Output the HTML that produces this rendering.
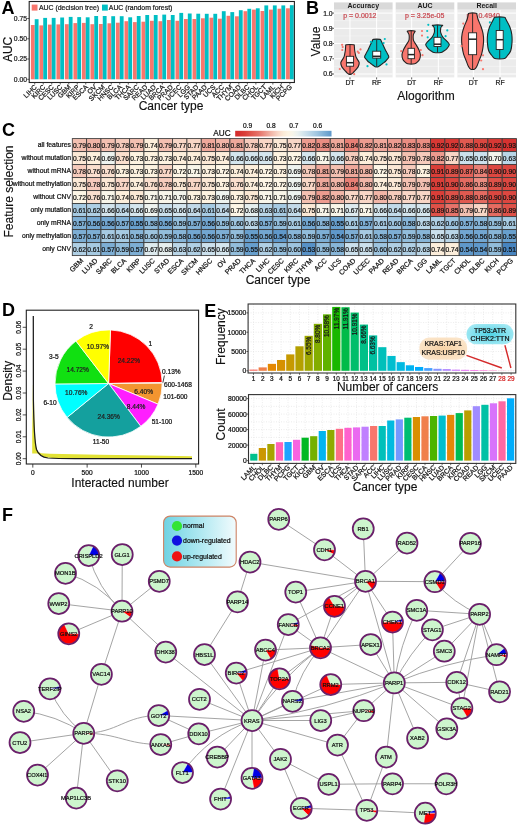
<!DOCTYPE html>
<html><head><meta charset="utf-8"><style>
html,body{margin:0;padding:0;background:#fff;}
svg{display:block;font-family:"Liberation Sans", sans-serif;will-change:transform;}
</style></head><body>
<svg width="520" height="827" viewBox="0 0 520 827">
<rect width="520" height="827" fill="#fff"/>
<rect x="30.90" y="25.00" width="3.83" height="54.30" fill="#F8766D"/>
<rect x="34.73" y="19.20" width="3.83" height="60.10" fill="#00BFC4"/>
<rect x="39.41" y="25.40" width="3.83" height="53.90" fill="#F8766D"/>
<rect x="43.23" y="17.90" width="3.83" height="61.40" fill="#00BFC4"/>
<rect x="47.91" y="24.60" width="3.83" height="54.70" fill="#F8766D"/>
<rect x="51.74" y="17.90" width="3.83" height="61.40" fill="#00BFC4"/>
<rect x="56.41" y="24.40" width="3.83" height="54.90" fill="#F8766D"/>
<rect x="60.24" y="17.50" width="3.83" height="61.80" fill="#00BFC4"/>
<rect x="64.92" y="24.20" width="3.83" height="55.10" fill="#F8766D"/>
<rect x="68.75" y="16.90" width="3.83" height="62.40" fill="#00BFC4"/>
<rect x="73.43" y="23.10" width="3.83" height="56.20" fill="#F8766D"/>
<rect x="77.26" y="17.10" width="3.83" height="62.20" fill="#00BFC4"/>
<rect x="81.93" y="22.90" width="3.83" height="56.40" fill="#F8766D"/>
<rect x="85.76" y="17.30" width="3.83" height="62.00" fill="#00BFC4"/>
<rect x="90.44" y="24.20" width="3.83" height="55.10" fill="#F8766D"/>
<rect x="94.27" y="16.00" width="3.83" height="63.30" fill="#00BFC4"/>
<rect x="98.94" y="24.00" width="3.83" height="55.30" fill="#F8766D"/>
<rect x="102.77" y="16.00" width="3.83" height="63.30" fill="#00BFC4"/>
<rect x="107.44" y="23.30" width="3.83" height="56.00" fill="#F8766D"/>
<rect x="111.27" y="16.20" width="3.83" height="63.10" fill="#00BFC4"/>
<rect x="115.95" y="22.70" width="3.83" height="56.60" fill="#F8766D"/>
<rect x="119.78" y="16.20" width="3.83" height="63.10" fill="#00BFC4"/>
<rect x="124.46" y="21.20" width="3.83" height="58.10" fill="#F8766D"/>
<rect x="128.29" y="17.30" width="3.83" height="62.00" fill="#00BFC4"/>
<rect x="132.96" y="22.10" width="3.83" height="57.20" fill="#F8766D"/>
<rect x="136.79" y="16.00" width="3.83" height="63.30" fill="#00BFC4"/>
<rect x="141.47" y="21.70" width="3.83" height="57.60" fill="#F8766D"/>
<rect x="145.30" y="15.00" width="3.83" height="64.30" fill="#00BFC4"/>
<rect x="149.97" y="20.80" width="3.83" height="58.50" fill="#F8766D"/>
<rect x="153.80" y="15.00" width="3.83" height="64.30" fill="#00BFC4"/>
<rect x="158.48" y="21.20" width="3.83" height="58.10" fill="#F8766D"/>
<rect x="162.31" y="14.60" width="3.83" height="64.70" fill="#00BFC4"/>
<rect x="166.98" y="20.00" width="3.83" height="59.30" fill="#F8766D"/>
<rect x="170.81" y="15.00" width="3.83" height="64.30" fill="#00BFC4"/>
<rect x="175.49" y="20.80" width="3.83" height="58.50" fill="#F8766D"/>
<rect x="179.32" y="12.90" width="3.83" height="66.40" fill="#00BFC4"/>
<rect x="183.99" y="19.00" width="3.83" height="60.30" fill="#F8766D"/>
<rect x="187.82" y="13.50" width="3.83" height="65.80" fill="#00BFC4"/>
<rect x="192.50" y="19.00" width="3.83" height="60.30" fill="#F8766D"/>
<rect x="196.33" y="13.70" width="3.83" height="65.60" fill="#00BFC4"/>
<rect x="201.00" y="18.30" width="3.83" height="61.00" fill="#F8766D"/>
<rect x="204.83" y="13.80" width="3.83" height="65.50" fill="#00BFC4"/>
<rect x="209.51" y="17.70" width="3.83" height="61.60" fill="#F8766D"/>
<rect x="213.34" y="13.80" width="3.83" height="65.50" fill="#00BFC4"/>
<rect x="218.01" y="18.70" width="3.83" height="60.60" fill="#F8766D"/>
<rect x="221.84" y="11.20" width="3.83" height="68.10" fill="#00BFC4"/>
<rect x="226.52" y="15.80" width="3.83" height="63.50" fill="#F8766D"/>
<rect x="230.35" y="12.10" width="3.83" height="67.20" fill="#00BFC4"/>
<rect x="235.02" y="16.30" width="3.83" height="63.00" fill="#F8766D"/>
<rect x="238.85" y="10.20" width="3.83" height="69.10" fill="#00BFC4"/>
<rect x="243.53" y="11.20" width="3.83" height="68.10" fill="#F8766D"/>
<rect x="247.36" y="8.80" width="3.83" height="70.50" fill="#00BFC4"/>
<rect x="252.03" y="9.60" width="3.83" height="69.70" fill="#F8766D"/>
<rect x="255.86" y="8.30" width="3.83" height="71.00" fill="#00BFC4"/>
<rect x="260.54" y="11.00" width="3.83" height="68.30" fill="#F8766D"/>
<rect x="264.37" y="5.40" width="3.83" height="73.90" fill="#00BFC4"/>
<rect x="269.04" y="9.60" width="3.83" height="69.70" fill="#F8766D"/>
<rect x="272.87" y="5.40" width="3.83" height="73.90" fill="#00BFC4"/>
<rect x="277.55" y="8.70" width="3.83" height="70.60" fill="#F8766D"/>
<rect x="281.38" y="5.40" width="3.83" height="73.90" fill="#00BFC4"/>
<rect x="286.05" y="8.30" width="3.83" height="71.00" fill="#F8766D"/>
<rect x="289.88" y="5.20" width="3.83" height="74.10" fill="#00BFC4"/>
<rect x="29.20" y="1.50" width="265.20" height="81.00" fill="none" stroke="#222" stroke-width="1.1"/>
<line x1="27.20" y1="79.30" x2="29.20" y2="79.30" stroke="#333" stroke-width="0.8"/>
<text x="27.10" y="81.70" font-size="6.8" text-anchor="end" fill="#1a1a1a" stroke="#1a1a1a" stroke-width="0.22">0.00</text>
<line x1="27.20" y1="59.03" x2="29.20" y2="59.03" stroke="#333" stroke-width="0.8"/>
<text x="27.10" y="61.43" font-size="6.8" text-anchor="end" fill="#1a1a1a" stroke="#1a1a1a" stroke-width="0.22">0.25</text>
<line x1="27.20" y1="38.77" x2="29.20" y2="38.77" stroke="#333" stroke-width="0.8"/>
<text x="27.10" y="41.16" font-size="6.8" text-anchor="end" fill="#1a1a1a" stroke="#1a1a1a" stroke-width="0.22">0.50</text>
<line x1="27.20" y1="18.50" x2="29.20" y2="18.50" stroke="#333" stroke-width="0.8"/>
<text x="27.10" y="20.90" font-size="6.8" text-anchor="end" fill="#1a1a1a" stroke="#1a1a1a" stroke-width="0.22">0.75</text>
<line x1="34.73" y1="82.50" x2="34.73" y2="84.50" stroke="#333" stroke-width="0.8"/>
<text x="37.33" y="87.50" font-size="6.8" text-anchor="end" fill="#1a1a1a" transform="rotate(-45 37.33 87.50)" stroke="#1a1a1a" stroke-width="0.22">LIHC</text>
<line x1="43.23" y1="82.50" x2="43.23" y2="84.50" stroke="#333" stroke-width="0.8"/>
<text x="45.84" y="87.50" font-size="6.8" text-anchor="end" fill="#1a1a1a" transform="rotate(-45 45.84 87.50)" stroke="#1a1a1a" stroke-width="0.22">KIRC</text>
<line x1="51.74" y1="82.50" x2="51.74" y2="84.50" stroke="#333" stroke-width="0.8"/>
<text x="54.34" y="87.50" font-size="6.8" text-anchor="end" fill="#1a1a1a" transform="rotate(-45 54.34 87.50)" stroke="#1a1a1a" stroke-width="0.22">CESC</text>
<line x1="60.24" y1="82.50" x2="60.24" y2="84.50" stroke="#333" stroke-width="0.8"/>
<text x="62.84" y="87.50" font-size="6.8" text-anchor="end" fill="#1a1a1a" transform="rotate(-45 62.84 87.50)" stroke="#1a1a1a" stroke-width="0.22">LUSC</text>
<line x1="68.75" y1="82.50" x2="68.75" y2="84.50" stroke="#333" stroke-width="0.8"/>
<text x="71.35" y="87.50" font-size="6.8" text-anchor="end" fill="#1a1a1a" transform="rotate(-45 71.35 87.50)" stroke="#1a1a1a" stroke-width="0.22">GBM</text>
<line x1="77.26" y1="82.50" x2="77.26" y2="84.50" stroke="#333" stroke-width="0.8"/>
<text x="79.86" y="87.50" font-size="6.8" text-anchor="end" fill="#1a1a1a" transform="rotate(-45 79.86 87.50)" stroke="#1a1a1a" stroke-width="0.22">KIRP</text>
<line x1="85.76" y1="82.50" x2="85.76" y2="84.50" stroke="#333" stroke-width="0.8"/>
<text x="88.36" y="87.50" font-size="6.8" text-anchor="end" fill="#1a1a1a" transform="rotate(-45 88.36 87.50)" stroke="#1a1a1a" stroke-width="0.22">ESCA</text>
<line x1="94.27" y1="82.50" x2="94.27" y2="84.50" stroke="#333" stroke-width="0.8"/>
<text x="96.86" y="87.50" font-size="6.8" text-anchor="end" fill="#1a1a1a" transform="rotate(-45 96.86 87.50)" stroke="#1a1a1a" stroke-width="0.22">OV</text>
<line x1="102.77" y1="82.50" x2="102.77" y2="84.50" stroke="#333" stroke-width="0.8"/>
<text x="105.37" y="87.50" font-size="6.8" text-anchor="end" fill="#1a1a1a" transform="rotate(-45 105.37 87.50)" stroke="#1a1a1a" stroke-width="0.22">SKCM</text>
<line x1="111.27" y1="82.50" x2="111.27" y2="84.50" stroke="#333" stroke-width="0.8"/>
<text x="113.87" y="87.50" font-size="6.8" text-anchor="end" fill="#1a1a1a" transform="rotate(-45 113.87 87.50)" stroke="#1a1a1a" stroke-width="0.22">HNSC</text>
<line x1="119.78" y1="82.50" x2="119.78" y2="84.50" stroke="#333" stroke-width="0.8"/>
<text x="122.38" y="87.50" font-size="6.8" text-anchor="end" fill="#1a1a1a" transform="rotate(-45 122.38 87.50)" stroke="#1a1a1a" stroke-width="0.22">BLCA</text>
<line x1="128.29" y1="82.50" x2="128.29" y2="84.50" stroke="#333" stroke-width="0.8"/>
<text x="130.89" y="87.50" font-size="6.8" text-anchor="end" fill="#1a1a1a" transform="rotate(-45 130.89 87.50)" stroke="#1a1a1a" stroke-width="0.22">THCA</text>
<line x1="136.79" y1="82.50" x2="136.79" y2="84.50" stroke="#333" stroke-width="0.8"/>
<text x="139.39" y="87.50" font-size="6.8" text-anchor="end" fill="#1a1a1a" transform="rotate(-45 139.39 87.50)" stroke="#1a1a1a" stroke-width="0.22">SARC</text>
<line x1="145.30" y1="82.50" x2="145.30" y2="84.50" stroke="#333" stroke-width="0.8"/>
<text x="147.90" y="87.50" font-size="6.8" text-anchor="end" fill="#1a1a1a" transform="rotate(-45 147.90 87.50)" stroke="#1a1a1a" stroke-width="0.22">READ</text>
<line x1="153.80" y1="82.50" x2="153.80" y2="84.50" stroke="#333" stroke-width="0.8"/>
<text x="156.40" y="87.50" font-size="6.8" text-anchor="end" fill="#1a1a1a" transform="rotate(-45 156.40 87.50)" stroke="#1a1a1a" stroke-width="0.22">LUAD</text>
<line x1="162.31" y1="82.50" x2="162.31" y2="84.50" stroke="#333" stroke-width="0.8"/>
<text x="164.91" y="87.50" font-size="6.8" text-anchor="end" fill="#1a1a1a" transform="rotate(-45 164.91 87.50)" stroke="#1a1a1a" stroke-width="0.22">BRCA</text>
<line x1="170.81" y1="82.50" x2="170.81" y2="84.50" stroke="#333" stroke-width="0.8"/>
<text x="173.41" y="87.50" font-size="6.8" text-anchor="end" fill="#1a1a1a" transform="rotate(-45 173.41 87.50)" stroke="#1a1a1a" stroke-width="0.22">PRAD</text>
<line x1="179.32" y1="82.50" x2="179.32" y2="84.50" stroke="#333" stroke-width="0.8"/>
<text x="181.92" y="87.50" font-size="6.8" text-anchor="end" fill="#1a1a1a" transform="rotate(-45 181.92 87.50)" stroke="#1a1a1a" stroke-width="0.22">UCEC</text>
<line x1="187.82" y1="82.50" x2="187.82" y2="84.50" stroke="#333" stroke-width="0.8"/>
<text x="190.42" y="87.50" font-size="6.8" text-anchor="end" fill="#1a1a1a" transform="rotate(-45 190.42 87.50)" stroke="#1a1a1a" stroke-width="0.22">LGG</text>
<line x1="196.33" y1="82.50" x2="196.33" y2="84.50" stroke="#333" stroke-width="0.8"/>
<text x="198.93" y="87.50" font-size="6.8" text-anchor="end" fill="#1a1a1a" transform="rotate(-45 198.93 87.50)" stroke="#1a1a1a" stroke-width="0.22">STAD</text>
<line x1="204.83" y1="82.50" x2="204.83" y2="84.50" stroke="#333" stroke-width="0.8"/>
<text x="207.43" y="87.50" font-size="6.8" text-anchor="end" fill="#1a1a1a" transform="rotate(-45 207.43 87.50)" stroke="#1a1a1a" stroke-width="0.22">PAAD</text>
<line x1="213.34" y1="82.50" x2="213.34" y2="84.50" stroke="#333" stroke-width="0.8"/>
<text x="215.94" y="87.50" font-size="6.8" text-anchor="end" fill="#1a1a1a" transform="rotate(-45 215.94 87.50)" stroke="#1a1a1a" stroke-width="0.22">UCS</text>
<line x1="221.84" y1="82.50" x2="221.84" y2="84.50" stroke="#333" stroke-width="0.8"/>
<text x="224.44" y="87.50" font-size="6.8" text-anchor="end" fill="#1a1a1a" transform="rotate(-45 224.44 87.50)" stroke="#1a1a1a" stroke-width="0.22">ACC</text>
<line x1="230.35" y1="82.50" x2="230.35" y2="84.50" stroke="#333" stroke-width="0.8"/>
<text x="232.95" y="87.50" font-size="6.8" text-anchor="end" fill="#1a1a1a" transform="rotate(-45 232.95 87.50)" stroke="#1a1a1a" stroke-width="0.22">THYM</text>
<line x1="238.85" y1="82.50" x2="238.85" y2="84.50" stroke="#333" stroke-width="0.8"/>
<text x="241.45" y="87.50" font-size="6.8" text-anchor="end" fill="#1a1a1a" transform="rotate(-45 241.45 87.50)" stroke="#1a1a1a" stroke-width="0.22">COAD</text>
<line x1="247.36" y1="82.50" x2="247.36" y2="84.50" stroke="#333" stroke-width="0.8"/>
<text x="249.96" y="87.50" font-size="6.8" text-anchor="end" fill="#1a1a1a" transform="rotate(-45 249.96 87.50)" stroke="#1a1a1a" stroke-width="0.22">DLBC</text>
<line x1="255.86" y1="82.50" x2="255.86" y2="84.50" stroke="#333" stroke-width="0.8"/>
<text x="258.46" y="87.50" font-size="6.8" text-anchor="end" fill="#1a1a1a" transform="rotate(-45 258.46 87.50)" stroke="#1a1a1a" stroke-width="0.22">CHOL</text>
<line x1="264.37" y1="82.50" x2="264.37" y2="84.50" stroke="#333" stroke-width="0.8"/>
<text x="266.97" y="87.50" font-size="6.8" text-anchor="end" fill="#1a1a1a" transform="rotate(-45 266.97 87.50)" stroke="#1a1a1a" stroke-width="0.22">TGCT</text>
<line x1="272.87" y1="82.50" x2="272.87" y2="84.50" stroke="#333" stroke-width="0.8"/>
<text x="275.47" y="87.50" font-size="6.8" text-anchor="end" fill="#1a1a1a" transform="rotate(-45 275.47 87.50)" stroke="#1a1a1a" stroke-width="0.22">LAML</text>
<line x1="281.38" y1="82.50" x2="281.38" y2="84.50" stroke="#333" stroke-width="0.8"/>
<text x="283.98" y="87.50" font-size="6.8" text-anchor="end" fill="#1a1a1a" transform="rotate(-45 283.98 87.50)" stroke="#1a1a1a" stroke-width="0.22">KICH</text>
<line x1="289.88" y1="82.50" x2="289.88" y2="84.50" stroke="#333" stroke-width="0.8"/>
<text x="292.48" y="87.50" font-size="6.8" text-anchor="end" fill="#1a1a1a" transform="rotate(-45 292.48 87.50)" stroke="#1a1a1a" stroke-width="0.22">PCPG</text>
<rect x="31.70" y="4.60" width="5.80" height="6.00" fill="#F8766D"/>
<text x="39.00" y="10.20" font-size="6.9" text-anchor="start" fill="#1a1a1a" stroke="#1a1a1a" stroke-width="0.22">AUC (decision tree)</text>
<rect x="102.00" y="4.60" width="5.80" height="6.00" fill="#00BFC4"/>
<text x="108.80" y="10.20" font-size="6.9" text-anchor="start" fill="#1a1a1a" stroke="#1a1a1a" stroke-width="0.22">AUC (random forest)</text>
<text x="171.00" y="110.20" font-size="12" text-anchor="middle" fill="#111" stroke="#111" stroke-width="0.15">Cancer type</text>
<text x="12.20" y="49.40" font-size="12" text-anchor="middle" fill="#111" transform="rotate(-90 12.20 49.40)" stroke="#111" stroke-width="0.15">AUC</text>
<text x="1.60" y="13.60" font-size="18" text-anchor="start" fill="#000" font-weight="bold">A</text>
<rect x="334.00" y="9.60" width="58.60" height="67.80" fill="#EBEBEB"/>
<line x1="334.00" y1="20.71" x2="392.60" y2="20.71" stroke="#F7F7F7" stroke-width="0.5"/>
<line x1="334.00" y1="35.94" x2="392.60" y2="35.94" stroke="#F7F7F7" stroke-width="0.5"/>
<line x1="334.00" y1="51.16" x2="392.60" y2="51.16" stroke="#F7F7F7" stroke-width="0.5"/>
<line x1="334.00" y1="66.39" x2="392.60" y2="66.39" stroke="#F7F7F7" stroke-width="0.5"/>
<line x1="334.00" y1="13.10" x2="392.60" y2="13.10" stroke="#FFFFFF" stroke-width="1.0"/>
<line x1="334.00" y1="28.32" x2="392.60" y2="28.32" stroke="#FFFFFF" stroke-width="1.0"/>
<line x1="334.00" y1="43.55" x2="392.60" y2="43.55" stroke="#FFFFFF" stroke-width="1.0"/>
<line x1="334.00" y1="58.78" x2="392.60" y2="58.78" stroke="#FFFFFF" stroke-width="1.0"/>
<line x1="334.00" y1="74.00" x2="392.60" y2="74.00" stroke="#FFFFFF" stroke-width="1.0"/>
<line x1="349.98" y1="9.60" x2="349.98" y2="77.40" stroke="#FFFFFF" stroke-width="1.0"/>
<line x1="376.62" y1="9.60" x2="376.62" y2="77.40" stroke="#FFFFFF" stroke-width="1.0"/>
<rect x="334.00" y="2.40" width="58.60" height="7.20" fill="#D9D9D9"/>
<text x="363.30" y="8.30" font-size="7.0" text-anchor="middle" fill="#1a1a1a" font-weight="bold">Accuracy</text>
<text x="343.20" y="17.70" font-size="7.0" text-anchor="start" fill="#C94A52" stroke="#C94A52" stroke-width="0.22">p = 0.0012</text>
<line x1="349.98" y1="77.40" x2="349.98" y2="79.40" stroke="#333" stroke-width="0.8"/>
<line x1="376.62" y1="77.40" x2="376.62" y2="79.40" stroke="#333" stroke-width="0.8"/>
<text x="349.98" y="85.20" font-size="6.8" text-anchor="middle" fill="#1a1a1a" stroke="#1a1a1a" stroke-width="0.22">DT</text>
<text x="376.62" y="85.20" font-size="6.8" text-anchor="middle" fill="#1a1a1a" stroke="#1a1a1a" stroke-width="0.22">RF</text>
<rect x="395.70" y="9.60" width="58.60" height="67.80" fill="#EBEBEB"/>
<line x1="395.70" y1="20.71" x2="454.30" y2="20.71" stroke="#F7F7F7" stroke-width="0.5"/>
<line x1="395.70" y1="35.94" x2="454.30" y2="35.94" stroke="#F7F7F7" stroke-width="0.5"/>
<line x1="395.70" y1="51.16" x2="454.30" y2="51.16" stroke="#F7F7F7" stroke-width="0.5"/>
<line x1="395.70" y1="66.39" x2="454.30" y2="66.39" stroke="#F7F7F7" stroke-width="0.5"/>
<line x1="395.70" y1="13.10" x2="454.30" y2="13.10" stroke="#FFFFFF" stroke-width="1.0"/>
<line x1="395.70" y1="28.32" x2="454.30" y2="28.32" stroke="#FFFFFF" stroke-width="1.0"/>
<line x1="395.70" y1="43.55" x2="454.30" y2="43.55" stroke="#FFFFFF" stroke-width="1.0"/>
<line x1="395.70" y1="58.78" x2="454.30" y2="58.78" stroke="#FFFFFF" stroke-width="1.0"/>
<line x1="395.70" y1="74.00" x2="454.30" y2="74.00" stroke="#FFFFFF" stroke-width="1.0"/>
<line x1="411.68" y1="9.60" x2="411.68" y2="77.40" stroke="#FFFFFF" stroke-width="1.0"/>
<line x1="438.32" y1="9.60" x2="438.32" y2="77.40" stroke="#FFFFFF" stroke-width="1.0"/>
<rect x="395.70" y="2.40" width="58.60" height="7.20" fill="#D9D9D9"/>
<text x="425.00" y="8.30" font-size="7.0" text-anchor="middle" fill="#1a1a1a" font-weight="bold">AUC</text>
<text x="404.90" y="17.70" font-size="7.0" text-anchor="start" fill="#C94A52" stroke="#C94A52" stroke-width="0.22">p = 3.25e-05</text>
<line x1="411.68" y1="77.40" x2="411.68" y2="79.40" stroke="#333" stroke-width="0.8"/>
<line x1="438.32" y1="77.40" x2="438.32" y2="79.40" stroke="#333" stroke-width="0.8"/>
<text x="411.68" y="85.20" font-size="6.8" text-anchor="middle" fill="#1a1a1a" stroke="#1a1a1a" stroke-width="0.22">DT</text>
<text x="438.32" y="85.20" font-size="6.8" text-anchor="middle" fill="#1a1a1a" stroke="#1a1a1a" stroke-width="0.22">RF</text>
<rect x="457.40" y="9.60" width="58.60" height="67.80" fill="#EBEBEB"/>
<line x1="457.40" y1="20.71" x2="516.00" y2="20.71" stroke="#F7F7F7" stroke-width="0.5"/>
<line x1="457.40" y1="35.94" x2="516.00" y2="35.94" stroke="#F7F7F7" stroke-width="0.5"/>
<line x1="457.40" y1="51.16" x2="516.00" y2="51.16" stroke="#F7F7F7" stroke-width="0.5"/>
<line x1="457.40" y1="66.39" x2="516.00" y2="66.39" stroke="#F7F7F7" stroke-width="0.5"/>
<line x1="457.40" y1="13.10" x2="516.00" y2="13.10" stroke="#FFFFFF" stroke-width="1.0"/>
<line x1="457.40" y1="28.32" x2="516.00" y2="28.32" stroke="#FFFFFF" stroke-width="1.0"/>
<line x1="457.40" y1="43.55" x2="516.00" y2="43.55" stroke="#FFFFFF" stroke-width="1.0"/>
<line x1="457.40" y1="58.78" x2="516.00" y2="58.78" stroke="#FFFFFF" stroke-width="1.0"/>
<line x1="457.40" y1="74.00" x2="516.00" y2="74.00" stroke="#FFFFFF" stroke-width="1.0"/>
<line x1="473.38" y1="9.60" x2="473.38" y2="77.40" stroke="#FFFFFF" stroke-width="1.0"/>
<line x1="500.02" y1="9.60" x2="500.02" y2="77.40" stroke="#FFFFFF" stroke-width="1.0"/>
<rect x="457.40" y="2.40" width="58.60" height="7.20" fill="#D9D9D9"/>
<text x="486.70" y="8.30" font-size="7.0" text-anchor="middle" fill="#1a1a1a" font-weight="bold">Recall</text>
<text x="466.60" y="17.70" font-size="7.0" text-anchor="start" fill="#C94A52" stroke="#C94A52" stroke-width="0.22">p = 0.4940</text>
<line x1="473.38" y1="77.40" x2="473.38" y2="79.40" stroke="#333" stroke-width="0.8"/>
<line x1="500.02" y1="77.40" x2="500.02" y2="79.40" stroke="#333" stroke-width="0.8"/>
<text x="473.38" y="85.20" font-size="6.8" text-anchor="middle" fill="#1a1a1a" stroke="#1a1a1a" stroke-width="0.22">DT</text>
<text x="500.02" y="85.20" font-size="6.8" text-anchor="middle" fill="#1a1a1a" stroke="#1a1a1a" stroke-width="0.22">RF</text>
<line x1="332.40" y1="13.10" x2="334.00" y2="13.10" stroke="#333" stroke-width="0.8"/>
<text x="332.60" y="15.50" font-size="6.8" text-anchor="end" fill="#1a1a1a" stroke="#1a1a1a" stroke-width="0.22">1.0</text>
<line x1="332.40" y1="28.32" x2="334.00" y2="28.32" stroke="#333" stroke-width="0.8"/>
<text x="332.60" y="30.72" font-size="6.8" text-anchor="end" fill="#1a1a1a" stroke="#1a1a1a" stroke-width="0.22">0.9</text>
<line x1="332.40" y1="43.55" x2="334.00" y2="43.55" stroke="#333" stroke-width="0.8"/>
<text x="332.60" y="45.95" font-size="6.8" text-anchor="end" fill="#1a1a1a" stroke="#1a1a1a" stroke-width="0.22">0.8</text>
<line x1="332.40" y1="58.78" x2="334.00" y2="58.78" stroke="#333" stroke-width="0.8"/>
<text x="332.60" y="61.18" font-size="6.8" text-anchor="end" fill="#1a1a1a" stroke="#1a1a1a" stroke-width="0.22">0.7</text>
<line x1="332.40" y1="74.00" x2="334.00" y2="74.00" stroke="#333" stroke-width="0.8"/>
<text x="332.60" y="76.40" font-size="6.8" text-anchor="end" fill="#1a1a1a" stroke="#1a1a1a" stroke-width="0.22">0.6</text>
<text x="320.00" y="41.50" font-size="12" text-anchor="middle" fill="#111" transform="rotate(-90 320.00 41.50)" stroke="#111" stroke-width="0.15">Value</text>
<text x="426.00" y="99.80" font-size="12" text-anchor="middle" fill="#111" stroke="#111" stroke-width="0.15">Alogorithm</text>
<text x="305.90" y="13.80" font-size="18" text-anchor="start" fill="#000" font-weight="bold">B</text>
<path d="M353.60,44.80 C354.92,45.00 354.13,45.13 354.30,46.00 C354.47,46.87 354.45,48.75 354.60,50.00 C354.75,51.25 354.97,52.35 355.20,53.50 C355.43,54.65 355.57,55.82 356.00,56.90 C356.43,57.98 357.27,59.03 357.80,60.00 C358.33,60.97 359.10,61.67 359.20,62.70 C359.30,63.73 358.80,65.22 358.40,66.20 C358.00,67.18 357.38,67.83 356.80,68.60 C356.22,69.37 355.53,70.10 354.90,70.80 C354.27,71.50 353.62,72.23 353.00,72.80 C352.38,73.37 351.90,73.97 351.20,74.20 C350.50,74.43 349.50,74.43 348.80,74.20 C348.10,73.97 347.62,73.37 347.00,72.80 C346.38,72.23 345.73,71.50 345.10,70.80 C344.47,70.10 343.78,69.37 343.20,68.60 C342.62,67.83 342.00,67.18 341.60,66.20 C341.20,65.22 340.70,63.73 340.80,62.70 C340.90,61.67 341.67,60.97 342.20,60.00 C342.73,59.03 343.57,57.98 344.00,56.90 C344.43,55.82 344.57,54.65 344.80,53.50 C345.03,52.35 345.25,51.25 345.40,50.00 C345.55,48.75 345.53,46.87 345.70,46.00 C345.87,45.13 345.08,45.00 346.40,44.80 C347.72,44.60 352.28,44.60 353.60,44.80Z" fill="#F8766D" stroke="#222" stroke-width="1.1" stroke-linejoin="round"/>
<line x1="350.00" y1="44.80" x2="350.00" y2="74.20" stroke="#222" stroke-width="0.9"/>
<rect x="346.40" y="56.30" width="7.20" height="9.90" fill="#FFFFFF" stroke="#222" stroke-width="0.9"/>
<line x1="346.40" y1="62.70" x2="353.60" y2="62.70" stroke="#222" stroke-width="1.5"/>
<circle cx="342.1" cy="44.8" r="1.1" fill="#F8766D"/>
<circle cx="342.7" cy="47.1" r="1.1" fill="#F8766D"/>
<circle cx="342.3" cy="50" r="1.1" fill="#F8766D"/>
<circle cx="360.5" cy="49.4" r="1.1" fill="#F8766D"/>
<circle cx="357.7" cy="51.7" r="1.1" fill="#F8766D"/>
<circle cx="358.8" cy="52.9" r="1.1" fill="#F8766D"/>
<circle cx="339.8" cy="69" r="1.1" fill="#F8766D"/>
<circle cx="354.2" cy="74.2" r="1.1" fill="#F8766D"/>
<path d="M380.00,39.40 C381.27,39.60 380.58,39.88 381.00,40.60 C381.42,41.32 382.00,42.63 382.50,43.70 C383.00,44.77 383.52,45.95 384.00,47.00 C384.48,48.05 384.85,48.92 385.40,50.00 C385.95,51.08 386.73,52.35 387.30,53.50 C387.87,54.65 388.82,55.93 388.80,56.90 C388.78,57.87 387.77,58.53 387.20,59.30 C386.63,60.07 386.15,60.80 385.40,61.50 C384.65,62.20 383.48,62.92 382.70,63.50 C381.92,64.08 381.45,64.47 380.70,65.00 C379.95,65.53 379.12,66.42 378.20,66.70 C377.28,66.98 376.12,66.98 375.20,66.70 C374.28,66.42 373.45,65.53 372.70,65.00 C371.95,64.47 371.48,64.08 370.70,63.50 C369.92,62.92 368.75,62.20 368.00,61.50 C367.25,60.80 366.77,60.07 366.20,59.30 C365.63,58.53 364.62,57.87 364.60,56.90 C364.58,55.93 365.53,54.65 366.10,53.50 C366.67,52.35 367.45,51.08 368.00,50.00 C368.55,48.92 368.92,48.05 369.40,47.00 C369.88,45.95 370.40,44.77 370.90,43.70 C371.40,42.63 371.98,41.32 372.40,40.60 C372.82,39.88 372.13,39.60 373.40,39.40 C374.67,39.20 378.73,39.20 380.00,39.40Z" fill="#00BFC4" stroke="#222" stroke-width="1.1" stroke-linejoin="round"/>
<line x1="376.70" y1="39.40" x2="376.70" y2="66.70" stroke="#222" stroke-width="0.9"/>
<rect x="372.70" y="51.20" width="8.00" height="6.90" fill="#FFFFFF" stroke="#222" stroke-width="0.9"/>
<line x1="372.70" y1="56.30" x2="380.70" y2="56.30" stroke="#222" stroke-width="1.5"/>
<circle cx="384.8" cy="39" r="1.1" fill="#00BFC4"/>
<circle cx="370.9" cy="41.9" r="1.1" fill="#00BFC4"/>
<circle cx="383.6" cy="43.1" r="1.1" fill="#00BFC4"/>
<circle cx="367.5" cy="66.2" r="1.1" fill="#00BFC4"/>
<circle cx="386.5" cy="64.4" r="1.1" fill="#00BFC4"/>
<path d="M414.70,31.00 C415.82,31.25 414.63,31.83 414.40,32.50 C414.17,33.17 413.48,33.82 413.30,35.00 C413.12,36.18 413.10,38.38 413.30,39.60 C413.50,40.82 414.03,41.43 414.50,42.30 C414.97,43.17 415.35,43.52 416.10,44.80 C416.85,46.08 418.28,48.37 419.00,50.00 C419.72,51.63 420.30,53.07 420.40,54.60 C420.50,56.13 420.13,57.93 419.60,59.20 C419.07,60.47 418.02,61.43 417.20,62.20 C416.38,62.97 416.28,63.53 414.70,63.80 C413.12,64.07 409.28,64.07 407.70,63.80 C406.12,63.53 406.02,62.97 405.20,62.20 C404.38,61.43 403.33,60.47 402.80,59.20 C402.27,57.93 401.90,56.13 402.00,54.60 C402.10,53.07 402.68,51.63 403.40,50.00 C404.12,48.37 405.55,46.08 406.30,44.80 C407.05,43.52 407.43,43.17 407.90,42.30 C408.37,41.43 408.90,40.82 409.10,39.60 C409.30,38.38 409.28,36.18 409.10,35.00 C408.92,33.82 408.23,33.17 408.00,32.50 C407.77,31.83 406.58,31.25 407.70,31.00 C408.82,30.75 413.58,30.75 414.70,31.00Z" fill="#F8766D" stroke="#222" stroke-width="1.1" stroke-linejoin="round"/>
<line x1="411.20" y1="31.00" x2="411.20" y2="63.80" stroke="#222" stroke-width="0.9"/>
<rect x="408.00" y="48.30" width="6.40" height="10.40" fill="#FFFFFF" stroke="#222" stroke-width="0.9"/>
<line x1="408.00" y1="54.60" x2="414.40" y2="54.60" stroke="#222" stroke-width="1.5"/>
<circle cx="401.2" cy="51.2" r="1.1" fill="#F8766D"/>
<circle cx="422" cy="31" r="1.1" fill="#F8766D"/>
<circle cx="422" cy="35.6" r="1.1" fill="#F8766D"/>
<circle cx="420.8" cy="50" r="1.1" fill="#F8766D"/>
<circle cx="422.5" cy="55.2" r="1.1" fill="#F8766D"/>
<path d="M442.10,25.20 C443.57,25.38 441.93,25.82 441.70,26.30 C441.47,26.78 440.87,27.03 440.70,28.10 C440.53,29.17 440.32,31.17 440.70,32.70 C441.08,34.23 441.95,35.87 443.00,37.30 C444.05,38.73 445.95,40.05 447.00,41.30 C448.05,42.55 449.35,43.55 449.30,44.80 C449.25,46.05 447.70,47.72 446.70,48.80 C445.70,49.88 444.25,50.68 443.30,51.30 C442.35,51.92 442.55,52.30 441.00,52.50 C439.45,52.70 435.55,52.70 434.00,52.50 C432.45,52.30 432.65,51.92 431.70,51.30 C430.75,50.68 429.30,49.88 428.30,48.80 C427.30,47.72 425.75,46.05 425.70,44.80 C425.65,43.55 426.95,42.55 428.00,41.30 C429.05,40.05 430.95,38.73 432.00,37.30 C433.05,35.87 433.92,34.23 434.30,32.70 C434.68,31.17 434.47,29.17 434.30,28.10 C434.13,27.03 433.53,26.78 433.30,26.30 C433.07,25.82 431.43,25.38 432.90,25.20 C434.37,25.02 440.63,25.02 442.10,25.20Z" fill="#00BFC4" stroke="#222" stroke-width="1.1" stroke-linejoin="round"/>
<line x1="437.50" y1="25.20" x2="437.50" y2="52.50" stroke="#222" stroke-width="0.9"/>
<rect x="434.00" y="37.30" width="7.00" height="9.20" fill="#FFFFFF" stroke="#222" stroke-width="0.9"/>
<line x1="434.00" y1="44.20" x2="441.00" y2="44.20" stroke="#222" stroke-width="1.5"/>
<circle cx="428.3" cy="24.8" r="1.1" fill="#00BFC4"/>
<circle cx="427.2" cy="31" r="1.1" fill="#00BFC4"/>
<circle cx="427.7" cy="37.3" r="1.1" fill="#00BFC4"/>
<circle cx="447.3" cy="30.4" r="1.1" fill="#00BFC4"/>
<circle cx="445.6" cy="36.2" r="1.1" fill="#00BFC4"/>
<path d="M476.10,13.20 C477.40,13.42 476.57,13.45 476.90,14.50 C477.23,15.55 477.42,17.50 478.10,19.50 C478.78,21.50 480.18,24.18 481.00,26.50 C481.82,28.82 482.57,31.10 483.00,33.40 C483.43,35.70 483.60,38.00 483.60,40.30 C483.60,42.60 483.33,44.88 483.00,47.20 C482.67,49.52 482.28,51.88 481.60,54.20 C480.92,56.52 479.73,59.00 478.90,61.10 C478.07,63.20 477.35,65.45 476.60,66.80 C475.85,68.15 475.37,68.80 474.40,69.20 C473.43,69.60 471.77,69.60 470.80,69.20 C469.83,68.80 469.35,68.15 468.60,66.80 C467.85,65.45 467.13,63.20 466.30,61.10 C465.47,59.00 464.28,56.52 463.60,54.20 C462.92,51.88 462.53,49.52 462.20,47.20 C461.87,44.88 461.60,42.60 461.60,40.30 C461.60,38.00 461.77,35.70 462.20,33.40 C462.63,31.10 463.38,28.82 464.20,26.50 C465.02,24.18 466.42,21.50 467.10,19.50 C467.78,17.50 467.97,15.55 468.30,14.50 C468.63,13.45 467.80,13.42 469.10,13.20 C470.40,12.98 474.80,12.98 476.10,13.20Z" fill="#F8766D" stroke="#222" stroke-width="1.1" stroke-linejoin="round"/>
<line x1="472.60" y1="13.20" x2="472.60" y2="69.20" stroke="#222" stroke-width="0.9"/>
<rect x="468.60" y="32.80" width="8.00" height="21.90" fill="#FFFFFF" stroke="#222" stroke-width="0.9"/>
<line x1="468.60" y1="39.20" x2="476.60" y2="39.20" stroke="#222" stroke-width="1.5"/>
<circle cx="463.3" cy="23.6" r="1.1" fill="#F8766D"/>
<circle cx="461.6" cy="46.1" r="1.1" fill="#F8766D"/>
<circle cx="483" cy="55.3" r="1.1" fill="#F8766D"/>
<circle cx="481.2" cy="60.5" r="1.1" fill="#F8766D"/>
<circle cx="483" cy="69.2" r="1.1" fill="#F8766D"/>
<path d="M504.30,17.20 C506.03,17.42 505.02,17.73 505.50,18.50 C505.98,19.27 506.43,20.28 507.20,21.80 C507.97,23.32 509.33,25.48 510.10,27.60 C510.87,29.72 511.48,32.00 511.80,34.50 C512.12,37.00 512.18,39.90 512.00,42.60 C511.82,45.30 511.42,48.58 510.70,50.70 C509.98,52.82 508.57,54.08 507.70,55.30 C506.83,56.52 506.25,57.42 505.50,58.00 C504.75,58.58 504.75,58.67 503.20,58.80 C501.65,58.93 497.75,58.93 496.20,58.80 C494.65,58.67 494.65,58.58 493.90,58.00 C493.15,57.42 492.57,56.52 491.70,55.30 C490.83,54.08 489.42,52.82 488.70,50.70 C487.98,48.58 487.58,45.30 487.40,42.60 C487.22,39.90 487.28,37.00 487.60,34.50 C487.92,32.00 488.53,29.72 489.30,27.60 C490.07,25.48 491.43,23.32 492.20,21.80 C492.97,20.28 493.42,19.27 493.90,18.50 C494.38,17.73 493.37,17.42 495.10,17.20 C496.83,16.98 502.57,16.98 504.30,17.20Z" fill="#00BFC4" stroke="#222" stroke-width="1.1" stroke-linejoin="round"/>
<line x1="499.70" y1="17.20" x2="499.70" y2="58.80" stroke="#222" stroke-width="0.9"/>
<rect x="496.20" y="30.50" width="7.00" height="19.00" fill="#FFFFFF" stroke="#222" stroke-width="0.9"/>
<line x1="496.20" y1="39.70" x2="503.20" y2="39.70" stroke="#222" stroke-width="1.5"/>
<circle cx="489.9" cy="22.4" r="1.1" fill="#00BFC4"/>
<rect x="72.30" y="138.60" width="14.33" height="13.00" fill="#F3C0B1" stroke="#3a3a3a" stroke-width="0.85"/>
<text x="79.47" y="147.70" font-size="6.7" text-anchor="middle" fill="#111" stroke="#111" stroke-width="0.22">0.79</text>
<rect x="86.63" y="138.60" width="14.33" height="13.00" fill="#F1B5A7" stroke="#3a3a3a" stroke-width="0.85"/>
<text x="93.80" y="147.70" font-size="6.7" text-anchor="middle" fill="#111" stroke="#111" stroke-width="0.22">0.80</text>
<rect x="100.96" y="138.60" width="14.33" height="13.00" fill="#F3C0B1" stroke="#3a3a3a" stroke-width="0.85"/>
<text x="108.12" y="147.70" font-size="6.7" text-anchor="middle" fill="#111" stroke="#111" stroke-width="0.22">0.79</text>
<rect x="115.29" y="138.60" width="14.33" height="13.00" fill="#F6CBBC" stroke="#3a3a3a" stroke-width="0.85"/>
<text x="122.45" y="147.70" font-size="6.7" text-anchor="middle" fill="#111" stroke="#111" stroke-width="0.22">0.78</text>
<rect x="129.62" y="138.60" width="14.33" height="13.00" fill="#F3C0B1" stroke="#3a3a3a" stroke-width="0.85"/>
<text x="136.78" y="147.70" font-size="6.7" text-anchor="middle" fill="#111" stroke="#111" stroke-width="0.22">0.79</text>
<rect x="143.95" y="138.60" width="14.33" height="13.00" fill="#FCEEDB" stroke="#3a3a3a" stroke-width="0.85"/>
<text x="151.11" y="147.70" font-size="6.7" text-anchor="middle" fill="#111" stroke="#111" stroke-width="0.22">0.74</text>
<rect x="158.28" y="138.60" width="14.33" height="13.00" fill="#F3C0B1" stroke="#3a3a3a" stroke-width="0.85"/>
<text x="165.44" y="147.70" font-size="6.7" text-anchor="middle" fill="#111" stroke="#111" stroke-width="0.22">0.79</text>
<rect x="172.61" y="138.60" width="14.33" height="13.00" fill="#F8D6C6" stroke="#3a3a3a" stroke-width="0.85"/>
<text x="179.78" y="147.70" font-size="6.7" text-anchor="middle" fill="#111" stroke="#111" stroke-width="0.22">0.77</text>
<rect x="186.94" y="138.60" width="14.33" height="13.00" fill="#F8D6C6" stroke="#3a3a3a" stroke-width="0.85"/>
<text x="194.10" y="147.70" font-size="6.7" text-anchor="middle" fill="#111" stroke="#111" stroke-width="0.22">0.77</text>
<rect x="201.27" y="138.60" width="14.33" height="13.00" fill="#EFA89B" stroke="#3a3a3a" stroke-width="0.85"/>
<text x="208.43" y="147.70" font-size="6.7" text-anchor="middle" fill="#111" stroke="#111" stroke-width="0.22">0.81</text>
<rect x="215.60" y="138.60" width="14.33" height="13.00" fill="#F1B5A7" stroke="#3a3a3a" stroke-width="0.85"/>
<text x="222.77" y="147.70" font-size="6.7" text-anchor="middle" fill="#111" stroke="#111" stroke-width="0.22">0.80</text>
<rect x="229.93" y="138.60" width="14.33" height="13.00" fill="#EFA89B" stroke="#3a3a3a" stroke-width="0.85"/>
<text x="237.09" y="147.70" font-size="6.7" text-anchor="middle" fill="#111" stroke="#111" stroke-width="0.22">0.81</text>
<rect x="244.26" y="138.60" width="14.33" height="13.00" fill="#F6CBBC" stroke="#3a3a3a" stroke-width="0.85"/>
<text x="251.42" y="147.70" font-size="6.7" text-anchor="middle" fill="#111" stroke="#111" stroke-width="0.22">0.78</text>
<rect x="258.59" y="138.60" width="14.33" height="13.00" fill="#F8D6C6" stroke="#3a3a3a" stroke-width="0.85"/>
<text x="265.75" y="147.70" font-size="6.7" text-anchor="middle" fill="#111" stroke="#111" stroke-width="0.22">0.77</text>
<rect x="272.92" y="138.60" width="14.33" height="13.00" fill="#FBE8D5" stroke="#3a3a3a" stroke-width="0.85"/>
<text x="280.09" y="147.70" font-size="6.7" text-anchor="middle" fill="#111" stroke="#111" stroke-width="0.22">0.75</text>
<rect x="287.25" y="138.60" width="14.33" height="13.00" fill="#F8D6C6" stroke="#3a3a3a" stroke-width="0.85"/>
<text x="294.42" y="147.70" font-size="6.7" text-anchor="middle" fill="#111" stroke="#111" stroke-width="0.22">0.77</text>
<rect x="301.58" y="138.60" width="14.33" height="13.00" fill="#ED9B8F" stroke="#3a3a3a" stroke-width="0.85"/>
<text x="308.75" y="147.70" font-size="6.7" text-anchor="middle" fill="#111" stroke="#111" stroke-width="0.22">0.82</text>
<rect x="315.91" y="138.60" width="14.33" height="13.00" fill="#EA8D82" stroke="#3a3a3a" stroke-width="0.85"/>
<text x="323.08" y="147.70" font-size="6.7" text-anchor="middle" fill="#111" stroke="#111" stroke-width="0.22">0.83</text>
<rect x="330.24" y="138.60" width="14.33" height="13.00" fill="#EFA89B" stroke="#3a3a3a" stroke-width="0.85"/>
<text x="337.41" y="147.70" font-size="6.7" text-anchor="middle" fill="#111" stroke="#111" stroke-width="0.22">0.81</text>
<rect x="344.57" y="138.60" width="14.33" height="13.00" fill="#E88076" stroke="#3a3a3a" stroke-width="0.85"/>
<text x="351.74" y="147.70" font-size="6.7" text-anchor="middle" fill="#111" stroke="#111" stroke-width="0.22">0.84</text>
<rect x="358.90" y="138.60" width="14.33" height="13.00" fill="#ED9B8F" stroke="#3a3a3a" stroke-width="0.85"/>
<text x="366.07" y="147.70" font-size="6.7" text-anchor="middle" fill="#111" stroke="#111" stroke-width="0.22">0.82</text>
<rect x="373.23" y="138.60" width="14.33" height="13.00" fill="#EFA89B" stroke="#3a3a3a" stroke-width="0.85"/>
<text x="380.40" y="147.70" font-size="6.7" text-anchor="middle" fill="#111" stroke="#111" stroke-width="0.22">0.81</text>
<rect x="387.56" y="138.60" width="14.33" height="13.00" fill="#ED9B8F" stroke="#3a3a3a" stroke-width="0.85"/>
<text x="394.73" y="147.70" font-size="6.7" text-anchor="middle" fill="#111" stroke="#111" stroke-width="0.22">0.82</text>
<rect x="401.89" y="138.60" width="14.33" height="13.00" fill="#EA8D82" stroke="#3a3a3a" stroke-width="0.85"/>
<text x="409.06" y="147.70" font-size="6.7" text-anchor="middle" fill="#111" stroke="#111" stroke-width="0.22">0.83</text>
<rect x="416.22" y="138.60" width="14.33" height="13.00" fill="#EA8D82" stroke="#3a3a3a" stroke-width="0.85"/>
<text x="423.39" y="147.70" font-size="6.7" text-anchor="middle" fill="#111" stroke="#111" stroke-width="0.22">0.83</text>
<rect x="430.55" y="138.60" width="14.33" height="13.00" fill="#D83834" stroke="#3a3a3a" stroke-width="0.85"/>
<text x="437.72" y="147.70" font-size="6.7" text-anchor="middle" fill="#111" stroke="#111" stroke-width="0.22">0.92</text>
<rect x="444.88" y="138.60" width="14.33" height="13.00" fill="#D83834" stroke="#3a3a3a" stroke-width="0.85"/>
<text x="452.05" y="147.70" font-size="6.7" text-anchor="middle" fill="#111" stroke="#111" stroke-width="0.22">0.92</text>
<rect x="459.21" y="138.60" width="14.33" height="13.00" fill="#E05A50" stroke="#3a3a3a" stroke-width="0.85"/>
<text x="466.38" y="147.70" font-size="6.7" text-anchor="middle" fill="#111" stroke="#111" stroke-width="0.22">0.88</text>
<rect x="473.54" y="138.60" width="14.33" height="13.00" fill="#DC4740" stroke="#3a3a3a" stroke-width="0.85"/>
<text x="480.71" y="147.70" font-size="6.7" text-anchor="middle" fill="#111" stroke="#111" stroke-width="0.22">0.90</text>
<rect x="487.87" y="138.60" width="14.33" height="13.00" fill="#D83834" stroke="#3a3a3a" stroke-width="0.85"/>
<text x="495.04" y="147.70" font-size="6.7" text-anchor="middle" fill="#111" stroke="#111" stroke-width="0.22">0.92</text>
<rect x="502.20" y="138.60" width="14.33" height="13.00" fill="#D63230" stroke="#3a3a3a" stroke-width="0.85"/>
<text x="509.37" y="147.70" font-size="6.7" text-anchor="middle" fill="#111" stroke="#111" stroke-width="0.22">0.93</text>
<rect x="72.30" y="151.60" width="14.33" height="13.00" fill="#FBE8D5" stroke="#3a3a3a" stroke-width="0.85"/>
<text x="79.47" y="160.70" font-size="6.7" text-anchor="middle" fill="#111" stroke="#111" stroke-width="0.22">0.75</text>
<rect x="86.63" y="151.60" width="14.33" height="13.00" fill="#FCEEDB" stroke="#3a3a3a" stroke-width="0.85"/>
<text x="93.80" y="160.70" font-size="6.7" text-anchor="middle" fill="#111" stroke="#111" stroke-width="0.22">0.74</text>
<rect x="100.96" y="151.60" width="14.33" height="13.00" fill="#EEF3EF" stroke="#3a3a3a" stroke-width="0.85"/>
<text x="108.12" y="160.70" font-size="6.7" text-anchor="middle" fill="#111" stroke="#111" stroke-width="0.22">0.69</text>
<rect x="115.29" y="151.60" width="14.33" height="13.00" fill="#FADFCE" stroke="#3a3a3a" stroke-width="0.85"/>
<text x="122.45" y="160.70" font-size="6.7" text-anchor="middle" fill="#111" stroke="#111" stroke-width="0.22">0.76</text>
<rect x="129.62" y="151.60" width="14.33" height="13.00" fill="#FDF2E0" stroke="#3a3a3a" stroke-width="0.85"/>
<text x="136.78" y="160.70" font-size="6.7" text-anchor="middle" fill="#111" stroke="#111" stroke-width="0.22">0.73</text>
<rect x="143.95" y="151.60" width="14.33" height="13.00" fill="#FDF2E0" stroke="#3a3a3a" stroke-width="0.85"/>
<text x="151.11" y="160.70" font-size="6.7" text-anchor="middle" fill="#111" stroke="#111" stroke-width="0.22">0.73</text>
<rect x="158.28" y="151.60" width="14.33" height="13.00" fill="#FDF2E0" stroke="#3a3a3a" stroke-width="0.85"/>
<text x="165.44" y="160.70" font-size="6.7" text-anchor="middle" fill="#111" stroke="#111" stroke-width="0.22">0.73</text>
<rect x="172.61" y="151.60" width="14.33" height="13.00" fill="#FCEEDB" stroke="#3a3a3a" stroke-width="0.85"/>
<text x="179.78" y="160.70" font-size="6.7" text-anchor="middle" fill="#111" stroke="#111" stroke-width="0.22">0.74</text>
<rect x="186.94" y="151.60" width="14.33" height="13.00" fill="#FCEEDB" stroke="#3a3a3a" stroke-width="0.85"/>
<text x="194.10" y="160.70" font-size="6.7" text-anchor="middle" fill="#111" stroke="#111" stroke-width="0.22">0.74</text>
<rect x="201.27" y="151.60" width="14.33" height="13.00" fill="#FBE8D5" stroke="#3a3a3a" stroke-width="0.85"/>
<text x="208.43" y="160.70" font-size="6.7" text-anchor="middle" fill="#111" stroke="#111" stroke-width="0.22">0.75</text>
<rect x="215.60" y="151.60" width="14.33" height="13.00" fill="#FCEEDB" stroke="#3a3a3a" stroke-width="0.85"/>
<text x="222.77" y="160.70" font-size="6.7" text-anchor="middle" fill="#111" stroke="#111" stroke-width="0.22">0.74</text>
<rect x="229.93" y="151.60" width="14.33" height="13.00" fill="#D4E5ED" stroke="#3a3a3a" stroke-width="0.85"/>
<text x="237.09" y="160.70" font-size="6.7" text-anchor="middle" fill="#111" stroke="#111" stroke-width="0.22">0.66</text>
<rect x="244.26" y="151.60" width="14.33" height="13.00" fill="#D4E5ED" stroke="#3a3a3a" stroke-width="0.85"/>
<text x="251.42" y="160.70" font-size="6.7" text-anchor="middle" fill="#111" stroke="#111" stroke-width="0.22">0.66</text>
<rect x="258.59" y="151.60" width="14.33" height="13.00" fill="#D4E5ED" stroke="#3a3a3a" stroke-width="0.85"/>
<text x="265.75" y="160.70" font-size="6.7" text-anchor="middle" fill="#111" stroke="#111" stroke-width="0.22">0.66</text>
<rect x="272.92" y="151.60" width="14.33" height="13.00" fill="#FDF2E0" stroke="#3a3a3a" stroke-width="0.85"/>
<text x="280.09" y="160.70" font-size="6.7" text-anchor="middle" fill="#111" stroke="#111" stroke-width="0.22">0.73</text>
<rect x="287.25" y="151.60" width="14.33" height="13.00" fill="#FDF6E6" stroke="#3a3a3a" stroke-width="0.85"/>
<text x="294.42" y="160.70" font-size="6.7" text-anchor="middle" fill="#111" stroke="#111" stroke-width="0.22">0.72</text>
<rect x="301.58" y="151.60" width="14.33" height="13.00" fill="#D4E5ED" stroke="#3a3a3a" stroke-width="0.85"/>
<text x="308.75" y="160.70" font-size="6.7" text-anchor="middle" fill="#111" stroke="#111" stroke-width="0.22">0.66</text>
<rect x="315.91" y="151.60" width="14.33" height="13.00" fill="#F8F5E9" stroke="#3a3a3a" stroke-width="0.85"/>
<text x="323.08" y="160.70" font-size="6.7" text-anchor="middle" fill="#111" stroke="#111" stroke-width="0.22">0.71</text>
<rect x="330.24" y="151.60" width="14.33" height="13.00" fill="#D4E5ED" stroke="#3a3a3a" stroke-width="0.85"/>
<text x="337.41" y="160.70" font-size="6.7" text-anchor="middle" fill="#111" stroke="#111" stroke-width="0.22">0.66</text>
<rect x="344.57" y="151.60" width="14.33" height="13.00" fill="#F6CBBC" stroke="#3a3a3a" stroke-width="0.85"/>
<text x="351.74" y="160.70" font-size="6.7" text-anchor="middle" fill="#111" stroke="#111" stroke-width="0.22">0.78</text>
<rect x="358.90" y="151.60" width="14.33" height="13.00" fill="#FCEEDB" stroke="#3a3a3a" stroke-width="0.85"/>
<text x="366.07" y="160.70" font-size="6.7" text-anchor="middle" fill="#111" stroke="#111" stroke-width="0.22">0.74</text>
<rect x="373.23" y="151.60" width="14.33" height="13.00" fill="#FBE8D5" stroke="#3a3a3a" stroke-width="0.85"/>
<text x="380.40" y="160.70" font-size="6.7" text-anchor="middle" fill="#111" stroke="#111" stroke-width="0.22">0.75</text>
<rect x="387.56" y="151.60" width="14.33" height="13.00" fill="#FBE8D5" stroke="#3a3a3a" stroke-width="0.85"/>
<text x="394.73" y="160.70" font-size="6.7" text-anchor="middle" fill="#111" stroke="#111" stroke-width="0.22">0.75</text>
<rect x="401.89" y="151.60" width="14.33" height="13.00" fill="#F3C0B1" stroke="#3a3a3a" stroke-width="0.85"/>
<text x="409.06" y="160.70" font-size="6.7" text-anchor="middle" fill="#111" stroke="#111" stroke-width="0.22">0.79</text>
<rect x="416.22" y="151.60" width="14.33" height="13.00" fill="#F6CBBC" stroke="#3a3a3a" stroke-width="0.85"/>
<text x="423.39" y="160.70" font-size="6.7" text-anchor="middle" fill="#111" stroke="#111" stroke-width="0.22">0.78</text>
<rect x="430.55" y="151.60" width="14.33" height="13.00" fill="#ED9B8F" stroke="#3a3a3a" stroke-width="0.85"/>
<text x="437.72" y="160.70" font-size="6.7" text-anchor="middle" fill="#111" stroke="#111" stroke-width="0.22">0.82</text>
<rect x="444.88" y="151.60" width="14.33" height="13.00" fill="#F8D6C6" stroke="#3a3a3a" stroke-width="0.85"/>
<text x="452.05" y="160.70" font-size="6.7" text-anchor="middle" fill="#111" stroke="#111" stroke-width="0.22">0.77</text>
<rect x="459.21" y="151.60" width="14.33" height="13.00" fill="#CBE0EC" stroke="#3a3a3a" stroke-width="0.85"/>
<text x="466.38" y="160.70" font-size="6.7" text-anchor="middle" fill="#111" stroke="#111" stroke-width="0.22">0.65</text>
<rect x="473.54" y="151.60" width="14.33" height="13.00" fill="#CBE0EC" stroke="#3a3a3a" stroke-width="0.85"/>
<text x="480.71" y="160.70" font-size="6.7" text-anchor="middle" fill="#111" stroke="#111" stroke-width="0.22">0.65</text>
<rect x="487.87" y="151.60" width="14.33" height="13.00" fill="#F3F4EC" stroke="#3a3a3a" stroke-width="0.85"/>
<text x="495.04" y="160.70" font-size="6.7" text-anchor="middle" fill="#111" stroke="#111" stroke-width="0.22">0.70</text>
<rect x="502.20" y="151.60" width="14.33" height="13.00" fill="#B9D5E7" stroke="#3a3a3a" stroke-width="0.85"/>
<text x="509.37" y="160.70" font-size="6.7" text-anchor="middle" fill="#111" stroke="#111" stroke-width="0.22">0.63</text>
<rect x="72.30" y="164.60" width="14.33" height="13.00" fill="#F6CBBC" stroke="#3a3a3a" stroke-width="0.85"/>
<text x="79.47" y="173.70" font-size="6.7" text-anchor="middle" fill="#111" stroke="#111" stroke-width="0.22">0.78</text>
<rect x="86.63" y="164.60" width="14.33" height="13.00" fill="#FADFCE" stroke="#3a3a3a" stroke-width="0.85"/>
<text x="93.80" y="173.70" font-size="6.7" text-anchor="middle" fill="#111" stroke="#111" stroke-width="0.22">0.76</text>
<rect x="100.96" y="164.60" width="14.33" height="13.00" fill="#FADFCE" stroke="#3a3a3a" stroke-width="0.85"/>
<text x="108.12" y="173.70" font-size="6.7" text-anchor="middle" fill="#111" stroke="#111" stroke-width="0.22">0.76</text>
<rect x="115.29" y="164.60" width="14.33" height="13.00" fill="#FDF2E0" stroke="#3a3a3a" stroke-width="0.85"/>
<text x="122.45" y="173.70" font-size="6.7" text-anchor="middle" fill="#111" stroke="#111" stroke-width="0.22">0.73</text>
<rect x="129.62" y="164.60" width="14.33" height="13.00" fill="#FDF2E0" stroke="#3a3a3a" stroke-width="0.85"/>
<text x="136.78" y="173.70" font-size="6.7" text-anchor="middle" fill="#111" stroke="#111" stroke-width="0.22">0.73</text>
<rect x="143.95" y="164.60" width="14.33" height="13.00" fill="#FDF2E0" stroke="#3a3a3a" stroke-width="0.85"/>
<text x="151.11" y="173.70" font-size="6.7" text-anchor="middle" fill="#111" stroke="#111" stroke-width="0.22">0.73</text>
<rect x="158.28" y="164.60" width="14.33" height="13.00" fill="#F8D6C6" stroke="#3a3a3a" stroke-width="0.85"/>
<text x="165.44" y="173.70" font-size="6.7" text-anchor="middle" fill="#111" stroke="#111" stroke-width="0.22">0.77</text>
<rect x="172.61" y="164.60" width="14.33" height="13.00" fill="#FDF6E6" stroke="#3a3a3a" stroke-width="0.85"/>
<text x="179.78" y="173.70" font-size="6.7" text-anchor="middle" fill="#111" stroke="#111" stroke-width="0.22">0.72</text>
<rect x="186.94" y="164.60" width="14.33" height="13.00" fill="#F8F5E9" stroke="#3a3a3a" stroke-width="0.85"/>
<text x="194.10" y="173.70" font-size="6.7" text-anchor="middle" fill="#111" stroke="#111" stroke-width="0.22">0.71</text>
<rect x="201.27" y="164.60" width="14.33" height="13.00" fill="#FDF2E0" stroke="#3a3a3a" stroke-width="0.85"/>
<text x="208.43" y="173.70" font-size="6.7" text-anchor="middle" fill="#111" stroke="#111" stroke-width="0.22">0.73</text>
<rect x="215.60" y="164.60" width="14.33" height="13.00" fill="#FDF6E6" stroke="#3a3a3a" stroke-width="0.85"/>
<text x="222.77" y="173.70" font-size="6.7" text-anchor="middle" fill="#111" stroke="#111" stroke-width="0.22">0.72</text>
<rect x="229.93" y="164.60" width="14.33" height="13.00" fill="#FCEEDB" stroke="#3a3a3a" stroke-width="0.85"/>
<text x="237.09" y="173.70" font-size="6.7" text-anchor="middle" fill="#111" stroke="#111" stroke-width="0.22">0.74</text>
<rect x="244.26" y="164.60" width="14.33" height="13.00" fill="#FCEEDB" stroke="#3a3a3a" stroke-width="0.85"/>
<text x="251.42" y="173.70" font-size="6.7" text-anchor="middle" fill="#111" stroke="#111" stroke-width="0.22">0.74</text>
<rect x="258.59" y="164.60" width="14.33" height="13.00" fill="#FDF6E6" stroke="#3a3a3a" stroke-width="0.85"/>
<text x="265.75" y="173.70" font-size="6.7" text-anchor="middle" fill="#111" stroke="#111" stroke-width="0.22">0.72</text>
<rect x="272.92" y="164.60" width="14.33" height="13.00" fill="#FDF2E0" stroke="#3a3a3a" stroke-width="0.85"/>
<text x="280.09" y="173.70" font-size="6.7" text-anchor="middle" fill="#111" stroke="#111" stroke-width="0.22">0.73</text>
<rect x="287.25" y="164.60" width="14.33" height="13.00" fill="#EEF3EF" stroke="#3a3a3a" stroke-width="0.85"/>
<text x="294.42" y="173.70" font-size="6.7" text-anchor="middle" fill="#111" stroke="#111" stroke-width="0.22">0.69</text>
<rect x="301.58" y="164.60" width="14.33" height="13.00" fill="#F6CBBC" stroke="#3a3a3a" stroke-width="0.85"/>
<text x="308.75" y="173.70" font-size="6.7" text-anchor="middle" fill="#111" stroke="#111" stroke-width="0.22">0.78</text>
<rect x="315.91" y="164.60" width="14.33" height="13.00" fill="#EFA89B" stroke="#3a3a3a" stroke-width="0.85"/>
<text x="323.08" y="173.70" font-size="6.7" text-anchor="middle" fill="#111" stroke="#111" stroke-width="0.22">0.81</text>
<rect x="330.24" y="164.60" width="14.33" height="13.00" fill="#F3C0B1" stroke="#3a3a3a" stroke-width="0.85"/>
<text x="337.41" y="173.70" font-size="6.7" text-anchor="middle" fill="#111" stroke="#111" stroke-width="0.22">0.79</text>
<rect x="344.57" y="164.60" width="14.33" height="13.00" fill="#EFA89B" stroke="#3a3a3a" stroke-width="0.85"/>
<text x="351.74" y="173.70" font-size="6.7" text-anchor="middle" fill="#111" stroke="#111" stroke-width="0.22">0.81</text>
<rect x="358.90" y="164.60" width="14.33" height="13.00" fill="#F1B5A7" stroke="#3a3a3a" stroke-width="0.85"/>
<text x="366.07" y="173.70" font-size="6.7" text-anchor="middle" fill="#111" stroke="#111" stroke-width="0.22">0.80</text>
<rect x="373.23" y="164.60" width="14.33" height="13.00" fill="#FDF6E6" stroke="#3a3a3a" stroke-width="0.85"/>
<text x="380.40" y="173.70" font-size="6.7" text-anchor="middle" fill="#111" stroke="#111" stroke-width="0.22">0.72</text>
<rect x="387.56" y="164.60" width="14.33" height="13.00" fill="#FBE8D5" stroke="#3a3a3a" stroke-width="0.85"/>
<text x="394.73" y="173.70" font-size="6.7" text-anchor="middle" fill="#111" stroke="#111" stroke-width="0.22">0.75</text>
<rect x="401.89" y="164.60" width="14.33" height="13.00" fill="#F6CBBC" stroke="#3a3a3a" stroke-width="0.85"/>
<text x="409.06" y="173.70" font-size="6.7" text-anchor="middle" fill="#111" stroke="#111" stroke-width="0.22">0.78</text>
<rect x="416.22" y="164.60" width="14.33" height="13.00" fill="#FDF2E0" stroke="#3a3a3a" stroke-width="0.85"/>
<text x="423.39" y="173.70" font-size="6.7" text-anchor="middle" fill="#111" stroke="#111" stroke-width="0.22">0.73</text>
<rect x="430.55" y="164.60" width="14.33" height="13.00" fill="#DA3E38" stroke="#3a3a3a" stroke-width="0.85"/>
<text x="437.72" y="173.70" font-size="6.7" text-anchor="middle" fill="#111" stroke="#111" stroke-width="0.22">0.91</text>
<rect x="444.88" y="164.60" width="14.33" height="13.00" fill="#DE5148" stroke="#3a3a3a" stroke-width="0.85"/>
<text x="452.05" y="173.70" font-size="6.7" text-anchor="middle" fill="#111" stroke="#111" stroke-width="0.22">0.89</text>
<rect x="459.21" y="164.60" width="14.33" height="13.00" fill="#E26259" stroke="#3a3a3a" stroke-width="0.85"/>
<text x="466.38" y="173.70" font-size="6.7" text-anchor="middle" fill="#111" stroke="#111" stroke-width="0.22">0.87</text>
<rect x="473.54" y="164.60" width="14.33" height="13.00" fill="#E88076" stroke="#3a3a3a" stroke-width="0.85"/>
<text x="480.71" y="173.70" font-size="6.7" text-anchor="middle" fill="#111" stroke="#111" stroke-width="0.22">0.84</text>
<rect x="487.87" y="164.60" width="14.33" height="13.00" fill="#DC4740" stroke="#3a3a3a" stroke-width="0.85"/>
<text x="495.04" y="173.70" font-size="6.7" text-anchor="middle" fill="#111" stroke="#111" stroke-width="0.22">0.90</text>
<rect x="502.20" y="164.60" width="14.33" height="13.00" fill="#DC4740" stroke="#3a3a3a" stroke-width="0.85"/>
<text x="509.37" y="173.70" font-size="6.7" text-anchor="middle" fill="#111" stroke="#111" stroke-width="0.22">0.90</text>
<rect x="72.30" y="177.60" width="14.33" height="13.00" fill="#FBE8D5" stroke="#3a3a3a" stroke-width="0.85"/>
<text x="79.47" y="186.70" font-size="6.7" text-anchor="middle" fill="#111" stroke="#111" stroke-width="0.22">0.75</text>
<rect x="86.63" y="177.60" width="14.33" height="13.00" fill="#F6CBBC" stroke="#3a3a3a" stroke-width="0.85"/>
<text x="93.80" y="186.70" font-size="6.7" text-anchor="middle" fill="#111" stroke="#111" stroke-width="0.22">0.78</text>
<rect x="100.96" y="177.60" width="14.33" height="13.00" fill="#FBE8D5" stroke="#3a3a3a" stroke-width="0.85"/>
<text x="108.12" y="186.70" font-size="6.7" text-anchor="middle" fill="#111" stroke="#111" stroke-width="0.22">0.75</text>
<rect x="115.29" y="177.60" width="14.33" height="13.00" fill="#F8D6C6" stroke="#3a3a3a" stroke-width="0.85"/>
<text x="122.45" y="186.70" font-size="6.7" text-anchor="middle" fill="#111" stroke="#111" stroke-width="0.22">0.77</text>
<rect x="129.62" y="177.60" width="14.33" height="13.00" fill="#FCEEDB" stroke="#3a3a3a" stroke-width="0.85"/>
<text x="136.78" y="186.70" font-size="6.7" text-anchor="middle" fill="#111" stroke="#111" stroke-width="0.22">0.74</text>
<rect x="143.95" y="177.60" width="14.33" height="13.00" fill="#FADFCE" stroke="#3a3a3a" stroke-width="0.85"/>
<text x="151.11" y="186.70" font-size="6.7" text-anchor="middle" fill="#111" stroke="#111" stroke-width="0.22">0.76</text>
<rect x="158.28" y="177.60" width="14.33" height="13.00" fill="#F6CBBC" stroke="#3a3a3a" stroke-width="0.85"/>
<text x="165.44" y="186.70" font-size="6.7" text-anchor="middle" fill="#111" stroke="#111" stroke-width="0.22">0.78</text>
<rect x="172.61" y="177.60" width="14.33" height="13.00" fill="#FBE8D5" stroke="#3a3a3a" stroke-width="0.85"/>
<text x="179.78" y="186.70" font-size="6.7" text-anchor="middle" fill="#111" stroke="#111" stroke-width="0.22">0.75</text>
<rect x="186.94" y="177.60" width="14.33" height="13.00" fill="#F8D6C6" stroke="#3a3a3a" stroke-width="0.85"/>
<text x="194.10" y="186.70" font-size="6.7" text-anchor="middle" fill="#111" stroke="#111" stroke-width="0.22">0.77</text>
<rect x="201.27" y="177.60" width="14.33" height="13.00" fill="#FBE8D5" stroke="#3a3a3a" stroke-width="0.85"/>
<text x="208.43" y="186.70" font-size="6.7" text-anchor="middle" fill="#111" stroke="#111" stroke-width="0.22">0.75</text>
<rect x="215.60" y="177.60" width="14.33" height="13.00" fill="#FDF2E0" stroke="#3a3a3a" stroke-width="0.85"/>
<text x="222.77" y="186.70" font-size="6.7" text-anchor="middle" fill="#111" stroke="#111" stroke-width="0.22">0.73</text>
<rect x="229.93" y="177.60" width="14.33" height="13.00" fill="#FADFCE" stroke="#3a3a3a" stroke-width="0.85"/>
<text x="237.09" y="186.70" font-size="6.7" text-anchor="middle" fill="#111" stroke="#111" stroke-width="0.22">0.76</text>
<rect x="244.26" y="177.60" width="14.33" height="13.00" fill="#FCEEDB" stroke="#3a3a3a" stroke-width="0.85"/>
<text x="251.42" y="186.70" font-size="6.7" text-anchor="middle" fill="#111" stroke="#111" stroke-width="0.22">0.74</text>
<rect x="258.59" y="177.60" width="14.33" height="13.00" fill="#FDF6E6" stroke="#3a3a3a" stroke-width="0.85"/>
<text x="265.75" y="186.70" font-size="6.7" text-anchor="middle" fill="#111" stroke="#111" stroke-width="0.22">0.72</text>
<rect x="272.92" y="177.60" width="14.33" height="13.00" fill="#FDF6E6" stroke="#3a3a3a" stroke-width="0.85"/>
<text x="280.09" y="186.70" font-size="6.7" text-anchor="middle" fill="#111" stroke="#111" stroke-width="0.22">0.72</text>
<rect x="287.25" y="177.60" width="14.33" height="13.00" fill="#EEF3EF" stroke="#3a3a3a" stroke-width="0.85"/>
<text x="294.42" y="186.70" font-size="6.7" text-anchor="middle" fill="#111" stroke="#111" stroke-width="0.22">0.69</text>
<rect x="301.58" y="177.60" width="14.33" height="13.00" fill="#F8D6C6" stroke="#3a3a3a" stroke-width="0.85"/>
<text x="308.75" y="186.70" font-size="6.7" text-anchor="middle" fill="#111" stroke="#111" stroke-width="0.22">0.77</text>
<rect x="315.91" y="177.60" width="14.33" height="13.00" fill="#EFA89B" stroke="#3a3a3a" stroke-width="0.85"/>
<text x="323.08" y="186.70" font-size="6.7" text-anchor="middle" fill="#111" stroke="#111" stroke-width="0.22">0.81</text>
<rect x="330.24" y="177.60" width="14.33" height="13.00" fill="#F1B5A7" stroke="#3a3a3a" stroke-width="0.85"/>
<text x="337.41" y="186.70" font-size="6.7" text-anchor="middle" fill="#111" stroke="#111" stroke-width="0.22">0.80</text>
<rect x="344.57" y="177.60" width="14.33" height="13.00" fill="#E88076" stroke="#3a3a3a" stroke-width="0.85"/>
<text x="351.74" y="186.70" font-size="6.7" text-anchor="middle" fill="#111" stroke="#111" stroke-width="0.22">0.84</text>
<rect x="358.90" y="177.60" width="14.33" height="13.00" fill="#F1B5A7" stroke="#3a3a3a" stroke-width="0.85"/>
<text x="366.07" y="186.70" font-size="6.7" text-anchor="middle" fill="#111" stroke="#111" stroke-width="0.22">0.80</text>
<rect x="373.23" y="177.60" width="14.33" height="13.00" fill="#FCEEDB" stroke="#3a3a3a" stroke-width="0.85"/>
<text x="380.40" y="186.70" font-size="6.7" text-anchor="middle" fill="#111" stroke="#111" stroke-width="0.22">0.74</text>
<rect x="387.56" y="177.60" width="14.33" height="13.00" fill="#FBE8D5" stroke="#3a3a3a" stroke-width="0.85"/>
<text x="394.73" y="186.70" font-size="6.7" text-anchor="middle" fill="#111" stroke="#111" stroke-width="0.22">0.75</text>
<rect x="401.89" y="177.60" width="14.33" height="13.00" fill="#F3C0B1" stroke="#3a3a3a" stroke-width="0.85"/>
<text x="409.06" y="186.70" font-size="6.7" text-anchor="middle" fill="#111" stroke="#111" stroke-width="0.22">0.79</text>
<rect x="416.22" y="177.60" width="14.33" height="13.00" fill="#F3C0B1" stroke="#3a3a3a" stroke-width="0.85"/>
<text x="423.39" y="186.70" font-size="6.7" text-anchor="middle" fill="#111" stroke="#111" stroke-width="0.22">0.79</text>
<rect x="430.55" y="177.60" width="14.33" height="13.00" fill="#DA3E38" stroke="#3a3a3a" stroke-width="0.85"/>
<text x="437.72" y="186.70" font-size="6.7" text-anchor="middle" fill="#111" stroke="#111" stroke-width="0.22">0.91</text>
<rect x="444.88" y="177.60" width="14.33" height="13.00" fill="#DC4740" stroke="#3a3a3a" stroke-width="0.85"/>
<text x="452.05" y="186.70" font-size="6.7" text-anchor="middle" fill="#111" stroke="#111" stroke-width="0.22">0.90</text>
<rect x="459.21" y="177.60" width="14.33" height="13.00" fill="#E46B61" stroke="#3a3a3a" stroke-width="0.85"/>
<text x="466.38" y="186.70" font-size="6.7" text-anchor="middle" fill="#111" stroke="#111" stroke-width="0.22">0.86</text>
<rect x="473.54" y="177.60" width="14.33" height="13.00" fill="#EA8D82" stroke="#3a3a3a" stroke-width="0.85"/>
<text x="480.71" y="186.70" font-size="6.7" text-anchor="middle" fill="#111" stroke="#111" stroke-width="0.22">0.83</text>
<rect x="487.87" y="177.60" width="14.33" height="13.00" fill="#DE5148" stroke="#3a3a3a" stroke-width="0.85"/>
<text x="495.04" y="186.70" font-size="6.7" text-anchor="middle" fill="#111" stroke="#111" stroke-width="0.22">0.89</text>
<rect x="502.20" y="177.60" width="14.33" height="13.00" fill="#DC4740" stroke="#3a3a3a" stroke-width="0.85"/>
<text x="509.37" y="186.70" font-size="6.7" text-anchor="middle" fill="#111" stroke="#111" stroke-width="0.22">0.90</text>
<rect x="72.30" y="190.60" width="14.33" height="13.00" fill="#FDF6E6" stroke="#3a3a3a" stroke-width="0.85"/>
<text x="79.47" y="199.70" font-size="6.7" text-anchor="middle" fill="#111" stroke="#111" stroke-width="0.22">0.72</text>
<rect x="86.63" y="190.60" width="14.33" height="13.00" fill="#FADFCE" stroke="#3a3a3a" stroke-width="0.85"/>
<text x="93.80" y="199.70" font-size="6.7" text-anchor="middle" fill="#111" stroke="#111" stroke-width="0.22">0.76</text>
<rect x="100.96" y="190.60" width="14.33" height="13.00" fill="#F8F5E9" stroke="#3a3a3a" stroke-width="0.85"/>
<text x="108.12" y="199.70" font-size="6.7" text-anchor="middle" fill="#111" stroke="#111" stroke-width="0.22">0.71</text>
<rect x="115.29" y="190.60" width="14.33" height="13.00" fill="#FCEEDB" stroke="#3a3a3a" stroke-width="0.85"/>
<text x="122.45" y="199.70" font-size="6.7" text-anchor="middle" fill="#111" stroke="#111" stroke-width="0.22">0.74</text>
<rect x="129.62" y="190.60" width="14.33" height="13.00" fill="#FBE8D5" stroke="#3a3a3a" stroke-width="0.85"/>
<text x="136.78" y="199.70" font-size="6.7" text-anchor="middle" fill="#111" stroke="#111" stroke-width="0.22">0.75</text>
<rect x="143.95" y="190.60" width="14.33" height="13.00" fill="#F8F5E9" stroke="#3a3a3a" stroke-width="0.85"/>
<text x="151.11" y="199.70" font-size="6.7" text-anchor="middle" fill="#111" stroke="#111" stroke-width="0.22">0.71</text>
<rect x="158.28" y="190.60" width="14.33" height="13.00" fill="#F8F5E9" stroke="#3a3a3a" stroke-width="0.85"/>
<text x="165.44" y="199.70" font-size="6.7" text-anchor="middle" fill="#111" stroke="#111" stroke-width="0.22">0.71</text>
<rect x="172.61" y="190.60" width="14.33" height="13.00" fill="#F3F4EC" stroke="#3a3a3a" stroke-width="0.85"/>
<text x="179.78" y="199.70" font-size="6.7" text-anchor="middle" fill="#111" stroke="#111" stroke-width="0.22">0.70</text>
<rect x="186.94" y="190.60" width="14.33" height="13.00" fill="#FDF2E0" stroke="#3a3a3a" stroke-width="0.85"/>
<text x="194.10" y="199.70" font-size="6.7" text-anchor="middle" fill="#111" stroke="#111" stroke-width="0.22">0.73</text>
<rect x="201.27" y="190.60" width="14.33" height="13.00" fill="#FDF2E0" stroke="#3a3a3a" stroke-width="0.85"/>
<text x="208.43" y="199.70" font-size="6.7" text-anchor="middle" fill="#111" stroke="#111" stroke-width="0.22">0.73</text>
<rect x="215.60" y="190.60" width="14.33" height="13.00" fill="#EEF3EF" stroke="#3a3a3a" stroke-width="0.85"/>
<text x="222.77" y="199.70" font-size="6.7" text-anchor="middle" fill="#111" stroke="#111" stroke-width="0.22">0.69</text>
<rect x="229.93" y="190.60" width="14.33" height="13.00" fill="#FDF2E0" stroke="#3a3a3a" stroke-width="0.85"/>
<text x="237.09" y="199.70" font-size="6.7" text-anchor="middle" fill="#111" stroke="#111" stroke-width="0.22">0.73</text>
<rect x="244.26" y="190.60" width="14.33" height="13.00" fill="#FBE8D5" stroke="#3a3a3a" stroke-width="0.85"/>
<text x="251.42" y="199.70" font-size="6.7" text-anchor="middle" fill="#111" stroke="#111" stroke-width="0.22">0.75</text>
<rect x="258.59" y="190.60" width="14.33" height="13.00" fill="#F8F5E9" stroke="#3a3a3a" stroke-width="0.85"/>
<text x="265.75" y="199.70" font-size="6.7" text-anchor="middle" fill="#111" stroke="#111" stroke-width="0.22">0.71</text>
<rect x="272.92" y="190.60" width="14.33" height="13.00" fill="#F8F5E9" stroke="#3a3a3a" stroke-width="0.85"/>
<text x="280.09" y="199.70" font-size="6.7" text-anchor="middle" fill="#111" stroke="#111" stroke-width="0.22">0.71</text>
<rect x="287.25" y="190.60" width="14.33" height="13.00" fill="#EEF3EF" stroke="#3a3a3a" stroke-width="0.85"/>
<text x="294.42" y="199.70" font-size="6.7" text-anchor="middle" fill="#111" stroke="#111" stroke-width="0.22">0.69</text>
<rect x="301.58" y="190.60" width="14.33" height="13.00" fill="#F3C0B1" stroke="#3a3a3a" stroke-width="0.85"/>
<text x="308.75" y="199.70" font-size="6.7" text-anchor="middle" fill="#111" stroke="#111" stroke-width="0.22">0.79</text>
<rect x="315.91" y="190.60" width="14.33" height="13.00" fill="#ED9B8F" stroke="#3a3a3a" stroke-width="0.85"/>
<text x="323.08" y="199.70" font-size="6.7" text-anchor="middle" fill="#111" stroke="#111" stroke-width="0.22">0.82</text>
<rect x="330.24" y="190.60" width="14.33" height="13.00" fill="#F1B5A7" stroke="#3a3a3a" stroke-width="0.85"/>
<text x="337.41" y="199.70" font-size="6.7" text-anchor="middle" fill="#111" stroke="#111" stroke-width="0.22">0.80</text>
<rect x="344.57" y="190.60" width="14.33" height="13.00" fill="#F8D6C6" stroke="#3a3a3a" stroke-width="0.85"/>
<text x="351.74" y="199.70" font-size="6.7" text-anchor="middle" fill="#111" stroke="#111" stroke-width="0.22">0.77</text>
<rect x="358.90" y="190.60" width="14.33" height="13.00" fill="#F8D6C6" stroke="#3a3a3a" stroke-width="0.85"/>
<text x="366.07" y="199.70" font-size="6.7" text-anchor="middle" fill="#111" stroke="#111" stroke-width="0.22">0.77</text>
<rect x="373.23" y="190.60" width="14.33" height="13.00" fill="#F1B5A7" stroke="#3a3a3a" stroke-width="0.85"/>
<text x="380.40" y="199.70" font-size="6.7" text-anchor="middle" fill="#111" stroke="#111" stroke-width="0.22">0.80</text>
<rect x="387.56" y="190.60" width="14.33" height="13.00" fill="#F6CBBC" stroke="#3a3a3a" stroke-width="0.85"/>
<text x="394.73" y="199.70" font-size="6.7" text-anchor="middle" fill="#111" stroke="#111" stroke-width="0.22">0.78</text>
<rect x="401.89" y="190.60" width="14.33" height="13.00" fill="#F8D6C6" stroke="#3a3a3a" stroke-width="0.85"/>
<text x="409.06" y="199.70" font-size="6.7" text-anchor="middle" fill="#111" stroke="#111" stroke-width="0.22">0.77</text>
<rect x="416.22" y="190.60" width="14.33" height="13.00" fill="#F8D6C6" stroke="#3a3a3a" stroke-width="0.85"/>
<text x="423.39" y="199.70" font-size="6.7" text-anchor="middle" fill="#111" stroke="#111" stroke-width="0.22">0.77</text>
<rect x="430.55" y="190.60" width="14.33" height="13.00" fill="#DA3E38" stroke="#3a3a3a" stroke-width="0.85"/>
<text x="437.72" y="199.70" font-size="6.7" text-anchor="middle" fill="#111" stroke="#111" stroke-width="0.22">0.91</text>
<rect x="444.88" y="190.60" width="14.33" height="13.00" fill="#DE5148" stroke="#3a3a3a" stroke-width="0.85"/>
<text x="452.05" y="199.70" font-size="6.7" text-anchor="middle" fill="#111" stroke="#111" stroke-width="0.22">0.89</text>
<rect x="459.21" y="190.60" width="14.33" height="13.00" fill="#E05A50" stroke="#3a3a3a" stroke-width="0.85"/>
<text x="466.38" y="199.70" font-size="6.7" text-anchor="middle" fill="#111" stroke="#111" stroke-width="0.22">0.88</text>
<rect x="473.54" y="190.60" width="14.33" height="13.00" fill="#E46B61" stroke="#3a3a3a" stroke-width="0.85"/>
<text x="480.71" y="199.70" font-size="6.7" text-anchor="middle" fill="#111" stroke="#111" stroke-width="0.22">0.86</text>
<rect x="487.87" y="190.60" width="14.33" height="13.00" fill="#DC4740" stroke="#3a3a3a" stroke-width="0.85"/>
<text x="495.04" y="199.70" font-size="6.7" text-anchor="middle" fill="#111" stroke="#111" stroke-width="0.22">0.90</text>
<rect x="502.20" y="190.60" width="14.33" height="13.00" fill="#DC4740" stroke="#3a3a3a" stroke-width="0.85"/>
<text x="509.37" y="199.70" font-size="6.7" text-anchor="middle" fill="#111" stroke="#111" stroke-width="0.22">0.90</text>
<rect x="72.30" y="203.60" width="14.33" height="13.00" fill="#A6CAE2" stroke="#3a3a3a" stroke-width="0.85"/>
<text x="79.47" y="212.70" font-size="6.7" text-anchor="middle" fill="#111" stroke="#111" stroke-width="0.22">0.61</text>
<rect x="86.63" y="203.60" width="14.33" height="13.00" fill="#AFCFE4" stroke="#3a3a3a" stroke-width="0.85"/>
<text x="93.80" y="212.70" font-size="6.7" text-anchor="middle" fill="#111" stroke="#111" stroke-width="0.22">0.62</text>
<rect x="100.96" y="203.60" width="14.33" height="13.00" fill="#D4E5ED" stroke="#3a3a3a" stroke-width="0.85"/>
<text x="108.12" y="212.70" font-size="6.7" text-anchor="middle" fill="#111" stroke="#111" stroke-width="0.22">0.66</text>
<rect x="115.29" y="203.60" width="14.33" height="13.00" fill="#C2DAE9" stroke="#3a3a3a" stroke-width="0.85"/>
<text x="122.45" y="212.70" font-size="6.7" text-anchor="middle" fill="#111" stroke="#111" stroke-width="0.22">0.64</text>
<rect x="129.62" y="203.60" width="14.33" height="13.00" fill="#D4E5ED" stroke="#3a3a3a" stroke-width="0.85"/>
<text x="136.78" y="212.70" font-size="6.7" text-anchor="middle" fill="#111" stroke="#111" stroke-width="0.22">0.66</text>
<rect x="143.95" y="203.60" width="14.33" height="13.00" fill="#EEF3EF" stroke="#3a3a3a" stroke-width="0.85"/>
<text x="151.11" y="212.70" font-size="6.7" text-anchor="middle" fill="#111" stroke="#111" stroke-width="0.22">0.69</text>
<rect x="158.28" y="203.60" width="14.33" height="13.00" fill="#CBE0EC" stroke="#3a3a3a" stroke-width="0.85"/>
<text x="165.44" y="212.70" font-size="6.7" text-anchor="middle" fill="#111" stroke="#111" stroke-width="0.22">0.65</text>
<rect x="172.61" y="203.60" width="14.33" height="13.00" fill="#D4E5ED" stroke="#3a3a3a" stroke-width="0.85"/>
<text x="179.78" y="212.70" font-size="6.7" text-anchor="middle" fill="#111" stroke="#111" stroke-width="0.22">0.66</text>
<rect x="186.94" y="203.60" width="14.33" height="13.00" fill="#C2DAE9" stroke="#3a3a3a" stroke-width="0.85"/>
<text x="194.10" y="212.70" font-size="6.7" text-anchor="middle" fill="#111" stroke="#111" stroke-width="0.22">0.64</text>
<rect x="201.27" y="203.60" width="14.33" height="13.00" fill="#A6CAE2" stroke="#3a3a3a" stroke-width="0.85"/>
<text x="208.43" y="212.70" font-size="6.7" text-anchor="middle" fill="#111" stroke="#111" stroke-width="0.22">0.61</text>
<rect x="215.60" y="203.60" width="14.33" height="13.00" fill="#C2DAE9" stroke="#3a3a3a" stroke-width="0.85"/>
<text x="222.77" y="212.70" font-size="6.7" text-anchor="middle" fill="#111" stroke="#111" stroke-width="0.22">0.64</text>
<rect x="229.93" y="203.60" width="14.33" height="13.00" fill="#FDF6E6" stroke="#3a3a3a" stroke-width="0.85"/>
<text x="237.09" y="212.70" font-size="6.7" text-anchor="middle" fill="#111" stroke="#111" stroke-width="0.22">0.72</text>
<rect x="244.26" y="203.60" width="14.33" height="13.00" fill="#E5EEEE" stroke="#3a3a3a" stroke-width="0.85"/>
<text x="251.42" y="212.70" font-size="6.7" text-anchor="middle" fill="#111" stroke="#111" stroke-width="0.22">0.68</text>
<rect x="258.59" y="203.60" width="14.33" height="13.00" fill="#B9D5E7" stroke="#3a3a3a" stroke-width="0.85"/>
<text x="265.75" y="212.70" font-size="6.7" text-anchor="middle" fill="#111" stroke="#111" stroke-width="0.22">0.63</text>
<rect x="272.92" y="203.60" width="14.33" height="13.00" fill="#A6CAE2" stroke="#3a3a3a" stroke-width="0.85"/>
<text x="280.09" y="212.70" font-size="6.7" text-anchor="middle" fill="#111" stroke="#111" stroke-width="0.22">0.61</text>
<rect x="287.25" y="203.60" width="14.33" height="13.00" fill="#C2DAE9" stroke="#3a3a3a" stroke-width="0.85"/>
<text x="294.42" y="212.70" font-size="6.7" text-anchor="middle" fill="#111" stroke="#111" stroke-width="0.22">0.64</text>
<rect x="301.58" y="203.60" width="14.33" height="13.00" fill="#FBE8D5" stroke="#3a3a3a" stroke-width="0.85"/>
<text x="308.75" y="212.70" font-size="6.7" text-anchor="middle" fill="#111" stroke="#111" stroke-width="0.22">0.75</text>
<rect x="315.91" y="203.60" width="14.33" height="13.00" fill="#F8F5E9" stroke="#3a3a3a" stroke-width="0.85"/>
<text x="323.08" y="212.70" font-size="6.7" text-anchor="middle" fill="#111" stroke="#111" stroke-width="0.22">0.71</text>
<rect x="330.24" y="203.60" width="14.33" height="13.00" fill="#F8F5E9" stroke="#3a3a3a" stroke-width="0.85"/>
<text x="337.41" y="212.70" font-size="6.7" text-anchor="middle" fill="#111" stroke="#111" stroke-width="0.22">0.71</text>
<rect x="344.57" y="203.60" width="14.33" height="13.00" fill="#DDEAEE" stroke="#3a3a3a" stroke-width="0.85"/>
<text x="351.74" y="212.70" font-size="6.7" text-anchor="middle" fill="#111" stroke="#111" stroke-width="0.22">0.67</text>
<rect x="358.90" y="203.60" width="14.33" height="13.00" fill="#F8F5E9" stroke="#3a3a3a" stroke-width="0.85"/>
<text x="366.07" y="212.70" font-size="6.7" text-anchor="middle" fill="#111" stroke="#111" stroke-width="0.22">0.71</text>
<rect x="373.23" y="203.60" width="14.33" height="13.00" fill="#D4E5ED" stroke="#3a3a3a" stroke-width="0.85"/>
<text x="380.40" y="212.70" font-size="6.7" text-anchor="middle" fill="#111" stroke="#111" stroke-width="0.22">0.66</text>
<rect x="387.56" y="203.60" width="14.33" height="13.00" fill="#C2DAE9" stroke="#3a3a3a" stroke-width="0.85"/>
<text x="394.73" y="212.70" font-size="6.7" text-anchor="middle" fill="#111" stroke="#111" stroke-width="0.22">0.64</text>
<rect x="401.89" y="203.60" width="14.33" height="13.00" fill="#D4E5ED" stroke="#3a3a3a" stroke-width="0.85"/>
<text x="409.06" y="212.70" font-size="6.7" text-anchor="middle" fill="#111" stroke="#111" stroke-width="0.22">0.66</text>
<rect x="416.22" y="203.60" width="14.33" height="13.00" fill="#D4E5ED" stroke="#3a3a3a" stroke-width="0.85"/>
<text x="423.39" y="212.70" font-size="6.7" text-anchor="middle" fill="#111" stroke="#111" stroke-width="0.22">0.66</text>
<rect x="430.55" y="203.60" width="14.33" height="13.00" fill="#DE5148" stroke="#3a3a3a" stroke-width="0.85"/>
<text x="437.72" y="212.70" font-size="6.7" text-anchor="middle" fill="#111" stroke="#111" stroke-width="0.22">0.89</text>
<rect x="444.88" y="203.60" width="14.33" height="13.00" fill="#E6736A" stroke="#3a3a3a" stroke-width="0.85"/>
<text x="452.05" y="212.70" font-size="6.7" text-anchor="middle" fill="#111" stroke="#111" stroke-width="0.22">0.85</text>
<rect x="459.21" y="203.60" width="14.33" height="13.00" fill="#F3C0B1" stroke="#3a3a3a" stroke-width="0.85"/>
<text x="466.38" y="212.70" font-size="6.7" text-anchor="middle" fill="#111" stroke="#111" stroke-width="0.22">0.79</text>
<rect x="473.54" y="203.60" width="14.33" height="13.00" fill="#F8D6C6" stroke="#3a3a3a" stroke-width="0.85"/>
<text x="480.71" y="212.70" font-size="6.7" text-anchor="middle" fill="#111" stroke="#111" stroke-width="0.22">0.77</text>
<rect x="487.87" y="203.60" width="14.33" height="13.00" fill="#E46B61" stroke="#3a3a3a" stroke-width="0.85"/>
<text x="495.04" y="212.70" font-size="6.7" text-anchor="middle" fill="#111" stroke="#111" stroke-width="0.22">0.86</text>
<rect x="502.20" y="203.60" width="14.33" height="13.00" fill="#DE5148" stroke="#3a3a3a" stroke-width="0.85"/>
<text x="509.37" y="212.70" font-size="6.7" text-anchor="middle" fill="#111" stroke="#111" stroke-width="0.22">0.89</text>
<rect x="72.30" y="216.60" width="14.33" height="13.00" fill="#7DAED4" stroke="#3a3a3a" stroke-width="0.85"/>
<text x="79.47" y="225.70" font-size="6.7" text-anchor="middle" fill="#111" stroke="#111" stroke-width="0.22">0.57</text>
<rect x="86.63" y="216.60" width="14.33" height="13.00" fill="#72A6D1" stroke="#3a3a3a" stroke-width="0.85"/>
<text x="93.80" y="225.70" font-size="6.7" text-anchor="middle" fill="#111" stroke="#111" stroke-width="0.22">0.56</text>
<rect x="100.96" y="216.60" width="14.33" height="13.00" fill="#72A6D1" stroke="#3a3a3a" stroke-width="0.85"/>
<text x="108.12" y="225.70" font-size="6.7" text-anchor="middle" fill="#111" stroke="#111" stroke-width="0.22">0.56</text>
<rect x="115.29" y="216.60" width="14.33" height="13.00" fill="#7DAED4" stroke="#3a3a3a" stroke-width="0.85"/>
<text x="122.45" y="225.70" font-size="6.7" text-anchor="middle" fill="#111" stroke="#111" stroke-width="0.22">0.57</text>
<rect x="129.62" y="216.60" width="14.33" height="13.00" fill="#679FCD" stroke="#3a3a3a" stroke-width="0.85"/>
<text x="136.78" y="225.70" font-size="6.7" text-anchor="middle" fill="#111" stroke="#111" stroke-width="0.22">0.55</text>
<rect x="143.95" y="216.60" width="14.33" height="13.00" fill="#87B5D8" stroke="#3a3a3a" stroke-width="0.85"/>
<text x="151.11" y="225.70" font-size="6.7" text-anchor="middle" fill="#111" stroke="#111" stroke-width="0.22">0.58</text>
<rect x="158.28" y="216.60" width="14.33" height="13.00" fill="#72A6D1" stroke="#3a3a3a" stroke-width="0.85"/>
<text x="165.44" y="225.70" font-size="6.7" text-anchor="middle" fill="#111" stroke="#111" stroke-width="0.22">0.56</text>
<rect x="172.61" y="216.60" width="14.33" height="13.00" fill="#92BDDB" stroke="#3a3a3a" stroke-width="0.85"/>
<text x="179.78" y="225.70" font-size="6.7" text-anchor="middle" fill="#111" stroke="#111" stroke-width="0.22">0.59</text>
<rect x="186.94" y="216.60" width="14.33" height="13.00" fill="#7DAED4" stroke="#3a3a3a" stroke-width="0.85"/>
<text x="194.10" y="225.70" font-size="6.7" text-anchor="middle" fill="#111" stroke="#111" stroke-width="0.22">0.57</text>
<rect x="201.27" y="216.60" width="14.33" height="13.00" fill="#72A6D1" stroke="#3a3a3a" stroke-width="0.85"/>
<text x="208.43" y="225.70" font-size="6.7" text-anchor="middle" fill="#111" stroke="#111" stroke-width="0.22">0.56</text>
<rect x="215.60" y="216.60" width="14.33" height="13.00" fill="#92BDDB" stroke="#3a3a3a" stroke-width="0.85"/>
<text x="222.77" y="225.70" font-size="6.7" text-anchor="middle" fill="#111" stroke="#111" stroke-width="0.22">0.59</text>
<rect x="229.93" y="216.60" width="14.33" height="13.00" fill="#9DC4DF" stroke="#3a3a3a" stroke-width="0.85"/>
<text x="237.09" y="225.70" font-size="6.7" text-anchor="middle" fill="#111" stroke="#111" stroke-width="0.22">0.60</text>
<rect x="244.26" y="216.60" width="14.33" height="13.00" fill="#B9D5E7" stroke="#3a3a3a" stroke-width="0.85"/>
<text x="251.42" y="225.70" font-size="6.7" text-anchor="middle" fill="#111" stroke="#111" stroke-width="0.22">0.63</text>
<rect x="258.59" y="216.60" width="14.33" height="13.00" fill="#7DAED4" stroke="#3a3a3a" stroke-width="0.85"/>
<text x="265.75" y="225.70" font-size="6.7" text-anchor="middle" fill="#111" stroke="#111" stroke-width="0.22">0.57</text>
<rect x="272.92" y="216.60" width="14.33" height="13.00" fill="#92BDDB" stroke="#3a3a3a" stroke-width="0.85"/>
<text x="280.09" y="225.70" font-size="6.7" text-anchor="middle" fill="#111" stroke="#111" stroke-width="0.22">0.59</text>
<rect x="287.25" y="216.60" width="14.33" height="13.00" fill="#A6CAE2" stroke="#3a3a3a" stroke-width="0.85"/>
<text x="294.42" y="225.70" font-size="6.7" text-anchor="middle" fill="#111" stroke="#111" stroke-width="0.22">0.61</text>
<rect x="301.58" y="216.60" width="14.33" height="13.00" fill="#72A6D1" stroke="#3a3a3a" stroke-width="0.85"/>
<text x="308.75" y="225.70" font-size="6.7" text-anchor="middle" fill="#111" stroke="#111" stroke-width="0.22">0.56</text>
<rect x="315.91" y="216.60" width="14.33" height="13.00" fill="#87B5D8" stroke="#3a3a3a" stroke-width="0.85"/>
<text x="323.08" y="225.70" font-size="6.7" text-anchor="middle" fill="#111" stroke="#111" stroke-width="0.22">0.58</text>
<rect x="330.24" y="216.60" width="14.33" height="13.00" fill="#679FCD" stroke="#3a3a3a" stroke-width="0.85"/>
<text x="337.41" y="225.70" font-size="6.7" text-anchor="middle" fill="#111" stroke="#111" stroke-width="0.22">0.55</text>
<rect x="344.57" y="216.60" width="14.33" height="13.00" fill="#A6CAE2" stroke="#3a3a3a" stroke-width="0.85"/>
<text x="351.74" y="225.70" font-size="6.7" text-anchor="middle" fill="#111" stroke="#111" stroke-width="0.22">0.61</text>
<rect x="358.90" y="216.60" width="14.33" height="13.00" fill="#7DAED4" stroke="#3a3a3a" stroke-width="0.85"/>
<text x="366.07" y="225.70" font-size="6.7" text-anchor="middle" fill="#111" stroke="#111" stroke-width="0.22">0.57</text>
<rect x="373.23" y="216.60" width="14.33" height="13.00" fill="#A6CAE2" stroke="#3a3a3a" stroke-width="0.85"/>
<text x="380.40" y="225.70" font-size="6.7" text-anchor="middle" fill="#111" stroke="#111" stroke-width="0.22">0.61</text>
<rect x="387.56" y="216.60" width="14.33" height="13.00" fill="#9DC4DF" stroke="#3a3a3a" stroke-width="0.85"/>
<text x="394.73" y="225.70" font-size="6.7" text-anchor="middle" fill="#111" stroke="#111" stroke-width="0.22">0.60</text>
<rect x="401.89" y="216.60" width="14.33" height="13.00" fill="#87B5D8" stroke="#3a3a3a" stroke-width="0.85"/>
<text x="409.06" y="225.70" font-size="6.7" text-anchor="middle" fill="#111" stroke="#111" stroke-width="0.22">0.58</text>
<rect x="416.22" y="216.60" width="14.33" height="13.00" fill="#B9D5E7" stroke="#3a3a3a" stroke-width="0.85"/>
<text x="423.39" y="225.70" font-size="6.7" text-anchor="middle" fill="#111" stroke="#111" stroke-width="0.22">0.63</text>
<rect x="430.55" y="216.60" width="14.33" height="13.00" fill="#AFCFE4" stroke="#3a3a3a" stroke-width="0.85"/>
<text x="437.72" y="225.70" font-size="6.7" text-anchor="middle" fill="#111" stroke="#111" stroke-width="0.22">0.62</text>
<rect x="444.88" y="216.60" width="14.33" height="13.00" fill="#9DC4DF" stroke="#3a3a3a" stroke-width="0.85"/>
<text x="452.05" y="225.70" font-size="6.7" text-anchor="middle" fill="#111" stroke="#111" stroke-width="0.22">0.60</text>
<rect x="459.21" y="216.60" width="14.33" height="13.00" fill="#7DAED4" stroke="#3a3a3a" stroke-width="0.85"/>
<text x="466.38" y="225.70" font-size="6.7" text-anchor="middle" fill="#111" stroke="#111" stroke-width="0.22">0.57</text>
<rect x="473.54" y="216.60" width="14.33" height="13.00" fill="#87B5D8" stroke="#3a3a3a" stroke-width="0.85"/>
<text x="480.71" y="225.70" font-size="6.7" text-anchor="middle" fill="#111" stroke="#111" stroke-width="0.22">0.58</text>
<rect x="487.87" y="216.60" width="14.33" height="13.00" fill="#92BDDB" stroke="#3a3a3a" stroke-width="0.85"/>
<text x="495.04" y="225.70" font-size="6.7" text-anchor="middle" fill="#111" stroke="#111" stroke-width="0.22">0.59</text>
<rect x="502.20" y="216.60" width="14.33" height="13.00" fill="#A6CAE2" stroke="#3a3a3a" stroke-width="0.85"/>
<text x="509.37" y="225.70" font-size="6.7" text-anchor="middle" fill="#111" stroke="#111" stroke-width="0.22">0.61</text>
<rect x="72.30" y="229.60" width="14.33" height="13.00" fill="#7DAED4" stroke="#3a3a3a" stroke-width="0.85"/>
<text x="79.47" y="238.70" font-size="6.7" text-anchor="middle" fill="#111" stroke="#111" stroke-width="0.22">0.57</text>
<rect x="86.63" y="229.60" width="14.33" height="13.00" fill="#7DAED4" stroke="#3a3a3a" stroke-width="0.85"/>
<text x="93.80" y="238.70" font-size="6.7" text-anchor="middle" fill="#111" stroke="#111" stroke-width="0.22">0.57</text>
<rect x="100.96" y="229.60" width="14.33" height="13.00" fill="#A6CAE2" stroke="#3a3a3a" stroke-width="0.85"/>
<text x="108.12" y="238.70" font-size="6.7" text-anchor="middle" fill="#111" stroke="#111" stroke-width="0.22">0.61</text>
<rect x="115.29" y="229.60" width="14.33" height="13.00" fill="#A6CAE2" stroke="#3a3a3a" stroke-width="0.85"/>
<text x="122.45" y="238.70" font-size="6.7" text-anchor="middle" fill="#111" stroke="#111" stroke-width="0.22">0.61</text>
<rect x="129.62" y="229.60" width="14.33" height="13.00" fill="#87B5D8" stroke="#3a3a3a" stroke-width="0.85"/>
<text x="136.78" y="238.70" font-size="6.7" text-anchor="middle" fill="#111" stroke="#111" stroke-width="0.22">0.58</text>
<rect x="143.95" y="229.60" width="14.33" height="13.00" fill="#9DC4DF" stroke="#3a3a3a" stroke-width="0.85"/>
<text x="151.11" y="238.70" font-size="6.7" text-anchor="middle" fill="#111" stroke="#111" stroke-width="0.22">0.60</text>
<rect x="158.28" y="229.60" width="14.33" height="13.00" fill="#92BDDB" stroke="#3a3a3a" stroke-width="0.85"/>
<text x="165.44" y="238.70" font-size="6.7" text-anchor="middle" fill="#111" stroke="#111" stroke-width="0.22">0.59</text>
<rect x="172.61" y="229.60" width="14.33" height="13.00" fill="#87B5D8" stroke="#3a3a3a" stroke-width="0.85"/>
<text x="179.78" y="238.70" font-size="6.7" text-anchor="middle" fill="#111" stroke="#111" stroke-width="0.22">0.58</text>
<rect x="186.94" y="229.60" width="14.33" height="13.00" fill="#72A6D1" stroke="#3a3a3a" stroke-width="0.85"/>
<text x="194.10" y="238.70" font-size="6.7" text-anchor="middle" fill="#111" stroke="#111" stroke-width="0.22">0.56</text>
<rect x="201.27" y="229.60" width="14.33" height="13.00" fill="#72A6D1" stroke="#3a3a3a" stroke-width="0.85"/>
<text x="208.43" y="238.70" font-size="6.7" text-anchor="middle" fill="#111" stroke="#111" stroke-width="0.22">0.56</text>
<rect x="215.60" y="229.60" width="14.33" height="13.00" fill="#7DAED4" stroke="#3a3a3a" stroke-width="0.85"/>
<text x="222.77" y="238.70" font-size="6.7" text-anchor="middle" fill="#111" stroke="#111" stroke-width="0.22">0.57</text>
<rect x="229.93" y="229.60" width="14.33" height="13.00" fill="#92BDDB" stroke="#3a3a3a" stroke-width="0.85"/>
<text x="237.09" y="238.70" font-size="6.7" text-anchor="middle" fill="#111" stroke="#111" stroke-width="0.22">0.59</text>
<rect x="244.26" y="229.60" width="14.33" height="13.00" fill="#679FCD" stroke="#3a3a3a" stroke-width="0.85"/>
<text x="251.42" y="238.70" font-size="6.7" text-anchor="middle" fill="#111" stroke="#111" stroke-width="0.22">0.55</text>
<rect x="258.59" y="229.60" width="14.33" height="13.00" fill="#72A6D1" stroke="#3a3a3a" stroke-width="0.85"/>
<text x="265.75" y="238.70" font-size="6.7" text-anchor="middle" fill="#111" stroke="#111" stroke-width="0.22">0.56</text>
<rect x="272.92" y="229.60" width="14.33" height="13.00" fill="#5F98CA" stroke="#3a3a3a" stroke-width="0.85"/>
<text x="280.09" y="238.70" font-size="6.7" text-anchor="middle" fill="#111" stroke="#111" stroke-width="0.22">0.54</text>
<rect x="287.25" y="229.60" width="14.33" height="13.00" fill="#87B5D8" stroke="#3a3a3a" stroke-width="0.85"/>
<text x="294.42" y="238.70" font-size="6.7" text-anchor="middle" fill="#111" stroke="#111" stroke-width="0.22">0.58</text>
<rect x="301.58" y="229.60" width="14.33" height="13.00" fill="#92BDDB" stroke="#3a3a3a" stroke-width="0.85"/>
<text x="308.75" y="238.70" font-size="6.7" text-anchor="middle" fill="#111" stroke="#111" stroke-width="0.22">0.59</text>
<rect x="315.91" y="229.60" width="14.33" height="13.00" fill="#7DAED4" stroke="#3a3a3a" stroke-width="0.85"/>
<text x="323.08" y="238.70" font-size="6.7" text-anchor="middle" fill="#111" stroke="#111" stroke-width="0.22">0.57</text>
<rect x="330.24" y="229.60" width="14.33" height="13.00" fill="#5F98CA" stroke="#3a3a3a" stroke-width="0.85"/>
<text x="337.41" y="238.70" font-size="6.7" text-anchor="middle" fill="#111" stroke="#111" stroke-width="0.22">0.54</text>
<rect x="344.57" y="229.60" width="14.33" height="13.00" fill="#7DAED4" stroke="#3a3a3a" stroke-width="0.85"/>
<text x="351.74" y="238.70" font-size="6.7" text-anchor="middle" fill="#111" stroke="#111" stroke-width="0.22">0.57</text>
<rect x="358.90" y="229.60" width="14.33" height="13.00" fill="#A6CAE2" stroke="#3a3a3a" stroke-width="0.85"/>
<text x="366.07" y="238.70" font-size="6.7" text-anchor="middle" fill="#111" stroke="#111" stroke-width="0.22">0.61</text>
<rect x="373.23" y="229.60" width="14.33" height="13.00" fill="#87B5D8" stroke="#3a3a3a" stroke-width="0.85"/>
<text x="380.40" y="238.70" font-size="6.7" text-anchor="middle" fill="#111" stroke="#111" stroke-width="0.22">0.58</text>
<rect x="387.56" y="229.60" width="14.33" height="13.00" fill="#7DAED4" stroke="#3a3a3a" stroke-width="0.85"/>
<text x="394.73" y="238.70" font-size="6.7" text-anchor="middle" fill="#111" stroke="#111" stroke-width="0.22">0.57</text>
<rect x="401.89" y="229.60" width="14.33" height="13.00" fill="#92BDDB" stroke="#3a3a3a" stroke-width="0.85"/>
<text x="409.06" y="238.70" font-size="6.7" text-anchor="middle" fill="#111" stroke="#111" stroke-width="0.22">0.59</text>
<rect x="416.22" y="229.60" width="14.33" height="13.00" fill="#87B5D8" stroke="#3a3a3a" stroke-width="0.85"/>
<text x="423.39" y="238.70" font-size="6.7" text-anchor="middle" fill="#111" stroke="#111" stroke-width="0.22">0.58</text>
<rect x="430.55" y="229.60" width="14.33" height="13.00" fill="#CBE0EC" stroke="#3a3a3a" stroke-width="0.85"/>
<text x="437.72" y="238.70" font-size="6.7" text-anchor="middle" fill="#111" stroke="#111" stroke-width="0.22">0.65</text>
<rect x="444.88" y="229.60" width="14.33" height="13.00" fill="#B9D5E7" stroke="#3a3a3a" stroke-width="0.85"/>
<text x="452.05" y="238.70" font-size="6.7" text-anchor="middle" fill="#111" stroke="#111" stroke-width="0.22">0.63</text>
<rect x="459.21" y="229.60" width="14.33" height="13.00" fill="#72A6D1" stroke="#3a3a3a" stroke-width="0.85"/>
<text x="466.38" y="238.70" font-size="6.7" text-anchor="middle" fill="#111" stroke="#111" stroke-width="0.22">0.56</text>
<rect x="473.54" y="229.60" width="14.33" height="13.00" fill="#72A6D1" stroke="#3a3a3a" stroke-width="0.85"/>
<text x="480.71" y="238.70" font-size="6.7" text-anchor="middle" fill="#111" stroke="#111" stroke-width="0.22">0.56</text>
<rect x="487.87" y="229.60" width="14.33" height="13.00" fill="#87B5D8" stroke="#3a3a3a" stroke-width="0.85"/>
<text x="495.04" y="238.70" font-size="6.7" text-anchor="middle" fill="#111" stroke="#111" stroke-width="0.22">0.58</text>
<rect x="502.20" y="229.60" width="14.33" height="13.00" fill="#679FCD" stroke="#3a3a3a" stroke-width="0.85"/>
<text x="509.37" y="238.70" font-size="6.7" text-anchor="middle" fill="#111" stroke="#111" stroke-width="0.22">0.55</text>
<rect x="72.30" y="242.60" width="14.33" height="13.00" fill="#AFCFE4" stroke="#3a3a3a" stroke-width="0.85"/>
<text x="79.47" y="251.70" font-size="6.7" text-anchor="middle" fill="#111" stroke="#111" stroke-width="0.22">0.62</text>
<rect x="86.63" y="242.60" width="14.33" height="13.00" fill="#A6CAE2" stroke="#3a3a3a" stroke-width="0.85"/>
<text x="93.80" y="251.70" font-size="6.7" text-anchor="middle" fill="#111" stroke="#111" stroke-width="0.22">0.61</text>
<rect x="100.96" y="242.60" width="14.33" height="13.00" fill="#7DAED4" stroke="#3a3a3a" stroke-width="0.85"/>
<text x="108.12" y="251.70" font-size="6.7" text-anchor="middle" fill="#111" stroke="#111" stroke-width="0.22">0.57</text>
<rect x="115.29" y="242.60" width="14.33" height="13.00" fill="#92BDDB" stroke="#3a3a3a" stroke-width="0.85"/>
<text x="122.45" y="251.70" font-size="6.7" text-anchor="middle" fill="#111" stroke="#111" stroke-width="0.22">0.59</text>
<rect x="129.62" y="242.60" width="14.33" height="13.00" fill="#7DAED4" stroke="#3a3a3a" stroke-width="0.85"/>
<text x="136.78" y="251.70" font-size="6.7" text-anchor="middle" fill="#111" stroke="#111" stroke-width="0.22">0.57</text>
<rect x="143.95" y="242.60" width="14.33" height="13.00" fill="#DDEAEE" stroke="#3a3a3a" stroke-width="0.85"/>
<text x="151.11" y="251.70" font-size="6.7" text-anchor="middle" fill="#111" stroke="#111" stroke-width="0.22">0.67</text>
<rect x="158.28" y="242.60" width="14.33" height="13.00" fill="#E5EEEE" stroke="#3a3a3a" stroke-width="0.85"/>
<text x="165.44" y="251.70" font-size="6.7" text-anchor="middle" fill="#111" stroke="#111" stroke-width="0.22">0.68</text>
<rect x="172.61" y="242.60" width="14.33" height="13.00" fill="#B9D5E7" stroke="#3a3a3a" stroke-width="0.85"/>
<text x="179.78" y="251.70" font-size="6.7" text-anchor="middle" fill="#111" stroke="#111" stroke-width="0.22">0.63</text>
<rect x="186.94" y="242.60" width="14.33" height="13.00" fill="#AFCFE4" stroke="#3a3a3a" stroke-width="0.85"/>
<text x="194.10" y="251.70" font-size="6.7" text-anchor="middle" fill="#111" stroke="#111" stroke-width="0.22">0.62</text>
<rect x="201.27" y="242.60" width="14.33" height="13.00" fill="#CBE0EC" stroke="#3a3a3a" stroke-width="0.85"/>
<text x="208.43" y="251.70" font-size="6.7" text-anchor="middle" fill="#111" stroke="#111" stroke-width="0.22">0.65</text>
<rect x="215.60" y="242.60" width="14.33" height="13.00" fill="#D4E5ED" stroke="#3a3a3a" stroke-width="0.85"/>
<text x="222.77" y="251.70" font-size="6.7" text-anchor="middle" fill="#111" stroke="#111" stroke-width="0.22">0.66</text>
<rect x="229.93" y="242.60" width="14.33" height="13.00" fill="#92BDDB" stroke="#3a3a3a" stroke-width="0.85"/>
<text x="237.09" y="251.70" font-size="6.7" text-anchor="middle" fill="#111" stroke="#111" stroke-width="0.22">0.59</text>
<rect x="244.26" y="242.60" width="14.33" height="13.00" fill="#679FCD" stroke="#3a3a3a" stroke-width="0.85"/>
<text x="251.42" y="251.70" font-size="6.7" text-anchor="middle" fill="#111" stroke="#111" stroke-width="0.22">0.55</text>
<rect x="258.59" y="242.60" width="14.33" height="13.00" fill="#AFCFE4" stroke="#3a3a3a" stroke-width="0.85"/>
<text x="265.75" y="251.70" font-size="6.7" text-anchor="middle" fill="#111" stroke="#111" stroke-width="0.22">0.62</text>
<rect x="272.92" y="242.60" width="14.33" height="13.00" fill="#92BDDB" stroke="#3a3a3a" stroke-width="0.85"/>
<text x="280.09" y="251.70" font-size="6.7" text-anchor="middle" fill="#111" stroke="#111" stroke-width="0.22">0.59</text>
<rect x="287.25" y="242.60" width="14.33" height="13.00" fill="#9DC4DF" stroke="#3a3a3a" stroke-width="0.85"/>
<text x="294.42" y="251.70" font-size="6.7" text-anchor="middle" fill="#111" stroke="#111" stroke-width="0.22">0.60</text>
<rect x="301.58" y="242.60" width="14.33" height="13.00" fill="#5791C6" stroke="#3a3a3a" stroke-width="0.85"/>
<text x="308.75" y="251.70" font-size="6.7" text-anchor="middle" fill="#111" stroke="#111" stroke-width="0.22">0.53</text>
<rect x="315.91" y="242.60" width="14.33" height="13.00" fill="#92BDDB" stroke="#3a3a3a" stroke-width="0.85"/>
<text x="323.08" y="251.70" font-size="6.7" text-anchor="middle" fill="#111" stroke="#111" stroke-width="0.22">0.59</text>
<rect x="330.24" y="242.60" width="14.33" height="13.00" fill="#87B5D8" stroke="#3a3a3a" stroke-width="0.85"/>
<text x="337.41" y="251.70" font-size="6.7" text-anchor="middle" fill="#111" stroke="#111" stroke-width="0.22">0.58</text>
<rect x="344.57" y="242.60" width="14.33" height="13.00" fill="#CBE0EC" stroke="#3a3a3a" stroke-width="0.85"/>
<text x="351.74" y="251.70" font-size="6.7" text-anchor="middle" fill="#111" stroke="#111" stroke-width="0.22">0.65</text>
<rect x="358.90" y="242.60" width="14.33" height="13.00" fill="#CBE0EC" stroke="#3a3a3a" stroke-width="0.85"/>
<text x="366.07" y="251.70" font-size="6.7" text-anchor="middle" fill="#111" stroke="#111" stroke-width="0.22">0.65</text>
<rect x="373.23" y="242.60" width="14.33" height="13.00" fill="#9DC4DF" stroke="#3a3a3a" stroke-width="0.85"/>
<text x="380.40" y="251.70" font-size="6.7" text-anchor="middle" fill="#111" stroke="#111" stroke-width="0.22">0.60</text>
<rect x="387.56" y="242.60" width="14.33" height="13.00" fill="#AFCFE4" stroke="#3a3a3a" stroke-width="0.85"/>
<text x="394.73" y="251.70" font-size="6.7" text-anchor="middle" fill="#111" stroke="#111" stroke-width="0.22">0.62</text>
<rect x="401.89" y="242.60" width="14.33" height="13.00" fill="#AFCFE4" stroke="#3a3a3a" stroke-width="0.85"/>
<text x="409.06" y="251.70" font-size="6.7" text-anchor="middle" fill="#111" stroke="#111" stroke-width="0.22">0.62</text>
<rect x="416.22" y="242.60" width="14.33" height="13.00" fill="#B9D5E7" stroke="#3a3a3a" stroke-width="0.85"/>
<text x="423.39" y="251.70" font-size="6.7" text-anchor="middle" fill="#111" stroke="#111" stroke-width="0.22">0.63</text>
<rect x="430.55" y="242.60" width="14.33" height="13.00" fill="#FCEEDB" stroke="#3a3a3a" stroke-width="0.85"/>
<text x="437.72" y="251.70" font-size="6.7" text-anchor="middle" fill="#111" stroke="#111" stroke-width="0.22">0.74</text>
<rect x="444.88" y="242.60" width="14.33" height="13.00" fill="#FCEEDB" stroke="#3a3a3a" stroke-width="0.85"/>
<text x="452.05" y="251.70" font-size="6.7" text-anchor="middle" fill="#111" stroke="#111" stroke-width="0.22">0.74</text>
<rect x="459.21" y="242.60" width="14.33" height="13.00" fill="#5F98CA" stroke="#3a3a3a" stroke-width="0.85"/>
<text x="466.38" y="251.70" font-size="6.7" text-anchor="middle" fill="#111" stroke="#111" stroke-width="0.22">0.54</text>
<rect x="473.54" y="242.60" width="14.33" height="13.00" fill="#5F98CA" stroke="#3a3a3a" stroke-width="0.85"/>
<text x="480.71" y="251.70" font-size="6.7" text-anchor="middle" fill="#111" stroke="#111" stroke-width="0.22">0.54</text>
<rect x="487.87" y="242.60" width="14.33" height="13.00" fill="#92BDDB" stroke="#3a3a3a" stroke-width="0.85"/>
<text x="495.04" y="251.70" font-size="6.7" text-anchor="middle" fill="#111" stroke="#111" stroke-width="0.22">0.59</text>
<rect x="502.20" y="242.60" width="14.33" height="13.00" fill="#4784BF" stroke="#3a3a3a" stroke-width="0.85"/>
<text x="509.37" y="251.70" font-size="6.7" text-anchor="middle" fill="#111" stroke="#111" stroke-width="0.22">0.51</text>
<text x="71.00" y="147.00" font-size="6.8" text-anchor="end" fill="#111" stroke="#111" stroke-width="0.22">all features</text>
<text x="71.00" y="160.00" font-size="6.8" text-anchor="end" fill="#111" stroke="#111" stroke-width="0.22">without mutation</text>
<text x="71.00" y="173.00" font-size="6.8" text-anchor="end" fill="#111" stroke="#111" stroke-width="0.22">without mRNA</text>
<text x="71.00" y="186.00" font-size="6.8" text-anchor="end" fill="#111" stroke="#111" stroke-width="0.22">without methylation</text>
<text x="71.00" y="199.00" font-size="6.8" text-anchor="end" fill="#111" stroke="#111" stroke-width="0.22">without CNV</text>
<text x="71.00" y="212.00" font-size="6.8" text-anchor="end" fill="#111" stroke="#111" stroke-width="0.22">only mutation</text>
<text x="71.00" y="225.00" font-size="6.8" text-anchor="end" fill="#111" stroke="#111" stroke-width="0.22">only mRNA</text>
<text x="71.00" y="238.00" font-size="6.8" text-anchor="end" fill="#111" stroke="#111" stroke-width="0.22">only methylation</text>
<text x="71.00" y="251.00" font-size="6.8" text-anchor="end" fill="#111" stroke="#111" stroke-width="0.22">only CNV</text>
<text x="83.77" y="261.10" font-size="7.0" text-anchor="end" fill="#111" transform="rotate(-45 83.77 261.10)" stroke="#111" stroke-width="0.22">GBM</text>
<text x="98.09" y="261.10" font-size="7.0" text-anchor="end" fill="#111" transform="rotate(-45 98.09 261.10)" stroke="#111" stroke-width="0.22">LUAD</text>
<text x="112.42" y="261.10" font-size="7.0" text-anchor="end" fill="#111" transform="rotate(-45 112.42 261.10)" stroke="#111" stroke-width="0.22">SARC</text>
<text x="126.75" y="261.10" font-size="7.0" text-anchor="end" fill="#111" transform="rotate(-45 126.75 261.10)" stroke="#111" stroke-width="0.22">BLCA</text>
<text x="141.09" y="261.10" font-size="7.0" text-anchor="end" fill="#111" transform="rotate(-45 141.09 261.10)" stroke="#111" stroke-width="0.22">KIRP</text>
<text x="155.41" y="261.10" font-size="7.0" text-anchor="end" fill="#111" transform="rotate(-45 155.41 261.10)" stroke="#111" stroke-width="0.22">LUSC</text>
<text x="169.75" y="261.10" font-size="7.0" text-anchor="end" fill="#111" transform="rotate(-45 169.75 261.10)" stroke="#111" stroke-width="0.22">STAD</text>
<text x="184.08" y="261.10" font-size="7.0" text-anchor="end" fill="#111" transform="rotate(-45 184.08 261.10)" stroke="#111" stroke-width="0.22">ESCA</text>
<text x="198.41" y="261.10" font-size="7.0" text-anchor="end" fill="#111" transform="rotate(-45 198.41 261.10)" stroke="#111" stroke-width="0.22">SKCM</text>
<text x="212.73" y="261.10" font-size="7.0" text-anchor="end" fill="#111" transform="rotate(-45 212.73 261.10)" stroke="#111" stroke-width="0.22">HNSC</text>
<text x="227.07" y="261.10" font-size="7.0" text-anchor="end" fill="#111" transform="rotate(-45 227.07 261.10)" stroke="#111" stroke-width="0.22">OV</text>
<text x="241.40" y="261.10" font-size="7.0" text-anchor="end" fill="#111" transform="rotate(-45 241.40 261.10)" stroke="#111" stroke-width="0.22">PRAD</text>
<text x="255.72" y="261.10" font-size="7.0" text-anchor="end" fill="#111" transform="rotate(-45 255.72 261.10)" stroke="#111" stroke-width="0.22">THCA</text>
<text x="270.06" y="261.10" font-size="7.0" text-anchor="end" fill="#111" transform="rotate(-45 270.06 261.10)" stroke="#111" stroke-width="0.22">LIHC</text>
<text x="284.39" y="261.10" font-size="7.0" text-anchor="end" fill="#111" transform="rotate(-45 284.39 261.10)" stroke="#111" stroke-width="0.22">CESC</text>
<text x="298.72" y="261.10" font-size="7.0" text-anchor="end" fill="#111" transform="rotate(-45 298.72 261.10)" stroke="#111" stroke-width="0.22">KIRC</text>
<text x="313.05" y="261.10" font-size="7.0" text-anchor="end" fill="#111" transform="rotate(-45 313.05 261.10)" stroke="#111" stroke-width="0.22">THYM</text>
<text x="327.38" y="261.10" font-size="7.0" text-anchor="end" fill="#111" transform="rotate(-45 327.38 261.10)" stroke="#111" stroke-width="0.22">ACC</text>
<text x="341.71" y="261.10" font-size="7.0" text-anchor="end" fill="#111" transform="rotate(-45 341.71 261.10)" stroke="#111" stroke-width="0.22">UCS</text>
<text x="356.04" y="261.10" font-size="7.0" text-anchor="end" fill="#111" transform="rotate(-45 356.04 261.10)" stroke="#111" stroke-width="0.22">COAD</text>
<text x="370.37" y="261.10" font-size="7.0" text-anchor="end" fill="#111" transform="rotate(-45 370.37 261.10)" stroke="#111" stroke-width="0.22">UCEC</text>
<text x="384.70" y="261.10" font-size="7.0" text-anchor="end" fill="#111" transform="rotate(-45 384.70 261.10)" stroke="#111" stroke-width="0.22">PAAD</text>
<text x="399.03" y="261.10" font-size="7.0" text-anchor="end" fill="#111" transform="rotate(-45 399.03 261.10)" stroke="#111" stroke-width="0.22">READ</text>
<text x="413.36" y="261.10" font-size="7.0" text-anchor="end" fill="#111" transform="rotate(-45 413.36 261.10)" stroke="#111" stroke-width="0.22">BRCA</text>
<text x="427.69" y="261.10" font-size="7.0" text-anchor="end" fill="#111" transform="rotate(-45 427.69 261.10)" stroke="#111" stroke-width="0.22">LGG</text>
<text x="442.02" y="261.10" font-size="7.0" text-anchor="end" fill="#111" transform="rotate(-45 442.02 261.10)" stroke="#111" stroke-width="0.22">LAML</text>
<text x="456.35" y="261.10" font-size="7.0" text-anchor="end" fill="#111" transform="rotate(-45 456.35 261.10)" stroke="#111" stroke-width="0.22">TGCT</text>
<text x="470.68" y="261.10" font-size="7.0" text-anchor="end" fill="#111" transform="rotate(-45 470.68 261.10)" stroke="#111" stroke-width="0.22">CHOL</text>
<text x="485.01" y="261.10" font-size="7.0" text-anchor="end" fill="#111" transform="rotate(-45 485.01 261.10)" stroke="#111" stroke-width="0.22">DLBC</text>
<text x="499.34" y="261.10" font-size="7.0" text-anchor="end" fill="#111" transform="rotate(-45 499.34 261.10)" stroke="#111" stroke-width="0.22">KICH</text>
<text x="513.66" y="261.10" font-size="7.0" text-anchor="end" fill="#111" transform="rotate(-45 513.66 261.10)" stroke="#111" stroke-width="0.22">PCPG</text>
<defs><linearGradient id="hmg" x1="0" x2="1" y1="0" y2="0"><stop offset="0.000" stop-color="#D42C2C"/><stop offset="0.050" stop-color="#D6312F"/><stop offset="0.100" stop-color="#DA3D38"/><stop offset="0.150" stop-color="#DE5048"/><stop offset="0.200" stop-color="#E26259"/><stop offset="0.250" stop-color="#E6746B"/><stop offset="0.300" stop-color="#EB8F84"/><stop offset="0.350" stop-color="#EFAA9D"/><stop offset="0.400" stop-color="#F4C2B4"/><stop offset="0.450" stop-color="#F9D9C9"/><stop offset="0.500" stop-color="#FCEBD7"/><stop offset="0.550" stop-color="#FDF4E3"/><stop offset="0.600" stop-color="#F6F5EA"/><stop offset="0.650" stop-color="#E9F0EF"/><stop offset="0.700" stop-color="#D7E7ED"/><stop offset="0.750" stop-color="#C5DCEA"/><stop offset="0.800" stop-color="#B2D1E5"/><stop offset="0.850" stop-color="#9FC5E0"/><stop offset="0.900" stop-color="#89B6D8"/><stop offset="0.950" stop-color="#73A7D1"/><stop offset="1.000" stop-color="#5F98CA"/></linearGradient></defs>
<rect x="235.20" y="130.80" width="96.30" height="5.70" fill="url(#hmg)"/>
<text x="247.50" y="128.40" font-size="6.6" text-anchor="middle" fill="#111" stroke="#111" stroke-width="0.22">0.9</text>
<text x="271.00" y="128.40" font-size="6.6" text-anchor="middle" fill="#111" stroke="#111" stroke-width="0.22">0.8</text>
<text x="293.90" y="128.40" font-size="6.6" text-anchor="middle" fill="#111" stroke="#111" stroke-width="0.22">0.7</text>
<text x="317.50" y="128.40" font-size="6.6" text-anchor="middle" fill="#111" stroke="#111" stroke-width="0.22">0.6</text>
<text x="230.60" y="135.60" font-size="8.2" text-anchor="end" fill="#111" stroke="#111" stroke-width="0.22">AUC</text>
<text x="278.00" y="284.00" font-size="12" text-anchor="middle" fill="#111" stroke="#111" stroke-width="0.15">Cancer type</text>
<text x="12.60" y="191.50" font-size="12" text-anchor="middle" fill="#111" transform="rotate(-90 12.60 191.50)" stroke="#111" stroke-width="0.15">Feature selection</text>
<text x="1.90" y="136.40" font-size="18" text-anchor="start" fill="#000" font-weight="bold">C</text>
<polygon points="32.9,385.0 33.7,385.0 34.4,420.0 35.3,440.0 36.3,448.0 37.9,451.6 41.0,453.2 50.0,453.8 100.0,454.8 150.0,455.6 192.0,456.3 192.0,458.4 150.0,458.4 70.0,458.3 52.0,457.9 45.0,457.1 40.0,455.2 37.5,453.6 32.2,453.6 32.2,432.0 32.6,405.0" fill="#E2E236"/>
<path d="M33.3,316 L33.4,400 C33.8,425 34.6,442 36.5,449.5 C38.5,455 42,457.2 48,458.0 C55,458.4 65,458.5 75,458.5 L192,458.6" fill="none" stroke="#1a1a1a" stroke-width="1.25"/>
<rect x="26.30" y="310.20" width="172.30" height="153.80" fill="none" stroke="#222" stroke-width="1.1"/>
<line x1="22.70" y1="458.70" x2="26.30" y2="458.70" stroke="#222" stroke-width="0.8"/>
<text x="20.60" y="458.70" font-size="6.6" text-anchor="middle" fill="#111" transform="rotate(-90 20.60 458.70)" stroke="#111" stroke-width="0.22">0.00</text>
<line x1="22.70" y1="436.80" x2="26.30" y2="436.80" stroke="#222" stroke-width="0.8"/>
<text x="20.60" y="436.80" font-size="6.6" text-anchor="middle" fill="#111" transform="rotate(-90 20.60 436.80)" stroke="#111" stroke-width="0.22">0.01</text>
<line x1="22.70" y1="414.90" x2="26.30" y2="414.90" stroke="#222" stroke-width="0.8"/>
<text x="20.60" y="414.90" font-size="6.6" text-anchor="middle" fill="#111" transform="rotate(-90 20.60 414.90)" stroke="#111" stroke-width="0.22">0.02</text>
<line x1="22.70" y1="393.00" x2="26.30" y2="393.00" stroke="#222" stroke-width="0.8"/>
<text x="20.60" y="393.00" font-size="6.6" text-anchor="middle" fill="#111" transform="rotate(-90 20.60 393.00)" stroke="#111" stroke-width="0.22">0.03</text>
<line x1="22.70" y1="371.10" x2="26.30" y2="371.10" stroke="#222" stroke-width="0.8"/>
<text x="20.60" y="371.10" font-size="6.6" text-anchor="middle" fill="#111" transform="rotate(-90 20.60 371.10)" stroke="#111" stroke-width="0.22">0.04</text>
<line x1="22.70" y1="349.20" x2="26.30" y2="349.20" stroke="#222" stroke-width="0.8"/>
<text x="20.60" y="349.20" font-size="6.6" text-anchor="middle" fill="#111" transform="rotate(-90 20.60 349.20)" stroke="#111" stroke-width="0.22">0.05</text>
<line x1="22.70" y1="327.30" x2="26.30" y2="327.30" stroke="#222" stroke-width="0.8"/>
<text x="20.60" y="327.30" font-size="6.6" text-anchor="middle" fill="#111" transform="rotate(-90 20.60 327.30)" stroke="#111" stroke-width="0.22">0.06</text>
<line x1="32.80" y1="464.00" x2="32.80" y2="467.60" stroke="#222" stroke-width="0.8"/>
<text x="32.80" y="474.60" font-size="6.6" text-anchor="middle" fill="#111" stroke="#111" stroke-width="0.22">0</text>
<line x1="87.13" y1="464.00" x2="87.13" y2="467.60" stroke="#222" stroke-width="0.8"/>
<text x="87.13" y="474.60" font-size="6.6" text-anchor="middle" fill="#111" stroke="#111" stroke-width="0.22">500</text>
<line x1="141.47" y1="464.00" x2="141.47" y2="467.60" stroke="#222" stroke-width="0.8"/>
<text x="141.47" y="474.60" font-size="6.6" text-anchor="middle" fill="#111" stroke="#111" stroke-width="0.22">1000</text>
<line x1="195.81" y1="464.00" x2="195.81" y2="467.60" stroke="#222" stroke-width="0.8"/>
<text x="195.81" y="474.60" font-size="6.6" text-anchor="middle" fill="#111" stroke="#111" stroke-width="0.22">1500</text>
<text x="120.00" y="486.80" font-size="12" text-anchor="middle" fill="#111" stroke="#111" stroke-width="0.15">Interacted number</text>
<text x="11.60" y="380.80" font-size="12" text-anchor="middle" fill="#111" transform="rotate(-90 11.60 380.80)" stroke="#111" stroke-width="0.15">Density</text>
<text x="1.90" y="316.20" font-size="18" text-anchor="start" fill="#000" font-weight="bold">D</text>
<path d="M108.60,383.50 L110.47,329.93 A53.60,53.60 0 0 1 162.19,382.74 Z" fill="#FF0000" stroke="#FFFFFF" stroke-width="0.8"/>
<path d="M108.60,383.50 L162.19,382.74 A53.60,53.60 0 0 1 162.20,383.18 Z" fill="#8B5A2B" stroke="#FFFFFF" stroke-width="0.8"/>
<path d="M108.60,383.50 L162.20,383.18 A53.60,53.60 0 0 1 158.05,404.18 Z" fill="#F39530" stroke="#FFFFFF" stroke-width="0.8"/>
<path d="M108.60,383.50 L158.05,404.18 A53.60,53.60 0 0 1 140.79,426.35 Z" fill="#FF1EFF" stroke="#FFFFFF" stroke-width="0.8"/>
<path d="M108.60,383.50 L140.79,426.35 A53.60,53.60 0 0 1 67.07,417.39 Z" fill="#14A09E" stroke="#FFFFFF" stroke-width="0.8"/>
<path d="M108.60,383.50 L67.07,417.39 A53.60,53.60 0 0 1 55.00,383.95 Z" fill="#00FFFF" stroke="#FFFFFF" stroke-width="0.8"/>
<path d="M108.60,383.50 L55.00,383.95 A53.60,53.60 0 0 1 75.98,340.97 Z" fill="#11E011" stroke="#FFFFFF" stroke-width="0.8"/>
<path d="M108.60,383.50 L75.98,340.97 A53.60,53.60 0 0 1 110.47,329.93 Z" fill="#FFFF00" stroke="#FFFFFF" stroke-width="0.8"/>
<text x="91.20" y="329.20" font-size="6.6" text-anchor="middle" fill="#111" stroke="#111" stroke-width="0.22">2</text>
<text x="150.40" y="346.20" font-size="6.6" text-anchor="middle" fill="#111" stroke="#111" stroke-width="0.22">1</text>
<text x="53.80" y="358.80" font-size="6.6" text-anchor="middle" fill="#111" stroke="#111" stroke-width="0.22">3-5</text>
<text x="162.00" y="373.60" font-size="6.6" text-anchor="start" fill="#111" stroke="#111" stroke-width="0.22">0.13%</text>
<text x="164.00" y="386.50" font-size="6.6" text-anchor="start" fill="#111" stroke="#111" stroke-width="0.22">600-1468</text>
<text x="163.30" y="399.20" font-size="6.6" text-anchor="start" fill="#111" stroke="#111" stroke-width="0.22">101-600</text>
<text x="151.70" y="423.50" font-size="6.6" text-anchor="start" fill="#111" stroke="#111" stroke-width="0.22">51-100</text>
<text x="101.00" y="443.70" font-size="6.6" text-anchor="middle" fill="#111" stroke="#111" stroke-width="0.22">11-50</text>
<text x="50.00" y="404.50" font-size="6.6" text-anchor="middle" fill="#111" stroke="#111" stroke-width="0.22">6-10</text>
<line x1="162.90" y1="382.60" x2="164.40" y2="375.60" stroke="#111" stroke-width="0.8"/>
<text x="97.90" y="349.40" font-size="6.6" text-anchor="middle" fill="#222" stroke="#222" stroke-width="0.22">10.97%</text>
<text x="128.90" y="363.40" font-size="6.6" text-anchor="middle" fill="#222" stroke="#222" stroke-width="0.22">24.22%</text>
<text x="77.70" y="371.70" font-size="6.6" text-anchor="middle" fill="#222" stroke="#222" stroke-width="0.22">14.72%</text>
<text x="76.30" y="395.10" font-size="6.6" text-anchor="middle" fill="#222" stroke="#222" stroke-width="0.22">10.76%</text>
<text x="143.70" y="393.80" font-size="6.6" text-anchor="middle" fill="#222" stroke="#222" stroke-width="0.22">6.40%</text>
<text x="136.10" y="409.10" font-size="6.6" text-anchor="middle" fill="#222" stroke="#222" stroke-width="0.22">8.44%</text>
<text x="108.70" y="418.80" font-size="6.6" text-anchor="middle" fill="#222" stroke="#222" stroke-width="0.22">24.36%</text>
<line x1="248.10" y1="370.80" x2="515.80" y2="370.80" stroke="#D8D8D8" stroke-width="0.5" stroke-dasharray="1,1.5"/>
<line x1="248.10" y1="361.15" x2="515.80" y2="361.15" stroke="#D8D8D8" stroke-width="0.5" stroke-dasharray="1,1.5"/>
<line x1="248.10" y1="351.50" x2="515.80" y2="351.50" stroke="#D8D8D8" stroke-width="0.5" stroke-dasharray="1,1.5"/>
<line x1="248.10" y1="341.85" x2="515.80" y2="341.85" stroke="#D8D8D8" stroke-width="0.5" stroke-dasharray="1,1.5"/>
<line x1="248.10" y1="332.20" x2="515.80" y2="332.20" stroke="#D8D8D8" stroke-width="0.5" stroke-dasharray="1,1.5"/>
<line x1="248.10" y1="322.55" x2="515.80" y2="322.55" stroke="#D8D8D8" stroke-width="0.5" stroke-dasharray="1,1.5"/>
<line x1="248.10" y1="312.90" x2="515.80" y2="312.90" stroke="#D8D8D8" stroke-width="0.5" stroke-dasharray="1,1.5"/>
<line x1="253.50" y1="304.00" x2="253.50" y2="373.00" stroke="#D8D8D8" stroke-width="0.5" stroke-dasharray="1,1.5"/>
<line x1="262.70" y1="304.00" x2="262.70" y2="373.00" stroke="#D8D8D8" stroke-width="0.5" stroke-dasharray="1,1.5"/>
<line x1="271.90" y1="304.00" x2="271.90" y2="373.00" stroke="#D8D8D8" stroke-width="0.5" stroke-dasharray="1,1.5"/>
<line x1="281.10" y1="304.00" x2="281.10" y2="373.00" stroke="#D8D8D8" stroke-width="0.5" stroke-dasharray="1,1.5"/>
<line x1="290.30" y1="304.00" x2="290.30" y2="373.00" stroke="#D8D8D8" stroke-width="0.5" stroke-dasharray="1,1.5"/>
<line x1="299.50" y1="304.00" x2="299.50" y2="373.00" stroke="#D8D8D8" stroke-width="0.5" stroke-dasharray="1,1.5"/>
<line x1="308.70" y1="304.00" x2="308.70" y2="373.00" stroke="#D8D8D8" stroke-width="0.5" stroke-dasharray="1,1.5"/>
<line x1="317.90" y1="304.00" x2="317.90" y2="373.00" stroke="#D8D8D8" stroke-width="0.5" stroke-dasharray="1,1.5"/>
<line x1="327.10" y1="304.00" x2="327.10" y2="373.00" stroke="#D8D8D8" stroke-width="0.5" stroke-dasharray="1,1.5"/>
<line x1="336.30" y1="304.00" x2="336.30" y2="373.00" stroke="#D8D8D8" stroke-width="0.5" stroke-dasharray="1,1.5"/>
<line x1="345.50" y1="304.00" x2="345.50" y2="373.00" stroke="#D8D8D8" stroke-width="0.5" stroke-dasharray="1,1.5"/>
<line x1="354.70" y1="304.00" x2="354.70" y2="373.00" stroke="#D8D8D8" stroke-width="0.5" stroke-dasharray="1,1.5"/>
<line x1="363.90" y1="304.00" x2="363.90" y2="373.00" stroke="#D8D8D8" stroke-width="0.5" stroke-dasharray="1,1.5"/>
<line x1="373.10" y1="304.00" x2="373.10" y2="373.00" stroke="#D8D8D8" stroke-width="0.5" stroke-dasharray="1,1.5"/>
<line x1="382.30" y1="304.00" x2="382.30" y2="373.00" stroke="#D8D8D8" stroke-width="0.5" stroke-dasharray="1,1.5"/>
<line x1="391.50" y1="304.00" x2="391.50" y2="373.00" stroke="#D8D8D8" stroke-width="0.5" stroke-dasharray="1,1.5"/>
<line x1="400.70" y1="304.00" x2="400.70" y2="373.00" stroke="#D8D8D8" stroke-width="0.5" stroke-dasharray="1,1.5"/>
<line x1="409.90" y1="304.00" x2="409.90" y2="373.00" stroke="#D8D8D8" stroke-width="0.5" stroke-dasharray="1,1.5"/>
<line x1="419.10" y1="304.00" x2="419.10" y2="373.00" stroke="#D8D8D8" stroke-width="0.5" stroke-dasharray="1,1.5"/>
<line x1="428.30" y1="304.00" x2="428.30" y2="373.00" stroke="#D8D8D8" stroke-width="0.5" stroke-dasharray="1,1.5"/>
<line x1="437.50" y1="304.00" x2="437.50" y2="373.00" stroke="#D8D8D8" stroke-width="0.5" stroke-dasharray="1,1.5"/>
<line x1="446.70" y1="304.00" x2="446.70" y2="373.00" stroke="#D8D8D8" stroke-width="0.5" stroke-dasharray="1,1.5"/>
<line x1="455.90" y1="304.00" x2="455.90" y2="373.00" stroke="#D8D8D8" stroke-width="0.5" stroke-dasharray="1,1.5"/>
<line x1="465.10" y1="304.00" x2="465.10" y2="373.00" stroke="#D8D8D8" stroke-width="0.5" stroke-dasharray="1,1.5"/>
<line x1="474.30" y1="304.00" x2="474.30" y2="373.00" stroke="#D8D8D8" stroke-width="0.5" stroke-dasharray="1,1.5"/>
<line x1="483.50" y1="304.00" x2="483.50" y2="373.00" stroke="#D8D8D8" stroke-width="0.5" stroke-dasharray="1,1.5"/>
<line x1="492.70" y1="304.00" x2="492.70" y2="373.00" stroke="#D8D8D8" stroke-width="0.5" stroke-dasharray="1,1.5"/>
<line x1="501.90" y1="304.00" x2="501.90" y2="373.00" stroke="#D8D8D8" stroke-width="0.5" stroke-dasharray="1,1.5"/>
<line x1="511.10" y1="304.00" x2="511.10" y2="373.00" stroke="#D8D8D8" stroke-width="0.5" stroke-dasharray="1,1.5"/>
<rect x="249.40" y="369.56" width="8.20" height="1.24" fill="#F8766D"/>
<rect x="258.60" y="367.40" width="8.20" height="3.40" fill="#EF7F48"/>
<rect x="267.80" y="363.85" width="8.20" height="6.95" fill="#E48800"/>
<rect x="277.00" y="359.99" width="8.20" height="10.81" fill="#D69100"/>
<rect x="286.20" y="354.39" width="8.20" height="16.41" fill="#C69900"/>
<rect x="295.40" y="346.29" width="8.20" height="24.51" fill="#B4A000"/>
<rect x="304.60" y="335.83" width="8.20" height="34.97" fill="#9EA700"/>
<rect x="313.80" y="323.82" width="8.20" height="46.98" fill="#83AD00"/>
<rect x="323.00" y="314.33" width="8.20" height="56.47" fill="#60B200"/>
<rect x="332.20" y="306.92" width="8.20" height="63.88" fill="#19B700"/>
<rect x="341.40" y="307.23" width="8.20" height="63.57" fill="#00BB48"/>
<rect x="350.60" y="312.55" width="8.20" height="58.25" fill="#00BE6B"/>
<rect x="359.80" y="324.56" width="8.20" height="46.24" fill="#00C088"/>
<rect x="369.00" y="335.40" width="8.20" height="35.40" fill="#00C1A2"/>
<rect x="378.20" y="347.18" width="8.20" height="23.62" fill="#00C0BA"/>
<rect x="387.40" y="355.94" width="8.20" height="14.86" fill="#00BECF"/>
<rect x="396.60" y="362.15" width="8.20" height="8.65" fill="#00B9E1"/>
<rect x="405.80" y="365.28" width="8.20" height="5.52" fill="#00B3F1"/>
<rect x="415.00" y="366.98" width="8.20" height="3.82" fill="#00ABFD"/>
<rect x="424.20" y="368.10" width="8.20" height="2.70" fill="#46A0FF"/>
<rect x="433.40" y="368.79" width="8.20" height="2.01" fill="#8794FF"/>
<rect x="442.60" y="369.10" width="8.20" height="1.70" fill="#B086FF"/>
<rect x="451.80" y="369.64" width="8.20" height="1.16" fill="#CE79FF"/>
<rect x="461.00" y="369.84" width="8.20" height="0.96" fill="#E46DF6"/>
<rect x="470.20" y="370.03" width="8.20" height="0.77" fill="#F365E6"/>
<rect x="479.40" y="370.22" width="8.20" height="0.58" fill="#FC61D4"/>
<rect x="488.60" y="370.41" width="8.20" height="0.39" fill="#FF62BE"/>
<rect x="497.80" y="370.65" width="8.20" height="0.15" fill="#FF67A6"/>
<rect x="507.00" y="370.72" width="8.20" height="0.08" fill="#FE6E8B"/>
<text x="311.00" y="336.83" font-size="6.4" text-anchor="end" fill="#1a1a1a" transform="rotate(-90 311.00 336.83)" stroke="#1a1a1a" stroke-width="0.22">6.55%</text>
<text x="320.20" y="324.82" font-size="6.4" text-anchor="end" fill="#1a1a1a" transform="rotate(-90 320.20 324.82)" stroke="#1a1a1a" stroke-width="0.22">8.80%</text>
<text x="329.40" y="315.33" font-size="6.4" text-anchor="end" fill="#1a1a1a" transform="rotate(-90 329.40 315.33)" stroke="#1a1a1a" stroke-width="0.22">10.58%</text>
<text x="338.60" y="307.92" font-size="6.4" text-anchor="end" fill="#1a1a1a" transform="rotate(-90 338.60 307.92)" stroke="#1a1a1a" stroke-width="0.22">11.97%</text>
<text x="347.80" y="308.23" font-size="6.4" text-anchor="end" fill="#1a1a1a" transform="rotate(-90 347.80 308.23)" stroke="#1a1a1a" stroke-width="0.22">11.91%</text>
<text x="357.00" y="313.55" font-size="6.4" text-anchor="end" fill="#1a1a1a" transform="rotate(-90 357.00 313.55)" stroke="#1a1a1a" stroke-width="0.22">10.91%</text>
<text x="366.20" y="325.56" font-size="6.4" text-anchor="end" fill="#1a1a1a" transform="rotate(-90 366.20 325.56)" stroke="#1a1a1a" stroke-width="0.22">8.66%</text>
<text x="375.40" y="336.40" font-size="6.4" text-anchor="end" fill="#1a1a1a" transform="rotate(-90 375.40 336.40)" stroke="#1a1a1a" stroke-width="0.22">6.63%</text>
<rect x="248.10" y="304.00" width="267.70" height="69.00" fill="none" stroke="#333" stroke-width="1.1"/>
<line x1="246.50" y1="370.80" x2="248.10" y2="370.80" stroke="#333" stroke-width="0.8"/>
<text x="246.40" y="373.20" font-size="6.8" text-anchor="end" fill="#111" stroke="#111" stroke-width="0.22">0</text>
<line x1="246.50" y1="351.50" x2="248.10" y2="351.50" stroke="#333" stroke-width="0.8"/>
<text x="246.40" y="353.90" font-size="6.8" text-anchor="end" fill="#111" stroke="#111" stroke-width="0.22">5000</text>
<line x1="246.50" y1="332.20" x2="248.10" y2="332.20" stroke="#333" stroke-width="0.8"/>
<text x="246.40" y="334.60" font-size="6.8" text-anchor="end" fill="#111" stroke="#111" stroke-width="0.22">10000</text>
<line x1="246.50" y1="312.90" x2="248.10" y2="312.90" stroke="#333" stroke-width="0.8"/>
<text x="246.40" y="315.30" font-size="6.8" text-anchor="end" fill="#111" stroke="#111" stroke-width="0.22">15000</text>
<line x1="253.50" y1="373.00" x2="253.50" y2="374.80" stroke="#333" stroke-width="0.7"/>
<text x="253.50" y="380.60" font-size="6.4" text-anchor="middle" fill="#111" stroke="#111" stroke-width="0.22">1</text>
<line x1="262.70" y1="373.00" x2="262.70" y2="374.80" stroke="#333" stroke-width="0.7"/>
<text x="262.70" y="380.60" font-size="6.4" text-anchor="middle" fill="#111" stroke="#111" stroke-width="0.22">2</text>
<line x1="271.90" y1="373.00" x2="271.90" y2="374.80" stroke="#333" stroke-width="0.7"/>
<text x="271.90" y="380.60" font-size="6.4" text-anchor="middle" fill="#111" stroke="#111" stroke-width="0.22">3</text>
<line x1="281.10" y1="373.00" x2="281.10" y2="374.80" stroke="#333" stroke-width="0.7"/>
<text x="281.10" y="380.60" font-size="6.4" text-anchor="middle" fill="#111" stroke="#111" stroke-width="0.22">4</text>
<line x1="290.30" y1="373.00" x2="290.30" y2="374.80" stroke="#333" stroke-width="0.7"/>
<text x="290.30" y="380.60" font-size="6.4" text-anchor="middle" fill="#111" stroke="#111" stroke-width="0.22">5</text>
<line x1="299.50" y1="373.00" x2="299.50" y2="374.80" stroke="#333" stroke-width="0.7"/>
<text x="299.50" y="380.60" font-size="6.4" text-anchor="middle" fill="#111" stroke="#111" stroke-width="0.22">6</text>
<line x1="308.70" y1="373.00" x2="308.70" y2="374.80" stroke="#333" stroke-width="0.7"/>
<text x="308.70" y="380.60" font-size="6.4" text-anchor="middle" fill="#111" stroke="#111" stroke-width="0.22">7</text>
<line x1="317.90" y1="373.00" x2="317.90" y2="374.80" stroke="#333" stroke-width="0.7"/>
<text x="317.90" y="380.60" font-size="6.4" text-anchor="middle" fill="#111" stroke="#111" stroke-width="0.22">8</text>
<line x1="327.10" y1="373.00" x2="327.10" y2="374.80" stroke="#333" stroke-width="0.7"/>
<text x="327.10" y="380.60" font-size="6.4" text-anchor="middle" fill="#111" stroke="#111" stroke-width="0.22">9</text>
<line x1="336.30" y1="373.00" x2="336.30" y2="374.80" stroke="#333" stroke-width="0.7"/>
<text x="336.30" y="380.60" font-size="6.4" text-anchor="middle" fill="#111" stroke="#111" stroke-width="0.22">10</text>
<line x1="345.50" y1="373.00" x2="345.50" y2="374.80" stroke="#333" stroke-width="0.7"/>
<text x="345.50" y="380.60" font-size="6.4" text-anchor="middle" fill="#111" stroke="#111" stroke-width="0.22">11</text>
<line x1="354.70" y1="373.00" x2="354.70" y2="374.80" stroke="#333" stroke-width="0.7"/>
<text x="354.70" y="380.60" font-size="6.4" text-anchor="middle" fill="#111" stroke="#111" stroke-width="0.22">12</text>
<line x1="363.90" y1="373.00" x2="363.90" y2="374.80" stroke="#333" stroke-width="0.7"/>
<text x="363.90" y="380.60" font-size="6.4" text-anchor="middle" fill="#111" stroke="#111" stroke-width="0.22">13</text>
<line x1="373.10" y1="373.00" x2="373.10" y2="374.80" stroke="#333" stroke-width="0.7"/>
<text x="373.10" y="380.60" font-size="6.4" text-anchor="middle" fill="#111" stroke="#111" stroke-width="0.22">14</text>
<line x1="382.30" y1="373.00" x2="382.30" y2="374.80" stroke="#333" stroke-width="0.7"/>
<text x="382.30" y="380.60" font-size="6.4" text-anchor="middle" fill="#111" stroke="#111" stroke-width="0.22">15</text>
<line x1="391.50" y1="373.00" x2="391.50" y2="374.80" stroke="#333" stroke-width="0.7"/>
<text x="391.50" y="380.60" font-size="6.4" text-anchor="middle" fill="#111" stroke="#111" stroke-width="0.22">16</text>
<line x1="400.70" y1="373.00" x2="400.70" y2="374.80" stroke="#333" stroke-width="0.7"/>
<text x="400.70" y="380.60" font-size="6.4" text-anchor="middle" fill="#111" stroke="#111" stroke-width="0.22">17</text>
<line x1="409.90" y1="373.00" x2="409.90" y2="374.80" stroke="#333" stroke-width="0.7"/>
<text x="409.90" y="380.60" font-size="6.4" text-anchor="middle" fill="#111" stroke="#111" stroke-width="0.22">18</text>
<line x1="419.10" y1="373.00" x2="419.10" y2="374.80" stroke="#333" stroke-width="0.7"/>
<text x="419.10" y="380.60" font-size="6.4" text-anchor="middle" fill="#111" stroke="#111" stroke-width="0.22">19</text>
<line x1="428.30" y1="373.00" x2="428.30" y2="374.80" stroke="#333" stroke-width="0.7"/>
<text x="428.30" y="380.60" font-size="6.4" text-anchor="middle" fill="#111" stroke="#111" stroke-width="0.22">20</text>
<line x1="437.50" y1="373.00" x2="437.50" y2="374.80" stroke="#333" stroke-width="0.7"/>
<text x="437.50" y="380.60" font-size="6.4" text-anchor="middle" fill="#111" stroke="#111" stroke-width="0.22">21</text>
<line x1="446.70" y1="373.00" x2="446.70" y2="374.80" stroke="#333" stroke-width="0.7"/>
<text x="446.70" y="380.60" font-size="6.4" text-anchor="middle" fill="#111" stroke="#111" stroke-width="0.22">22</text>
<line x1="455.90" y1="373.00" x2="455.90" y2="374.80" stroke="#333" stroke-width="0.7"/>
<text x="455.90" y="380.60" font-size="6.4" text-anchor="middle" fill="#111" stroke="#111" stroke-width="0.22">23</text>
<line x1="465.10" y1="373.00" x2="465.10" y2="374.80" stroke="#333" stroke-width="0.7"/>
<text x="465.10" y="380.60" font-size="6.4" text-anchor="middle" fill="#111" stroke="#111" stroke-width="0.22">24</text>
<line x1="474.30" y1="373.00" x2="474.30" y2="374.80" stroke="#333" stroke-width="0.7"/>
<text x="474.30" y="380.60" font-size="6.4" text-anchor="middle" fill="#111" stroke="#111" stroke-width="0.22">25</text>
<line x1="483.50" y1="373.00" x2="483.50" y2="374.80" stroke="#333" stroke-width="0.7"/>
<text x="483.50" y="380.60" font-size="6.4" text-anchor="middle" fill="#111" stroke="#111" stroke-width="0.22">26</text>
<line x1="492.70" y1="373.00" x2="492.70" y2="374.80" stroke="#333" stroke-width="0.7"/>
<text x="492.70" y="380.60" font-size="6.4" text-anchor="middle" fill="#111" stroke="#111" stroke-width="0.22">27</text>
<line x1="501.90" y1="373.00" x2="501.90" y2="374.80" stroke="#333" stroke-width="0.7"/>
<text x="501.90" y="380.60" font-size="6.4" text-anchor="middle" fill="#D42020" stroke="#D42020" stroke-width="0.22">28</text>
<line x1="511.10" y1="373.00" x2="511.10" y2="374.80" stroke="#333" stroke-width="0.7"/>
<text x="511.10" y="380.60" font-size="6.4" text-anchor="middle" fill="#D42020" stroke="#D42020" stroke-width="0.22">29</text>
<text x="387.60" y="391.20" font-size="12" text-anchor="middle" fill="#111" stroke="#111" stroke-width="0.15">Number of cancers</text>
<text x="224.60" y="336.60" font-size="12" text-anchor="middle" fill="#111" transform="rotate(-90 224.60 336.60)" stroke="#111" stroke-width="0.15">Frequency</text>
<text x="204.20" y="316.60" font-size="18" text-anchor="start" fill="#000" font-weight="bold">E</text>
<defs><radialGradient id="peach" cx="0.5" cy="0.5" r="0.6"><stop offset="0" stop-color="#F7D3A6"/><stop offset="1" stop-color="#FBE6CC"/></radialGradient><radialGradient id="cyanb" cx="0.5" cy="0.5" r="0.6"><stop offset="0" stop-color="#4FD3E6"/><stop offset="1" stop-color="#A8EAF4"/></radialGradient></defs>
<line x1="466.50" y1="355.40" x2="501.80" y2="368.00" stroke="#D42A2A" stroke-width="1.4"/>
<line x1="504.90" y1="345.30" x2="510.90" y2="368.00" stroke="#D42A2A" stroke-width="1.4"/>
<rect x="419.4" y="337.6" width="47.7" height="22.2" rx="10" ry="10" fill="url(#peach)"/>
<rect x="466.5" y="324.1" width="47.0" height="20.2" rx="9.5" ry="9.5" fill="url(#cyanb)"/>
<text x="443.20" y="346.20" font-size="7.0" text-anchor="middle" fill="#111" stroke="#111" stroke-width="0.22">KRAS:TAF1</text>
<text x="443.20" y="354.90" font-size="7.0" text-anchor="middle" fill="#111" stroke="#111" stroke-width="0.22">KRAS:USP10</text>
<text x="490.00" y="332.60" font-size="7.0" text-anchor="middle" fill="#111" stroke="#111" stroke-width="0.22">TP53:ATR</text>
<text x="490.00" y="341.30" font-size="7.0" text-anchor="middle" fill="#111" stroke="#111" stroke-width="0.22">CHEK2:TTN</text>
<line x1="248.50" y1="460.60" x2="515.80" y2="460.60" stroke="#D8D8D8" stroke-width="0.5" stroke-dasharray="1,1.5"/>
<line x1="248.50" y1="452.85" x2="515.80" y2="452.85" stroke="#D8D8D8" stroke-width="0.5" stroke-dasharray="1,1.5"/>
<line x1="248.50" y1="445.10" x2="515.80" y2="445.10" stroke="#D8D8D8" stroke-width="0.5" stroke-dasharray="1,1.5"/>
<line x1="248.50" y1="437.35" x2="515.80" y2="437.35" stroke="#D8D8D8" stroke-width="0.5" stroke-dasharray="1,1.5"/>
<line x1="248.50" y1="429.60" x2="515.80" y2="429.60" stroke="#D8D8D8" stroke-width="0.5" stroke-dasharray="1,1.5"/>
<line x1="248.50" y1="421.85" x2="515.80" y2="421.85" stroke="#D8D8D8" stroke-width="0.5" stroke-dasharray="1,1.5"/>
<line x1="248.50" y1="414.10" x2="515.80" y2="414.10" stroke="#D8D8D8" stroke-width="0.5" stroke-dasharray="1,1.5"/>
<line x1="248.50" y1="406.35" x2="515.80" y2="406.35" stroke="#D8D8D8" stroke-width="0.5" stroke-dasharray="1,1.5"/>
<line x1="248.50" y1="398.60" x2="515.80" y2="398.60" stroke="#D8D8D8" stroke-width="0.5" stroke-dasharray="1,1.5"/>
<line x1="253.80" y1="394.60" x2="253.80" y2="463.40" stroke="#D8D8D8" stroke-width="0.5" stroke-dasharray="1,1.5"/>
<line x1="262.36" y1="394.60" x2="262.36" y2="463.40" stroke="#D8D8D8" stroke-width="0.5" stroke-dasharray="1,1.5"/>
<line x1="270.92" y1="394.60" x2="270.92" y2="463.40" stroke="#D8D8D8" stroke-width="0.5" stroke-dasharray="1,1.5"/>
<line x1="279.48" y1="394.60" x2="279.48" y2="463.40" stroke="#D8D8D8" stroke-width="0.5" stroke-dasharray="1,1.5"/>
<line x1="288.04" y1="394.60" x2="288.04" y2="463.40" stroke="#D8D8D8" stroke-width="0.5" stroke-dasharray="1,1.5"/>
<line x1="296.60" y1="394.60" x2="296.60" y2="463.40" stroke="#D8D8D8" stroke-width="0.5" stroke-dasharray="1,1.5"/>
<line x1="305.16" y1="394.60" x2="305.16" y2="463.40" stroke="#D8D8D8" stroke-width="0.5" stroke-dasharray="1,1.5"/>
<line x1="313.72" y1="394.60" x2="313.72" y2="463.40" stroke="#D8D8D8" stroke-width="0.5" stroke-dasharray="1,1.5"/>
<line x1="322.28" y1="394.60" x2="322.28" y2="463.40" stroke="#D8D8D8" stroke-width="0.5" stroke-dasharray="1,1.5"/>
<line x1="330.84" y1="394.60" x2="330.84" y2="463.40" stroke="#D8D8D8" stroke-width="0.5" stroke-dasharray="1,1.5"/>
<line x1="339.40" y1="394.60" x2="339.40" y2="463.40" stroke="#D8D8D8" stroke-width="0.5" stroke-dasharray="1,1.5"/>
<line x1="347.96" y1="394.60" x2="347.96" y2="463.40" stroke="#D8D8D8" stroke-width="0.5" stroke-dasharray="1,1.5"/>
<line x1="356.52" y1="394.60" x2="356.52" y2="463.40" stroke="#D8D8D8" stroke-width="0.5" stroke-dasharray="1,1.5"/>
<line x1="365.08" y1="394.60" x2="365.08" y2="463.40" stroke="#D8D8D8" stroke-width="0.5" stroke-dasharray="1,1.5"/>
<line x1="373.64" y1="394.60" x2="373.64" y2="463.40" stroke="#D8D8D8" stroke-width="0.5" stroke-dasharray="1,1.5"/>
<line x1="382.20" y1="394.60" x2="382.20" y2="463.40" stroke="#D8D8D8" stroke-width="0.5" stroke-dasharray="1,1.5"/>
<line x1="390.76" y1="394.60" x2="390.76" y2="463.40" stroke="#D8D8D8" stroke-width="0.5" stroke-dasharray="1,1.5"/>
<line x1="399.32" y1="394.60" x2="399.32" y2="463.40" stroke="#D8D8D8" stroke-width="0.5" stroke-dasharray="1,1.5"/>
<line x1="407.88" y1="394.60" x2="407.88" y2="463.40" stroke="#D8D8D8" stroke-width="0.5" stroke-dasharray="1,1.5"/>
<line x1="416.44" y1="394.60" x2="416.44" y2="463.40" stroke="#D8D8D8" stroke-width="0.5" stroke-dasharray="1,1.5"/>
<line x1="425.00" y1="394.60" x2="425.00" y2="463.40" stroke="#D8D8D8" stroke-width="0.5" stroke-dasharray="1,1.5"/>
<line x1="433.56" y1="394.60" x2="433.56" y2="463.40" stroke="#D8D8D8" stroke-width="0.5" stroke-dasharray="1,1.5"/>
<line x1="442.12" y1="394.60" x2="442.12" y2="463.40" stroke="#D8D8D8" stroke-width="0.5" stroke-dasharray="1,1.5"/>
<line x1="450.68" y1="394.60" x2="450.68" y2="463.40" stroke="#D8D8D8" stroke-width="0.5" stroke-dasharray="1,1.5"/>
<line x1="459.24" y1="394.60" x2="459.24" y2="463.40" stroke="#D8D8D8" stroke-width="0.5" stroke-dasharray="1,1.5"/>
<line x1="467.80" y1="394.60" x2="467.80" y2="463.40" stroke="#D8D8D8" stroke-width="0.5" stroke-dasharray="1,1.5"/>
<line x1="476.36" y1="394.60" x2="476.36" y2="463.40" stroke="#D8D8D8" stroke-width="0.5" stroke-dasharray="1,1.5"/>
<line x1="484.92" y1="394.60" x2="484.92" y2="463.40" stroke="#D8D8D8" stroke-width="0.5" stroke-dasharray="1,1.5"/>
<line x1="493.48" y1="394.60" x2="493.48" y2="463.40" stroke="#D8D8D8" stroke-width="0.5" stroke-dasharray="1,1.5"/>
<line x1="502.04" y1="394.60" x2="502.04" y2="463.40" stroke="#D8D8D8" stroke-width="0.5" stroke-dasharray="1,1.5"/>
<line x1="510.60" y1="394.60" x2="510.60" y2="463.40" stroke="#D8D8D8" stroke-width="0.5" stroke-dasharray="1,1.5"/>
<rect x="250.20" y="453.80" width="7.20" height="6.80" fill="#00C08D"/>
<rect x="258.76" y="448.00" width="7.20" height="12.60" fill="#CB9700"/>
<rect x="267.32" y="444.00" width="7.20" height="16.60" fill="#A7A400"/>
<rect x="275.88" y="442.20" width="7.20" height="18.40" fill="#FF62BA"/>
<rect x="284.44" y="442.00" width="7.20" height="18.60" fill="#1EA3FF"/>
<rect x="293.00" y="439.80" width="7.20" height="20.80" fill="#F763E1"/>
<rect x="301.56" y="437.70" width="7.20" height="22.90" fill="#00B825"/>
<rect x="310.12" y="436.20" width="7.20" height="24.40" fill="#74B000"/>
<rect x="318.68" y="431.00" width="7.20" height="29.60" fill="#00B4EF"/>
<rect x="327.24" y="430.00" width="7.20" height="30.60" fill="#90AA00"/>
<rect x="335.80" y="428.80" width="7.20" height="31.80" fill="#FE6E89"/>
<rect x="344.36" y="427.80" width="7.20" height="32.80" fill="#FE61CE"/>
<rect x="352.92" y="427.40" width="7.20" height="33.20" fill="#EA6AF0"/>
<rect x="361.48" y="426.70" width="7.20" height="33.90" fill="#C07FFF"/>
<rect x="370.04" y="426.00" width="7.20" height="34.60" fill="#F8766D"/>
<rect x="378.60" y="426.00" width="7.20" height="34.60" fill="#00C0BA"/>
<rect x="387.16" y="420.50" width="7.20" height="40.10" fill="#00BAE0"/>
<rect x="395.72" y="419.40" width="7.20" height="41.20" fill="#7498FF"/>
<rect x="404.28" y="417.70" width="7.20" height="42.90" fill="#00BE72"/>
<rect x="412.84" y="417.00" width="7.20" height="43.60" fill="#D98F00"/>
<rect x="421.40" y="416.30" width="7.20" height="44.30" fill="#F07F4B"/>
<rect x="429.96" y="416.00" width="7.20" height="44.60" fill="#4CB400"/>
<rect x="438.52" y="415.60" width="7.20" height="45.00" fill="#00BECE"/>
<rect x="447.08" y="414.90" width="7.20" height="45.70" fill="#E58709"/>
<rect x="455.64" y="413.10" width="7.20" height="47.50" fill="#00BC53"/>
<rect x="464.20" y="410.40" width="7.20" height="50.20" fill="#BA9E00"/>
<rect x="472.76" y="406.20" width="7.20" height="54.40" fill="#A08CFF"/>
<rect x="481.32" y="404.80" width="7.20" height="55.80" fill="#00C1A5"/>
<rect x="489.88" y="403.30" width="7.20" height="57.30" fill="#D873FC"/>
<rect x="498.44" y="401.30" width="7.20" height="59.30" fill="#FF67A3"/>
<rect x="507.00" y="398.30" width="7.20" height="62.30" fill="#00ADFB"/>
<rect x="248.50" y="394.60" width="267.30" height="68.80" fill="none" stroke="#333" stroke-width="1.1"/>
<line x1="246.90" y1="460.60" x2="248.50" y2="460.60" stroke="#333" stroke-width="0.8"/>
<text x="246.80" y="463.00" font-size="6.8" text-anchor="end" fill="#111" stroke="#111" stroke-width="0.22">0</text>
<line x1="246.90" y1="445.10" x2="248.50" y2="445.10" stroke="#333" stroke-width="0.8"/>
<text x="246.80" y="447.50" font-size="6.8" text-anchor="end" fill="#111" stroke="#111" stroke-width="0.22">20000</text>
<line x1="246.90" y1="429.60" x2="248.50" y2="429.60" stroke="#333" stroke-width="0.8"/>
<text x="246.80" y="432.00" font-size="6.8" text-anchor="end" fill="#111" stroke="#111" stroke-width="0.22">40000</text>
<line x1="246.90" y1="414.10" x2="248.50" y2="414.10" stroke="#333" stroke-width="0.8"/>
<text x="246.80" y="416.50" font-size="6.8" text-anchor="end" fill="#111" stroke="#111" stroke-width="0.22">60000</text>
<line x1="246.90" y1="398.60" x2="248.50" y2="398.60" stroke="#333" stroke-width="0.8"/>
<text x="246.80" y="401.00" font-size="6.8" text-anchor="end" fill="#111" stroke="#111" stroke-width="0.22">80000</text>
<line x1="253.80" y1="463.40" x2="253.80" y2="465.20" stroke="#333" stroke-width="0.7"/>
<text x="256.40" y="468.00" font-size="6.9" text-anchor="end" fill="#111" transform="rotate(-45 256.40 468.00)" stroke="#111" stroke-width="0.22">LAML</text>
<line x1="262.36" y1="463.40" x2="262.36" y2="465.20" stroke="#333" stroke-width="0.7"/>
<text x="264.96" y="468.00" font-size="6.9" text-anchor="end" fill="#111" transform="rotate(-45 264.96 468.00)" stroke="#111" stroke-width="0.22">CHOL</text>
<line x1="270.92" y1="463.40" x2="270.92" y2="465.20" stroke="#333" stroke-width="0.7"/>
<text x="273.52" y="468.00" font-size="6.9" text-anchor="end" fill="#111" transform="rotate(-45 273.52 468.00)" stroke="#111" stroke-width="0.22">DLBC</text>
<line x1="279.48" y1="463.40" x2="279.48" y2="465.20" stroke="#333" stroke-width="0.7"/>
<text x="282.08" y="468.00" font-size="6.9" text-anchor="end" fill="#111" transform="rotate(-45 282.08 468.00)" stroke="#111" stroke-width="0.22">THYM</text>
<line x1="288.04" y1="463.40" x2="288.04" y2="465.20" stroke="#333" stroke-width="0.7"/>
<text x="290.64" y="468.00" font-size="6.9" text-anchor="end" fill="#111" transform="rotate(-45 290.64 468.00)" stroke="#111" stroke-width="0.22">PCPG</text>
<line x1="296.60" y1="463.40" x2="296.60" y2="465.20" stroke="#333" stroke-width="0.7"/>
<text x="299.20" y="468.00" font-size="6.9" text-anchor="end" fill="#111" transform="rotate(-45 299.20 468.00)" stroke="#111" stroke-width="0.22">TGCT</text>
<line x1="305.16" y1="463.40" x2="305.16" y2="465.20" stroke="#333" stroke-width="0.7"/>
<text x="307.76" y="468.00" font-size="6.9" text-anchor="end" fill="#111" transform="rotate(-45 307.76 468.00)" stroke="#111" stroke-width="0.22">KICH</text>
<line x1="313.72" y1="463.40" x2="313.72" y2="465.20" stroke="#333" stroke-width="0.7"/>
<text x="316.32" y="468.00" font-size="6.9" text-anchor="end" fill="#111" transform="rotate(-45 316.32 468.00)" stroke="#111" stroke-width="0.22">GBM</text>
<line x1="322.28" y1="463.40" x2="322.28" y2="465.20" stroke="#333" stroke-width="0.7"/>
<text x="324.88" y="468.00" font-size="6.9" text-anchor="end" fill="#111" transform="rotate(-45 324.88 468.00)" stroke="#111" stroke-width="0.22">OV</text>
<line x1="330.84" y1="463.40" x2="330.84" y2="465.20" stroke="#333" stroke-width="0.7"/>
<text x="333.44" y="468.00" font-size="6.9" text-anchor="end" fill="#111" transform="rotate(-45 333.44 468.00)" stroke="#111" stroke-width="0.22">ESCA</text>
<line x1="339.40" y1="463.40" x2="339.40" y2="465.20" stroke="#333" stroke-width="0.7"/>
<text x="342.00" y="468.00" font-size="6.9" text-anchor="end" fill="#111" transform="rotate(-45 342.00 468.00)" stroke="#111" stroke-width="0.22">UCS</text>
<line x1="347.96" y1="463.40" x2="347.96" y2="465.20" stroke="#333" stroke-width="0.7"/>
<text x="350.56" y="468.00" font-size="6.9" text-anchor="end" fill="#111" transform="rotate(-45 350.56 468.00)" stroke="#111" stroke-width="0.22">THCA</text>
<line x1="356.52" y1="463.40" x2="356.52" y2="465.20" stroke="#333" stroke-width="0.7"/>
<text x="359.12" y="468.00" font-size="6.9" text-anchor="end" fill="#111" transform="rotate(-45 359.12 468.00)" stroke="#111" stroke-width="0.22">STAD</text>
<line x1="365.08" y1="463.40" x2="365.08" y2="465.20" stroke="#333" stroke-width="0.7"/>
<text x="367.68" y="468.00" font-size="6.9" text-anchor="end" fill="#111" transform="rotate(-45 367.68 468.00)" stroke="#111" stroke-width="0.22">SARC</text>
<line x1="373.64" y1="463.40" x2="373.64" y2="465.20" stroke="#333" stroke-width="0.7"/>
<text x="376.24" y="468.00" font-size="6.9" text-anchor="end" fill="#111" transform="rotate(-45 376.24 468.00)" stroke="#111" stroke-width="0.22">ACC</text>
<line x1="382.20" y1="463.40" x2="382.20" y2="465.20" stroke="#333" stroke-width="0.7"/>
<text x="384.80" y="468.00" font-size="6.9" text-anchor="end" fill="#111" transform="rotate(-45 384.80 468.00)" stroke="#111" stroke-width="0.22">LIHC</text>
<line x1="390.76" y1="463.40" x2="390.76" y2="465.20" stroke="#333" stroke-width="0.7"/>
<text x="393.36" y="468.00" font-size="6.9" text-anchor="end" fill="#111" transform="rotate(-45 393.36 468.00)" stroke="#111" stroke-width="0.22">LUSC</text>
<line x1="399.32" y1="463.40" x2="399.32" y2="465.20" stroke="#333" stroke-width="0.7"/>
<text x="401.92" y="468.00" font-size="6.9" text-anchor="end" fill="#111" transform="rotate(-45 401.92 468.00)" stroke="#111" stroke-width="0.22">PRAD</text>
<line x1="407.88" y1="463.40" x2="407.88" y2="465.20" stroke="#333" stroke-width="0.7"/>
<text x="410.48" y="468.00" font-size="6.9" text-anchor="end" fill="#111" transform="rotate(-45 410.48 468.00)" stroke="#111" stroke-width="0.22">KIRP</text>
<line x1="416.44" y1="463.40" x2="416.44" y2="465.20" stroke="#333" stroke-width="0.7"/>
<text x="419.04" y="468.00" font-size="6.9" text-anchor="end" fill="#111" transform="rotate(-45 419.04 468.00)" stroke="#111" stroke-width="0.22">CESC</text>
<line x1="425.00" y1="463.40" x2="425.00" y2="465.20" stroke="#333" stroke-width="0.7"/>
<text x="427.60" y="468.00" font-size="6.9" text-anchor="end" fill="#111" transform="rotate(-45 427.60 468.00)" stroke="#111" stroke-width="0.22">BLCA</text>
<line x1="433.56" y1="463.40" x2="433.56" y2="465.20" stroke="#333" stroke-width="0.7"/>
<text x="436.16" y="468.00" font-size="6.9" text-anchor="end" fill="#111" transform="rotate(-45 436.16 468.00)" stroke="#111" stroke-width="0.22">HNSC</text>
<line x1="442.12" y1="463.40" x2="442.12" y2="465.20" stroke="#333" stroke-width="0.7"/>
<text x="444.72" y="468.00" font-size="6.9" text-anchor="end" fill="#111" transform="rotate(-45 444.72 468.00)" stroke="#111" stroke-width="0.22">LUAD</text>
<line x1="450.68" y1="463.40" x2="450.68" y2="465.20" stroke="#333" stroke-width="0.7"/>
<text x="453.28" y="468.00" font-size="6.9" text-anchor="end" fill="#111" transform="rotate(-45 453.28 468.00)" stroke="#111" stroke-width="0.22">BRCA</text>
<line x1="459.24" y1="463.40" x2="459.24" y2="465.20" stroke="#333" stroke-width="0.7"/>
<text x="461.84" y="468.00" font-size="6.9" text-anchor="end" fill="#111" transform="rotate(-45 461.84 468.00)" stroke="#111" stroke-width="0.22">KIRC</text>
<line x1="467.80" y1="463.40" x2="467.80" y2="465.20" stroke="#333" stroke-width="0.7"/>
<text x="470.40" y="468.00" font-size="6.9" text-anchor="end" fill="#111" transform="rotate(-45 470.40 468.00)" stroke="#111" stroke-width="0.22">COAD</text>
<line x1="476.36" y1="463.40" x2="476.36" y2="465.20" stroke="#333" stroke-width="0.7"/>
<text x="478.96" y="468.00" font-size="6.9" text-anchor="end" fill="#111" transform="rotate(-45 478.96 468.00)" stroke="#111" stroke-width="0.22">READ</text>
<line x1="484.92" y1="463.40" x2="484.92" y2="465.20" stroke="#333" stroke-width="0.7"/>
<text x="487.52" y="468.00" font-size="6.9" text-anchor="end" fill="#111" transform="rotate(-45 487.52 468.00)" stroke="#111" stroke-width="0.22">LGG</text>
<line x1="493.48" y1="463.40" x2="493.48" y2="465.20" stroke="#333" stroke-width="0.7"/>
<text x="496.08" y="468.00" font-size="6.9" text-anchor="end" fill="#111" transform="rotate(-45 496.08 468.00)" stroke="#111" stroke-width="0.22">SKCM</text>
<line x1="502.04" y1="463.40" x2="502.04" y2="465.20" stroke="#333" stroke-width="0.7"/>
<text x="504.64" y="468.00" font-size="6.9" text-anchor="end" fill="#111" transform="rotate(-45 504.64 468.00)" stroke="#111" stroke-width="0.22">UCEC</text>
<line x1="510.60" y1="463.40" x2="510.60" y2="465.20" stroke="#333" stroke-width="0.7"/>
<text x="513.20" y="468.00" font-size="6.9" text-anchor="end" fill="#111" transform="rotate(-45 513.20 468.00)" stroke="#111" stroke-width="0.22">PAAD</text>
<text x="385.00" y="491.00" font-size="12" text-anchor="middle" fill="#111" stroke="#111" stroke-width="0.15">Cancer type</text>
<text x="224.80" y="424.40" font-size="12" text-anchor="middle" fill="#111" transform="rotate(-90 224.80 424.40)" stroke="#111" stroke-width="0.15">Count</text>
<text x="1.90" y="520.80" font-size="18" text-anchor="start" fill="#000" font-weight="bold">F</text>
<defs><linearGradient id="legg" x1="0" x2="1" y1="0" y2="0"><stop offset="0" stop-color="#6FD3E3"/><stop offset="0.55" stop-color="#B5EAF2"/><stop offset="1" stop-color="#F2FBFD"/></linearGradient></defs>
<rect x="163.6" y="516.1" width="72.6" height="51.0" rx="6.5" ry="6.5" fill="url(#legg)" stroke="#CD8466" stroke-width="1.1"/>
<circle cx="177.0" cy="526.0" r="5.1" fill="#33E433"/>
<text x="183.10" y="528.40" font-size="6.9" text-anchor="start" fill="#111" stroke="#111" stroke-width="0.22">normal</text>
<circle cx="177.0" cy="540.6" r="5.1" fill="#1010E0"/>
<text x="183.10" y="543.00" font-size="6.9" text-anchor="start" fill="#111" stroke="#111" stroke-width="0.22">down-regulated</text>
<circle cx="177.0" cy="556.4" r="5.1" fill="#EE1111"/>
<text x="183.10" y="558.80" font-size="6.9" text-anchor="start" fill="#111" stroke="#111" stroke-width="0.22">up-regulated</text>
<path d="M122.0,611.2 Q97.6,588.0 88.8,555.5" fill="none" stroke="#9A9A9A" stroke-width="0.9"/>
<line x1="122.00" y1="611.20" x2="122.25" y2="554.50" stroke="#9A9A9A" stroke-width="0.9"/>
<path d="M122.0,611.2 Q99.8,583.2 65.5,573.2" fill="none" stroke="#9A9A9A" stroke-width="0.9"/>
<line x1="122.00" y1="611.20" x2="58.75" y2="603.50" stroke="#9A9A9A" stroke-width="0.9"/>
<line x1="122.00" y1="611.20" x2="68.75" y2="633.75" stroke="#9A9A9A" stroke-width="0.9"/>
<line x1="122.00" y1="611.20" x2="159.25" y2="581.25" stroke="#9A9A9A" stroke-width="0.9"/>
<line x1="122.00" y1="611.20" x2="101.40" y2="674.30" stroke="#9A9A9A" stroke-width="0.9"/>
<line x1="122.00" y1="611.20" x2="165.75" y2="652.00" stroke="#9A9A9A" stroke-width="0.9"/>
<line x1="101.40" y1="674.30" x2="83.75" y2="733.25" stroke="#9A9A9A" stroke-width="0.9"/>
<path d="M83.8,733.2 Q60.6,715.7 50.0,688.8" fill="none" stroke="#9A9A9A" stroke-width="0.9"/>
<path d="M83.8,733.2 Q56.4,715.0 23.8,711.2" fill="none" stroke="#9A9A9A" stroke-width="0.9"/>
<line x1="83.75" y1="733.25" x2="20.00" y2="742.50" stroke="#9A9A9A" stroke-width="0.9"/>
<line x1="83.75" y1="733.25" x2="37.50" y2="775.00" stroke="#9A9A9A" stroke-width="0.9"/>
<line x1="83.75" y1="733.25" x2="76.25" y2="798.00" stroke="#9A9A9A" stroke-width="0.9"/>
<line x1="83.75" y1="733.25" x2="117.25" y2="780.75" stroke="#9A9A9A" stroke-width="0.9"/>
<path d="M83.8,733.2 C117.5,733.2 125.0,715.5 158.8,715.5" fill="none" stroke="#9A9A9A" stroke-width="0.9"/>
<path d="M83.8,733.2 C118.4,733.2 126.1,744.5 160.8,744.5" fill="none" stroke="#9A9A9A" stroke-width="0.9"/>
<line x1="165.75" y1="652.00" x2="252.00" y2="720.50" stroke="#9A9A9A" stroke-width="0.9"/>
<line x1="204.50" y1="654.50" x2="237.50" y2="601.75" stroke="#9A9A9A" stroke-width="0.9"/>
<line x1="204.50" y1="654.50" x2="252.00" y2="720.50" stroke="#9A9A9A" stroke-width="0.9"/>
<line x1="237.50" y1="601.75" x2="250.00" y2="562.00" stroke="#9A9A9A" stroke-width="0.9"/>
<line x1="250.00" y1="562.00" x2="365.50" y2="581.25" stroke="#9A9A9A" stroke-width="0.9"/>
<line x1="199.50" y1="699.25" x2="252.00" y2="720.50" stroke="#9A9A9A" stroke-width="0.9"/>
<line x1="158.75" y1="715.50" x2="252.00" y2="720.50" stroke="#9A9A9A" stroke-width="0.9"/>
<line x1="160.75" y1="744.50" x2="198.75" y2="733.75" stroke="#9A9A9A" stroke-width="0.9"/>
<line x1="198.75" y1="733.75" x2="252.00" y2="720.50" stroke="#9A9A9A" stroke-width="0.9"/>
<line x1="158.75" y1="715.50" x2="198.75" y2="733.75" stroke="#9A9A9A" stroke-width="0.9"/>
<path d="M182.5,772.5 Q208.9,735.4 252.0,720.5" fill="none" stroke="#9A9A9A" stroke-width="0.9"/>
<line x1="217.25" y1="757.00" x2="252.00" y2="720.50" stroke="#9A9A9A" stroke-width="0.9"/>
<line x1="220.60" y1="799.00" x2="252.00" y2="720.50" stroke="#9A9A9A" stroke-width="0.9"/>
<line x1="252.00" y1="778.25" x2="252.00" y2="720.50" stroke="#9A9A9A" stroke-width="0.9"/>
<line x1="236.25" y1="673.00" x2="252.00" y2="720.50" stroke="#9A9A9A" stroke-width="0.9"/>
<line x1="236.25" y1="673.00" x2="320.50" y2="647.75" stroke="#9A9A9A" stroke-width="0.9"/>
<line x1="252.00" y1="720.50" x2="292.50" y2="701.25" stroke="#9A9A9A" stroke-width="0.9"/>
<line x1="252.00" y1="720.50" x2="320.75" y2="720.50" stroke="#9A9A9A" stroke-width="0.9"/>
<line x1="252.00" y1="720.50" x2="363.75" y2="710.60" stroke="#9A9A9A" stroke-width="0.9"/>
<line x1="252.00" y1="720.50" x2="279.50" y2="678.75" stroke="#9A9A9A" stroke-width="0.9"/>
<line x1="252.00" y1="720.50" x2="265.50" y2="650.00" stroke="#9A9A9A" stroke-width="0.9"/>
<path d="M252.0,720.5 Q280.4,678.6 320.5,647.8" fill="none" stroke="#9A9A9A" stroke-width="0.9"/>
<line x1="252.00" y1="720.50" x2="280.50" y2="759.25" stroke="#9A9A9A" stroke-width="0.9"/>
<line x1="252.00" y1="720.50" x2="337.50" y2="745.00" stroke="#9A9A9A" stroke-width="0.9"/>
<line x1="252.00" y1="720.50" x2="288.25" y2="624.50" stroke="#9A9A9A" stroke-width="0.9"/>
<path d="M252.0,720.5 Q325.4,710.2 394.3,682.9" fill="none" stroke="#9A9A9A" stroke-width="0.9"/>
<line x1="280.50" y1="759.25" x2="328.75" y2="784.25" stroke="#9A9A9A" stroke-width="0.9"/>
<line x1="280.50" y1="759.25" x2="301.25" y2="808.25" stroke="#9A9A9A" stroke-width="0.9"/>
<line x1="301.25" y1="808.25" x2="366.80" y2="810.30" stroke="#9A9A9A" stroke-width="0.9"/>
<line x1="366.80" y1="810.30" x2="425.30" y2="813.20" stroke="#9A9A9A" stroke-width="0.9"/>
<line x1="328.75" y1="784.25" x2="392.50" y2="783.75" stroke="#9A9A9A" stroke-width="0.9"/>
<line x1="392.50" y1="783.75" x2="446.20" y2="783.80" stroke="#9A9A9A" stroke-width="0.9"/>
<line x1="337.50" y1="745.00" x2="366.80" y2="810.30" stroke="#9A9A9A" stroke-width="0.9"/>
<line x1="386.25" y1="757.00" x2="366.80" y2="810.30" stroke="#9A9A9A" stroke-width="0.9"/>
<line x1="337.50" y1="745.00" x2="363.75" y2="710.60" stroke="#9A9A9A" stroke-width="0.9"/>
<line x1="320.75" y1="720.50" x2="363.75" y2="710.60" stroke="#9A9A9A" stroke-width="0.9"/>
<line x1="363.75" y1="710.60" x2="394.30" y2="682.90" stroke="#9A9A9A" stroke-width="0.9"/>
<line x1="386.25" y1="757.00" x2="394.30" y2="682.90" stroke="#9A9A9A" stroke-width="0.9"/>
<line x1="417.60" y1="738.20" x2="394.30" y2="682.90" stroke="#9A9A9A" stroke-width="0.9"/>
<line x1="446.80" y1="728.80" x2="394.30" y2="682.90" stroke="#9A9A9A" stroke-width="0.9"/>
<line x1="461.90" y1="708.30" x2="394.30" y2="682.90" stroke="#9A9A9A" stroke-width="0.9"/>
<line x1="456.80" y1="682.30" x2="394.30" y2="682.90" stroke="#9A9A9A" stroke-width="0.9"/>
<line x1="499.60" y1="691.80" x2="479.60" y2="614.30" stroke="#9A9A9A" stroke-width="0.9"/>
<line x1="456.80" y1="682.30" x2="479.60" y2="614.30" stroke="#9A9A9A" stroke-width="0.9"/>
<line x1="461.90" y1="708.30" x2="479.60" y2="614.30" stroke="#9A9A9A" stroke-width="0.9"/>
<line x1="496.50" y1="654.70" x2="479.60" y2="614.30" stroke="#9A9A9A" stroke-width="0.9"/>
<path d="M496.5,654.7 Q443.7,662.7 394.3,682.9" fill="none" stroke="#9A9A9A" stroke-width="0.9"/>
<line x1="444.30" y1="651.20" x2="479.60" y2="614.30" stroke="#9A9A9A" stroke-width="0.9"/>
<line x1="444.30" y1="651.20" x2="394.30" y2="682.90" stroke="#9A9A9A" stroke-width="0.9"/>
<line x1="432.40" y1="629.80" x2="479.60" y2="614.30" stroke="#9A9A9A" stroke-width="0.9"/>
<path d="M432.4,629.8 Q409.1,653.3 394.3,682.9" fill="none" stroke="#9A9A9A" stroke-width="0.9"/>
<line x1="416.75" y1="610.25" x2="479.60" y2="614.30" stroke="#9A9A9A" stroke-width="0.9"/>
<path d="M416.8,610.2 Q399.7,644.8 394.3,682.9" fill="none" stroke="#9A9A9A" stroke-width="0.9"/>
<line x1="392.50" y1="622.00" x2="394.30" y2="682.90" stroke="#9A9A9A" stroke-width="0.9"/>
<line x1="392.50" y1="622.00" x2="365.50" y2="581.25" stroke="#9A9A9A" stroke-width="0.9"/>
<line x1="370.75" y1="644.50" x2="394.30" y2="682.90" stroke="#9A9A9A" stroke-width="0.9"/>
<line x1="370.75" y1="644.50" x2="320.50" y2="647.75" stroke="#9A9A9A" stroke-width="0.9"/>
<line x1="330.75" y1="684.50" x2="394.30" y2="682.90" stroke="#9A9A9A" stroke-width="0.9"/>
<line x1="320.50" y1="647.75" x2="394.30" y2="682.90" stroke="#9A9A9A" stroke-width="0.9"/>
<line x1="365.50" y1="581.25" x2="394.30" y2="682.90" stroke="#9A9A9A" stroke-width="0.9"/>
<line x1="365.50" y1="581.25" x2="334.50" y2="606.25" stroke="#9A9A9A" stroke-width="0.9"/>
<line x1="365.50" y1="581.25" x2="320.50" y2="647.75" stroke="#9A9A9A" stroke-width="0.9"/>
<line x1="365.50" y1="581.25" x2="434.90" y2="581.70" stroke="#9A9A9A" stroke-width="0.9"/>
<line x1="434.90" y1="581.70" x2="470.40" y2="543.40" stroke="#9A9A9A" stroke-width="0.9"/>
<path d="M434.9,581.7 Q453.3,603.4 479.6,614.3" fill="none" stroke="#9A9A9A" stroke-width="0.9"/>
<line x1="365.50" y1="581.25" x2="363.25" y2="528.75" stroke="#9A9A9A" stroke-width="0.9"/>
<line x1="365.50" y1="581.25" x2="407.00" y2="543.00" stroke="#9A9A9A" stroke-width="0.9"/>
<line x1="365.50" y1="581.25" x2="324.50" y2="549.75" stroke="#9A9A9A" stroke-width="0.9"/>
<line x1="324.50" y1="549.75" x2="278.75" y2="519.25" stroke="#9A9A9A" stroke-width="0.9"/>
<line x1="295.75" y1="592.00" x2="365.50" y2="581.25" stroke="#9A9A9A" stroke-width="0.9"/>
<line x1="295.75" y1="592.00" x2="320.50" y2="647.75" stroke="#9A9A9A" stroke-width="0.9"/>
<line x1="288.25" y1="624.50" x2="365.50" y2="581.25" stroke="#9A9A9A" stroke-width="0.9"/>
<line x1="288.25" y1="624.50" x2="320.50" y2="647.75" stroke="#9A9A9A" stroke-width="0.9"/>
<line x1="334.50" y1="606.25" x2="320.50" y2="647.75" stroke="#9A9A9A" stroke-width="0.9"/>
<line x1="265.50" y1="650.00" x2="320.50" y2="647.75" stroke="#9A9A9A" stroke-width="0.9"/>
<line x1="279.50" y1="678.75" x2="320.50" y2="647.75" stroke="#9A9A9A" stroke-width="0.9"/>
<path d="M320.5,647.8 Q300.1,671.1 292.5,701.2" fill="none" stroke="#9A9A9A" stroke-width="0.9"/>
<line x1="252.00" y1="720.50" x2="330.75" y2="684.50" stroke="#9A9A9A" stroke-width="0.9"/>
<line x1="292.50" y1="701.25" x2="394.30" y2="682.90" stroke="#9A9A9A" stroke-width="0.9"/>
<line x1="456.80" y1="682.30" x2="499.60" y2="691.80" stroke="#9A9A9A" stroke-width="0.9"/>
<line x1="456.80" y1="682.30" x2="461.90" y2="708.30" stroke="#9A9A9A" stroke-width="0.9"/>
<circle cx="88.75" cy="555.5" r="10.5" fill="#CDF5CD"/>
<path d="M88.75,555.50 L93.19,545.98 A10.50,10.50 0 0 1 99.25,555.50 Z" fill="#0000E6" stroke="#FFFFFF" stroke-width="0.5"/>
<circle cx="88.75" cy="555.5" r="10.5" fill="none" stroke="#6A1F6A" stroke-width="1.75"/>
<text x="88.55" y="557.55" font-size="5.75" text-anchor="middle" fill="#111" stroke="#111" stroke-width="0.22">CRISPLD2</text>
<circle cx="122.25" cy="554.5" r="10.5" fill="#CDF5CD"/>
<circle cx="122.25" cy="554.5" r="10.5" fill="none" stroke="#6A1F6A" stroke-width="1.75"/>
<text x="122.05" y="556.55" font-size="5.75" text-anchor="middle" fill="#111" stroke="#111" stroke-width="0.22">GLG1</text>
<circle cx="65.5" cy="573.25" r="10.5" fill="#CDF5CD"/>
<circle cx="65.5" cy="573.25" r="10.5" fill="none" stroke="#6A1F6A" stroke-width="1.75"/>
<text x="65.30" y="575.30" font-size="5.75" text-anchor="middle" fill="#111" stroke="#111" stroke-width="0.22">MON1B</text>
<circle cx="58.75" cy="603.5" r="10.5" fill="#CDF5CD"/>
<circle cx="58.75" cy="603.5" r="10.5" fill="none" stroke="#6A1F6A" stroke-width="1.75"/>
<text x="58.55" y="605.55" font-size="5.75" text-anchor="middle" fill="#111" stroke="#111" stroke-width="0.22">WWP2</text>
<circle cx="159.25" cy="581.25" r="10.5" fill="#CDF5CD"/>
<circle cx="159.25" cy="581.25" r="10.5" fill="none" stroke="#6A1F6A" stroke-width="1.75"/>
<text x="159.05" y="583.30" font-size="5.75" text-anchor="middle" fill="#111" stroke="#111" stroke-width="0.22">PSMD7</text>
<circle cx="122.0" cy="611.2" r="10.5" fill="#CDF5CD"/>
<path d="M122.00,611.20 L132.50,611.20 A10.50,10.50 0 0 1 130.49,617.37 Z" fill="#FF0000" stroke="#FFFFFF" stroke-width="0.5"/>
<circle cx="122.0" cy="611.2" r="10.5" fill="none" stroke="#6A1F6A" stroke-width="1.75"/>
<text x="121.80" y="613.25" font-size="5.75" text-anchor="middle" fill="#111" stroke="#111" stroke-width="0.22">PARP10</text>
<circle cx="68.75" cy="633.75" r="10.5" fill="#CDF5CD"/>
<path d="M68.75,633.75 L79.25,633.75 A10.50,10.50 0 1 1 64.31,624.23 Z" fill="#FF0000" stroke="#FFFFFF" stroke-width="0.5"/>
<circle cx="68.75" cy="633.75" r="10.5" fill="none" stroke="#6A1F6A" stroke-width="1.75"/>
<text x="68.55" y="635.80" font-size="5.75" text-anchor="middle" fill="#111" stroke="#111" stroke-width="0.22">GINS2</text>
<circle cx="165.75" cy="652.0" r="10.5" fill="#CDF5CD"/>
<circle cx="165.75" cy="652.0" r="10.5" fill="none" stroke="#6A1F6A" stroke-width="1.75"/>
<text x="165.55" y="654.05" font-size="5.75" text-anchor="middle" fill="#111" stroke="#111" stroke-width="0.22">DHX38</text>
<circle cx="101.4" cy="674.3" r="10.5" fill="#CDF5CD"/>
<circle cx="101.4" cy="674.3" r="10.5" fill="none" stroke="#6A1F6A" stroke-width="1.75"/>
<text x="101.20" y="676.35" font-size="5.75" text-anchor="middle" fill="#111" stroke="#111" stroke-width="0.22">VAC14</text>
<circle cx="50.0" cy="688.75" r="10.5" fill="#CDF5CD"/>
<path d="M50.00,688.75 L60.14,686.03 A10.50,10.50 0 0 1 60.50,688.75 Z" fill="#0000E6" stroke="#FFFFFF" stroke-width="0.5"/>
<circle cx="50.0" cy="688.75" r="10.5" fill="none" stroke="#6A1F6A" stroke-width="1.75"/>
<text x="49.80" y="690.80" font-size="5.75" text-anchor="middle" fill="#111" stroke="#111" stroke-width="0.22">TERF2IP</text>
<circle cx="23.75" cy="711.25" r="10.5" fill="#CDF5CD"/>
<circle cx="23.75" cy="711.25" r="10.5" fill="none" stroke="#6A1F6A" stroke-width="1.75"/>
<text x="23.55" y="713.30" font-size="5.75" text-anchor="middle" fill="#111" stroke="#111" stroke-width="0.22">NSA2</text>
<circle cx="83.75" cy="733.25" r="10.5" fill="#CDF5CD"/>
<path d="M83.75,733.25 L94.25,733.25 A10.50,10.50 0 0 1 94.09,735.07 Z" fill="#FF0000" stroke="#FFFFFF" stroke-width="0.5"/>
<circle cx="83.75" cy="733.25" r="10.5" fill="none" stroke="#6A1F6A" stroke-width="1.75"/>
<text x="83.55" y="735.30" font-size="5.75" text-anchor="middle" fill="#111" stroke="#111" stroke-width="0.22">PARP9</text>
<circle cx="20.0" cy="742.5" r="10.5" fill="#CDF5CD"/>
<circle cx="20.0" cy="742.5" r="10.5" fill="none" stroke="#6A1F6A" stroke-width="1.75"/>
<text x="19.80" y="744.55" font-size="5.75" text-anchor="middle" fill="#111" stroke="#111" stroke-width="0.22">CTU2</text>
<circle cx="37.5" cy="775.0" r="10.5" fill="#CDF5CD"/>
<circle cx="37.5" cy="775.0" r="10.5" fill="none" stroke="#6A1F6A" stroke-width="1.75"/>
<text x="37.30" y="777.05" font-size="5.75" text-anchor="middle" fill="#111" stroke="#111" stroke-width="0.22">COX4I1</text>
<circle cx="76.25" cy="798.0" r="10.5" fill="#CDF5CD"/>
<circle cx="76.25" cy="798.0" r="10.5" fill="none" stroke="#6A1F6A" stroke-width="1.75"/>
<text x="76.05" y="800.05" font-size="5.75" text-anchor="middle" fill="#111" stroke="#111" stroke-width="0.22">MAP1LC3B</text>
<circle cx="117.25" cy="780.75" r="10.5" fill="#CDF5CD"/>
<circle cx="117.25" cy="780.75" r="10.5" fill="none" stroke="#6A1F6A" stroke-width="1.75"/>
<text x="117.05" y="782.80" font-size="5.75" text-anchor="middle" fill="#111" stroke="#111" stroke-width="0.22">STK10</text>
<circle cx="158.75" cy="715.5" r="10.5" fill="#CDF5CD"/>
<path d="M158.75,715.50 L167.84,710.25 A10.50,10.50 0 0 1 169.25,715.50 Z" fill="#0000E6" stroke="#FFFFFF" stroke-width="0.5"/>
<circle cx="158.75" cy="715.5" r="10.5" fill="none" stroke="#6A1F6A" stroke-width="1.75"/>
<text x="158.55" y="717.55" font-size="5.75" text-anchor="middle" fill="#111" stroke="#111" stroke-width="0.22">GOT2</text>
<circle cx="160.75" cy="744.5" r="10.5" fill="#CDF5CD"/>
<path d="M160.75,744.50 L171.25,744.50 A10.50,10.50 0 0 1 171.09,746.32 Z" fill="#FF0000" stroke="#FFFFFF" stroke-width="0.5"/>
<circle cx="160.75" cy="744.5" r="10.5" fill="none" stroke="#6A1F6A" stroke-width="1.75"/>
<text x="160.55" y="746.55" font-size="5.75" text-anchor="middle" fill="#111" stroke="#111" stroke-width="0.22">ANXA5</text>
<circle cx="198.75" cy="733.75" r="10.5" fill="#CDF5CD"/>
<circle cx="198.75" cy="733.75" r="10.5" fill="none" stroke="#6A1F6A" stroke-width="1.75"/>
<text x="198.55" y="735.80" font-size="5.75" text-anchor="middle" fill="#111" stroke="#111" stroke-width="0.22">DDX10</text>
<circle cx="217.25" cy="757.0" r="10.5" fill="#CDF5CD"/>
<circle cx="217.25" cy="757.0" r="10.5" fill="none" stroke="#6A1F6A" stroke-width="1.75"/>
<text x="217.05" y="759.05" font-size="5.75" text-anchor="middle" fill="#111" stroke="#111" stroke-width="0.22">CREBBP</text>
<circle cx="182.5" cy="772.5" r="10.5" fill="#CDF5CD"/>
<path d="M182.50,772.50 L187.75,763.41 A10.50,10.50 0 0 1 193.00,772.50 Z" fill="#0000E6" stroke="#FFFFFF" stroke-width="0.5"/>
<circle cx="182.5" cy="772.5" r="10.5" fill="none" stroke="#6A1F6A" stroke-width="1.75"/>
<text x="182.30" y="774.55" font-size="5.75" text-anchor="middle" fill="#111" stroke="#111" stroke-width="0.22">FLT1</text>
<circle cx="220.6" cy="799.0" r="10.5" fill="#CDF5CD"/>
<path d="M220.60,799.00 L230.74,796.28 A10.50,10.50 0 0 1 231.10,799.00 Z" fill="#0000E6" stroke="#FFFFFF" stroke-width="0.5"/>
<circle cx="220.6" cy="799.0" r="10.5" fill="none" stroke="#6A1F6A" stroke-width="1.75"/>
<text x="220.40" y="801.05" font-size="5.75" text-anchor="middle" fill="#111" stroke="#111" stroke-width="0.22">FHIT</text>
<circle cx="199.5" cy="699.25" r="10.5" fill="#CDF5CD"/>
<circle cx="199.5" cy="699.25" r="10.5" fill="none" stroke="#6A1F6A" stroke-width="1.75"/>
<text x="199.30" y="701.30" font-size="5.75" text-anchor="middle" fill="#111" stroke="#111" stroke-width="0.22">CCT2</text>
<circle cx="204.5" cy="654.5" r="10.5" fill="#CDF5CD"/>
<circle cx="204.5" cy="654.5" r="10.5" fill="none" stroke="#6A1F6A" stroke-width="1.75"/>
<text x="204.30" y="656.55" font-size="5.75" text-anchor="middle" fill="#111" stroke="#111" stroke-width="0.22">HBS1L</text>
<circle cx="237.5" cy="601.75" r="10.5" fill="#CDF5CD"/>
<circle cx="237.5" cy="601.75" r="10.5" fill="none" stroke="#6A1F6A" stroke-width="1.75"/>
<text x="237.30" y="603.80" font-size="5.75" text-anchor="middle" fill="#111" stroke="#111" stroke-width="0.22">PARP14</text>
<circle cx="250.0" cy="562.0" r="10.5" fill="#CDF5CD"/>
<circle cx="250.0" cy="562.0" r="10.5" fill="none" stroke="#6A1F6A" stroke-width="1.75"/>
<text x="249.80" y="564.05" font-size="5.75" text-anchor="middle" fill="#111" stroke="#111" stroke-width="0.22">HDAC2</text>
<circle cx="278.75" cy="519.25" r="10.5" fill="#CDF5CD"/>
<circle cx="278.75" cy="519.25" r="10.5" fill="none" stroke="#6A1F6A" stroke-width="1.75"/>
<text x="278.55" y="521.30" font-size="5.75" text-anchor="middle" fill="#111" stroke="#111" stroke-width="0.22">PARP6</text>
<circle cx="295.75" cy="592.0" r="10.5" fill="#CDF5CD"/>
<circle cx="295.75" cy="592.0" r="10.5" fill="none" stroke="#6A1F6A" stroke-width="1.75"/>
<text x="295.55" y="594.05" font-size="5.75" text-anchor="middle" fill="#111" stroke="#111" stroke-width="0.22">TOP1</text>
<circle cx="324.5" cy="549.75" r="10.5" fill="#CDF5CD"/>
<path d="M324.50,549.75 L335.00,549.75 A10.50,10.50 0 0 1 333.94,554.35 Z" fill="#FF0000" stroke="#FFFFFF" stroke-width="0.5"/>
<circle cx="324.5" cy="549.75" r="10.5" fill="none" stroke="#6A1F6A" stroke-width="1.75"/>
<text x="324.30" y="551.80" font-size="5.75" text-anchor="middle" fill="#111" stroke="#111" stroke-width="0.22">CDH1</text>
<circle cx="363.25" cy="528.75" r="10.5" fill="#CDF5CD"/>
<circle cx="363.25" cy="528.75" r="10.5" fill="none" stroke="#6A1F6A" stroke-width="1.75"/>
<text x="363.05" y="530.80" font-size="5.75" text-anchor="middle" fill="#111" stroke="#111" stroke-width="0.22">RB1</text>
<circle cx="407.0" cy="543.0" r="10.5" fill="#CDF5CD"/>
<circle cx="407.0" cy="543.0" r="10.5" fill="none" stroke="#6A1F6A" stroke-width="1.75"/>
<text x="406.80" y="545.05" font-size="5.75" text-anchor="middle" fill="#111" stroke="#111" stroke-width="0.22">RAD52</text>
<circle cx="365.5" cy="581.25" r="10.5" fill="#CDF5CD"/>
<path d="M365.50,581.25 L376.00,581.25 A10.50,10.50 0 0 1 372.25,589.29 Z" fill="#FF0000" stroke="#FFFFFF" stroke-width="0.5"/>
<circle cx="365.5" cy="581.25" r="10.5" fill="none" stroke="#6A1F6A" stroke-width="1.75"/>
<text x="365.30" y="583.30" font-size="5.75" text-anchor="middle" fill="#111" stroke="#111" stroke-width="0.22">BRCA1</text>
<circle cx="434.9" cy="581.7" r="10.5" fill="#CDF5CD"/>
<path d="M434.90,581.70 L440.15,572.61 A10.50,10.50 0 0 1 445.40,581.70 Z" fill="#0000E6" stroke="#FFFFFF" stroke-width="0.5"/>
<path d="M434.90,581.70 L445.40,581.70 A10.50,10.50 0 0 1 440.62,590.51 Z" fill="#FF0000" stroke="#FFFFFF" stroke-width="0.5"/>
<circle cx="434.9" cy="581.7" r="10.5" fill="none" stroke="#6A1F6A" stroke-width="1.75"/>
<text x="434.70" y="583.75" font-size="5.75" text-anchor="middle" fill="#111" stroke="#111" stroke-width="0.22">CSMD1</text>
<circle cx="470.4" cy="543.4" r="10.5" fill="#CDF5CD"/>
<circle cx="470.4" cy="543.4" r="10.5" fill="none" stroke="#6A1F6A" stroke-width="1.75"/>
<text x="470.20" y="545.45" font-size="5.75" text-anchor="middle" fill="#111" stroke="#111" stroke-width="0.22">PARP16</text>
<circle cx="334.5" cy="606.25" r="10.5" fill="#CDF5CD"/>
<path d="M334.50,606.25 L345.00,606.25 A10.50,10.50 0 1 1 329.09,597.25 Z" fill="#FF0000" stroke="#FFFFFF" stroke-width="0.5"/>
<circle cx="334.5" cy="606.25" r="10.5" fill="none" stroke="#6A1F6A" stroke-width="1.75"/>
<text x="334.30" y="608.30" font-size="5.75" text-anchor="middle" fill="#111" stroke="#111" stroke-width="0.22">CCNE1</text>
<circle cx="288.25" cy="624.5" r="10.5" fill="#CDF5CD"/>
<path d="M288.25,624.50 L298.44,621.96 A10.50,10.50 0 0 1 298.75,624.50 Z" fill="#0000E6" stroke="#FFFFFF" stroke-width="0.5"/>
<path d="M288.25,624.50 L298.75,624.50 A10.50,10.50 0 0 1 298.44,627.04 Z" fill="#FF0000" stroke="#FFFFFF" stroke-width="0.5"/>
<circle cx="288.25" cy="624.5" r="10.5" fill="none" stroke="#6A1F6A" stroke-width="1.75"/>
<text x="288.05" y="626.55" font-size="5.75" text-anchor="middle" fill="#111" stroke="#111" stroke-width="0.22">FANCB</text>
<circle cx="265.5" cy="650.0" r="10.5" fill="#CDF5CD"/>
<path d="M265.50,650.00 L276.00,650.00 A10.50,10.50 0 0 1 270.75,659.09 Z" fill="#FF0000" stroke="#FFFFFF" stroke-width="0.5"/>
<circle cx="265.5" cy="650.0" r="10.5" fill="none" stroke="#6A1F6A" stroke-width="1.75"/>
<text x="265.30" y="652.05" font-size="5.75" text-anchor="middle" fill="#111" stroke="#111" stroke-width="0.22">ABCC4</text>
<circle cx="320.5" cy="647.75" r="10.5" fill="#CDF5CD"/>
<path d="M320.50,647.75 L331.00,647.75 A10.50,10.50 0 1 1 310.36,645.03 Z" fill="#FF0000" stroke="#FFFFFF" stroke-width="0.5"/>
<circle cx="320.5" cy="647.75" r="10.5" fill="none" stroke="#6A1F6A" stroke-width="1.75"/>
<text x="320.30" y="649.80" font-size="5.75" text-anchor="middle" fill="#111" stroke="#111" stroke-width="0.22">BRCA2</text>
<circle cx="370.75" cy="644.5" r="10.5" fill="#CDF5CD"/>
<circle cx="370.75" cy="644.5" r="10.5" fill="none" stroke="#6A1F6A" stroke-width="1.75"/>
<text x="370.55" y="646.55" font-size="5.75" text-anchor="middle" fill="#111" stroke="#111" stroke-width="0.22">APEX1</text>
<circle cx="392.5" cy="622.0" r="10.5" fill="#CDF5CD"/>
<path d="M392.50,622.00 L402.49,618.76 A10.50,10.50 0 0 1 403.00,622.00 Z" fill="#0000E6" stroke="#FFFFFF" stroke-width="0.5"/>
<path d="M392.50,622.00 L403.00,622.00 A10.50,10.50 0 0 1 382.01,622.37 Z" fill="#FF0000" stroke="#FFFFFF" stroke-width="0.5"/>
<circle cx="392.5" cy="622.0" r="10.5" fill="none" stroke="#6A1F6A" stroke-width="1.75"/>
<text x="392.30" y="624.05" font-size="5.75" text-anchor="middle" fill="#111" stroke="#111" stroke-width="0.22">CHEK1</text>
<circle cx="416.75" cy="610.25" r="10.5" fill="#CDF5CD"/>
<circle cx="416.75" cy="610.25" r="10.5" fill="none" stroke="#6A1F6A" stroke-width="1.75"/>
<text x="416.55" y="612.30" font-size="5.75" text-anchor="middle" fill="#111" stroke="#111" stroke-width="0.22">SMC1A</text>
<circle cx="432.4" cy="629.8" r="10.5" fill="#CDF5CD"/>
<circle cx="432.4" cy="629.8" r="10.5" fill="none" stroke="#6A1F6A" stroke-width="1.75"/>
<text x="432.20" y="631.85" font-size="5.75" text-anchor="middle" fill="#111" stroke="#111" stroke-width="0.22">STAG1</text>
<circle cx="479.6" cy="614.3" r="10.5" fill="#CDF5CD"/>
<circle cx="479.6" cy="614.3" r="10.5" fill="none" stroke="#6A1F6A" stroke-width="1.75"/>
<text x="479.40" y="616.35" font-size="5.75" text-anchor="middle" fill="#111" stroke="#111" stroke-width="0.22">PARP2</text>
<circle cx="444.3" cy="651.2" r="10.5" fill="#CDF5CD"/>
<circle cx="444.3" cy="651.2" r="10.5" fill="none" stroke="#6A1F6A" stroke-width="1.75"/>
<text x="444.10" y="653.25" font-size="5.75" text-anchor="middle" fill="#111" stroke="#111" stroke-width="0.22">SMC3</text>
<circle cx="496.5" cy="654.7" r="10.5" fill="#CDF5CD"/>
<path d="M496.50,654.70 L504.54,647.95 A10.50,10.50 0 0 1 507.00,654.70 Z" fill="#0000E6" stroke="#FFFFFF" stroke-width="0.5"/>
<path d="M496.50,654.70 L507.00,654.70 A10.50,10.50 0 0 1 506.59,657.59 Z" fill="#FF0000" stroke="#FFFFFF" stroke-width="0.5"/>
<circle cx="496.5" cy="654.7" r="10.5" fill="none" stroke="#6A1F6A" stroke-width="1.75"/>
<text x="496.30" y="656.75" font-size="5.75" text-anchor="middle" fill="#111" stroke="#111" stroke-width="0.22">NAMPT</text>
<circle cx="236.25" cy="673.0" r="10.5" fill="#CDF5CD"/>
<path d="M236.25,673.00 L246.12,669.41 A10.50,10.50 0 0 1 246.75,673.00 Z" fill="#0000E6" stroke="#FFFFFF" stroke-width="0.5"/>
<path d="M236.25,673.00 L246.75,673.00 A10.50,10.50 0 0 1 243.00,681.04 Z" fill="#FF0000" stroke="#FFFFFF" stroke-width="0.5"/>
<circle cx="236.25" cy="673.0" r="10.5" fill="none" stroke="#6A1F6A" stroke-width="1.75"/>
<text x="236.05" y="675.05" font-size="5.75" text-anchor="middle" fill="#111" stroke="#111" stroke-width="0.22">BIRC2</text>
<circle cx="279.5" cy="678.75" r="10.5" fill="#CDF5CD"/>
<path d="M279.50,678.75 L290.00,678.75 A10.50,10.50 0 1 1 277.68,668.41 Z" fill="#FF0000" stroke="#FFFFFF" stroke-width="0.5"/>
<circle cx="279.5" cy="678.75" r="10.5" fill="none" stroke="#6A1F6A" stroke-width="1.75"/>
<text x="279.30" y="680.80" font-size="5.75" text-anchor="middle" fill="#111" stroke="#111" stroke-width="0.22">TOP2A</text>
<circle cx="330.75" cy="684.5" r="10.5" fill="#CDF5CD"/>
<path d="M330.75,684.50 L341.25,684.50 A10.50,10.50 0 1 1 326.65,674.83 Z" fill="#FF0000" stroke="#FFFFFF" stroke-width="0.5"/>
<circle cx="330.75" cy="684.5" r="10.5" fill="none" stroke="#6A1F6A" stroke-width="1.75"/>
<text x="330.55" y="686.55" font-size="5.75" text-anchor="middle" fill="#111" stroke="#111" stroke-width="0.22">RRM2</text>
<circle cx="394.3" cy="682.9" r="10.5" fill="#CDF5CD"/>
<circle cx="394.3" cy="682.9" r="10.5" fill="none" stroke="#6A1F6A" stroke-width="1.75"/>
<text x="394.10" y="684.95" font-size="5.75" text-anchor="middle" fill="#111" stroke="#111" stroke-width="0.22">PARP1</text>
<circle cx="456.8" cy="682.3" r="10.5" fill="#CDF5CD"/>
<circle cx="456.8" cy="682.3" r="10.5" fill="none" stroke="#6A1F6A" stroke-width="1.75"/>
<text x="456.60" y="684.35" font-size="5.75" text-anchor="middle" fill="#111" stroke="#111" stroke-width="0.22">CDK12</text>
<circle cx="499.6" cy="691.8" r="10.5" fill="#CDF5CD"/>
<circle cx="499.6" cy="691.8" r="10.5" fill="none" stroke="#6A1F6A" stroke-width="1.75"/>
<text x="499.40" y="693.85" font-size="5.75" text-anchor="middle" fill="#111" stroke="#111" stroke-width="0.22">RAD21</text>
<circle cx="292.5" cy="701.25" r="10.5" fill="#CDF5CD"/>
<path d="M292.50,701.25 L302.37,697.66 A10.50,10.50 0 0 1 303.00,701.25 Z" fill="#0000E6" stroke="#FFFFFF" stroke-width="0.5"/>
<circle cx="292.5" cy="701.25" r="10.5" fill="none" stroke="#6A1F6A" stroke-width="1.75"/>
<text x="292.30" y="703.30" font-size="5.75" text-anchor="middle" fill="#111" stroke="#111" stroke-width="0.22">NARS2</text>
<circle cx="252.0" cy="720.5" r="10.5" fill="#CDF5CD"/>
<circle cx="252.0" cy="720.5" r="10.5" fill="none" stroke="#6A1F6A" stroke-width="1.75"/>
<text x="251.80" y="722.55" font-size="5.75" text-anchor="middle" fill="#111" stroke="#111" stroke-width="0.22">KRAS</text>
<circle cx="320.75" cy="720.5" r="10.5" fill="#CDF5CD"/>
<circle cx="320.75" cy="720.5" r="10.5" fill="none" stroke="#6A1F6A" stroke-width="1.75"/>
<text x="320.55" y="722.55" font-size="5.75" text-anchor="middle" fill="#111" stroke="#111" stroke-width="0.22">LIG3</text>
<circle cx="363.75" cy="710.6" r="10.5" fill="#CDF5CD"/>
<path d="M363.75,710.60 L374.25,710.60 A10.50,10.50 0 0 1 373.94,713.14 Z" fill="#FF0000" stroke="#FFFFFF" stroke-width="0.5"/>
<circle cx="363.75" cy="710.6" r="10.5" fill="none" stroke="#6A1F6A" stroke-width="1.75"/>
<text x="363.55" y="712.65" font-size="5.75" text-anchor="middle" fill="#111" stroke="#111" stroke-width="0.22">NUP205</text>
<circle cx="461.9" cy="708.3" r="10.5" fill="#CDF5CD"/>
<path d="M461.90,708.30 L472.40,708.30 A10.50,10.50 0 0 1 467.15,717.39 Z" fill="#FF0000" stroke="#FFFFFF" stroke-width="0.5"/>
<circle cx="461.9" cy="708.3" r="10.5" fill="none" stroke="#6A1F6A" stroke-width="1.75"/>
<text x="461.70" y="710.35" font-size="5.75" text-anchor="middle" fill="#111" stroke="#111" stroke-width="0.22">STAG2</text>
<circle cx="446.8" cy="728.8" r="10.5" fill="#CDF5CD"/>
<circle cx="446.8" cy="728.8" r="10.5" fill="none" stroke="#6A1F6A" stroke-width="1.75"/>
<text x="446.60" y="730.85" font-size="5.75" text-anchor="middle" fill="#111" stroke="#111" stroke-width="0.22">GSK3A</text>
<circle cx="417.6" cy="738.2" r="10.5" fill="#CDF5CD"/>
<circle cx="417.6" cy="738.2" r="10.5" fill="none" stroke="#6A1F6A" stroke-width="1.75"/>
<text x="417.40" y="740.25" font-size="5.75" text-anchor="middle" fill="#111" stroke="#111" stroke-width="0.22">XAB2</text>
<circle cx="337.5" cy="745.0" r="10.5" fill="#CDF5CD"/>
<circle cx="337.5" cy="745.0" r="10.5" fill="none" stroke="#6A1F6A" stroke-width="1.75"/>
<text x="337.30" y="747.05" font-size="5.75" text-anchor="middle" fill="#111" stroke="#111" stroke-width="0.22">ATR</text>
<circle cx="386.25" cy="757.0" r="10.5" fill="#CDF5CD"/>
<circle cx="386.25" cy="757.0" r="10.5" fill="none" stroke="#6A1F6A" stroke-width="1.75"/>
<text x="386.05" y="759.05" font-size="5.75" text-anchor="middle" fill="#111" stroke="#111" stroke-width="0.22">ATM</text>
<circle cx="280.5" cy="759.25" r="10.5" fill="#CDF5CD"/>
<circle cx="280.5" cy="759.25" r="10.5" fill="none" stroke="#6A1F6A" stroke-width="1.75"/>
<text x="280.30" y="761.30" font-size="5.75" text-anchor="middle" fill="#111" stroke="#111" stroke-width="0.22">JAK2</text>
<circle cx="252.0" cy="778.25" r="10.5" fill="#CDF5CD"/>
<path d="M252.00,778.25 L253.82,767.91 A10.50,10.50 0 0 1 262.50,778.25 Z" fill="#0000E6" stroke="#FFFFFF" stroke-width="0.5"/>
<path d="M252.00,778.25 L262.50,778.25 A10.50,10.50 0 0 1 253.82,788.59 Z" fill="#FF0000" stroke="#FFFFFF" stroke-width="0.5"/>
<circle cx="252.0" cy="778.25" r="10.5" fill="none" stroke="#6A1F6A" stroke-width="1.75"/>
<text x="251.80" y="780.30" font-size="5.75" text-anchor="middle" fill="#111" stroke="#111" stroke-width="0.22">GATA3</text>
<circle cx="328.75" cy="784.25" r="10.5" fill="#CDF5CD"/>
<circle cx="328.75" cy="784.25" r="10.5" fill="none" stroke="#6A1F6A" stroke-width="1.75"/>
<text x="328.55" y="786.30" font-size="5.75" text-anchor="middle" fill="#111" stroke="#111" stroke-width="0.22">USPL1</text>
<circle cx="392.5" cy="783.75" r="10.5" fill="#CDF5CD"/>
<circle cx="392.5" cy="783.75" r="10.5" fill="none" stroke="#6A1F6A" stroke-width="1.75"/>
<text x="392.30" y="785.80" font-size="5.75" text-anchor="middle" fill="#111" stroke="#111" stroke-width="0.22">PARP4</text>
<circle cx="446.2" cy="783.8" r="10.5" fill="#CDF5CD"/>
<circle cx="446.2" cy="783.8" r="10.5" fill="none" stroke="#6A1F6A" stroke-width="1.75"/>
<text x="446.00" y="785.85" font-size="5.75" text-anchor="middle" fill="#111" stroke="#111" stroke-width="0.22">POLR3H</text>
<circle cx="301.25" cy="808.25" r="10.5" fill="#CDF5CD"/>
<path d="M301.25,808.25 L311.12,804.66 A10.50,10.50 0 0 1 311.75,808.25 Z" fill="#0000E6" stroke="#FFFFFF" stroke-width="0.5"/>
<path d="M301.25,808.25 L311.75,808.25 A10.50,10.50 0 0 1 308.67,815.67 Z" fill="#FF0000" stroke="#FFFFFF" stroke-width="0.5"/>
<circle cx="301.25" cy="808.25" r="10.5" fill="none" stroke="#6A1F6A" stroke-width="1.75"/>
<text x="301.05" y="810.30" font-size="5.75" text-anchor="middle" fill="#111" stroke="#111" stroke-width="0.22">EGFR</text>
<circle cx="366.8" cy="810.3" r="10.5" fill="#CDF5CD"/>
<path d="M366.80,810.30 L377.30,810.30 A10.50,10.50 0 0 1 376.94,813.02 Z" fill="#FF0000" stroke="#FFFFFF" stroke-width="0.5"/>
<circle cx="366.8" cy="810.3" r="10.5" fill="none" stroke="#6A1F6A" stroke-width="1.75"/>
<text x="366.60" y="812.35" font-size="5.75" text-anchor="middle" fill="#111" stroke="#111" stroke-width="0.22">TP53</text>
<circle cx="425.3" cy="813.2" r="10.5" fill="#CDF5CD"/>
<path d="M425.30,813.20 L435.29,809.96 A10.50,10.50 0 0 1 435.80,813.20 Z" fill="#0000E6" stroke="#FFFFFF" stroke-width="0.5"/>
<path d="M425.30,813.20 L435.80,813.20 A10.50,10.50 0 0 1 423.66,823.57 Z" fill="#FF0000" stroke="#FFFFFF" stroke-width="0.5"/>
<circle cx="425.3" cy="813.2" r="10.5" fill="none" stroke="#6A1F6A" stroke-width="1.75"/>
<text x="425.10" y="815.25" font-size="5.75" text-anchor="middle" fill="#111" stroke="#111" stroke-width="0.22">MET</text>
</svg>
</body></html>
